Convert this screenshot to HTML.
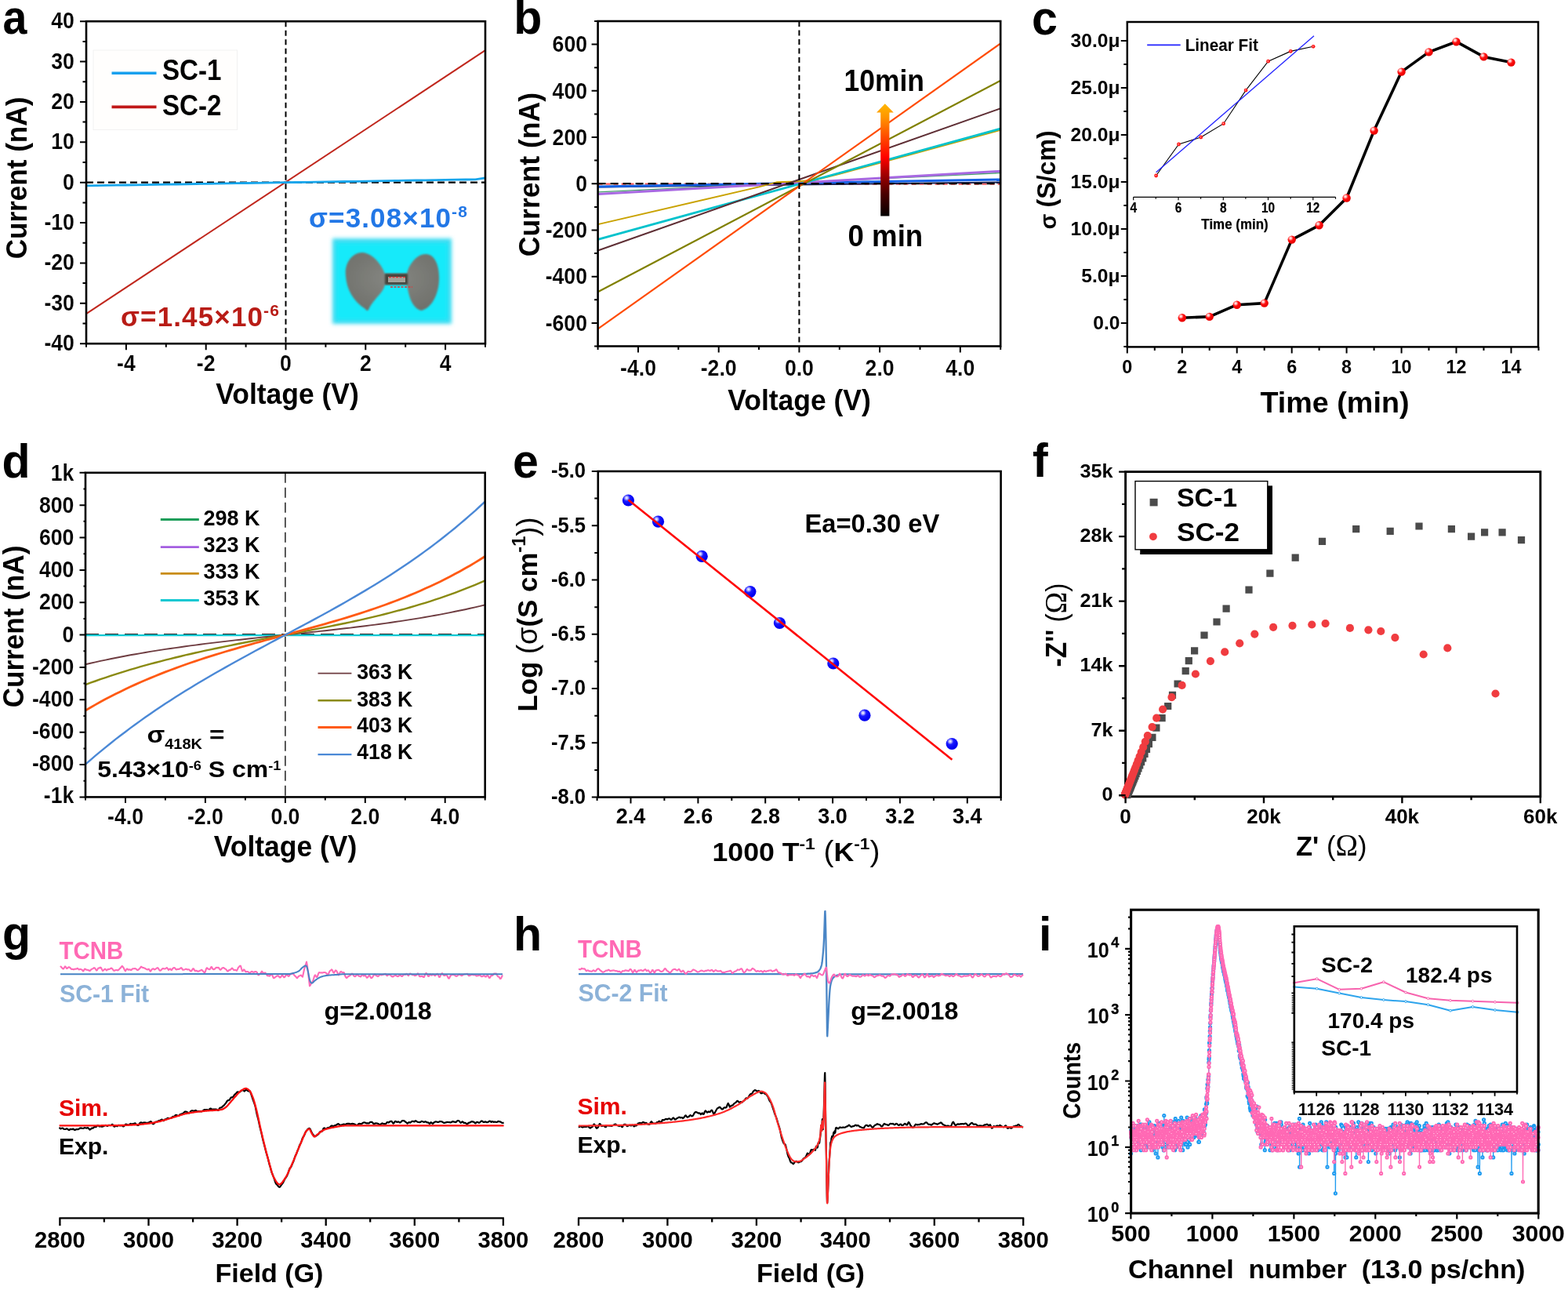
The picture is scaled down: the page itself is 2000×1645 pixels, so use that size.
<!DOCTYPE html>
<html lang="en"><head><meta charset="utf-8"><title>Figure</title>
<style>
html,body{margin:0;padding:0;background:#fff}
body{width:2000px;height:1645px;overflow:hidden}
svg{display:block}
text{font-family:"Liberation Sans", Arial, Helvetica, sans-serif;font-weight:bold}
</style></head><body>
<svg width="2000" height="1645" viewBox="0 0 2000 1645">
<defs>
<filter id="blur3" x="-10%" y="-10%" width="120%" height="120%"><feGaussianBlur stdDeviation="2.5"/></filter>
<filter id="blur1"><feGaussianBlur stdDeviation="0.9"/></filter>
<radialGradient id="padg" cx="50%" cy="45%" r="60%"><stop offset="0" stop-color="#868782"/><stop offset="1" stop-color="#70716c"/></radialGradient>
<linearGradient id="arrg" x1="0" y1="1" x2="0" y2="0"><stop offset="0" stop-color="#050000"/><stop offset="0.2" stop-color="#4a0000"/><stop offset="0.38" stop-color="#a80000"/><stop offset="0.52" stop-color="#ff0000"/><stop offset="0.7" stop-color="#ff4a00"/><stop offset="0.88" stop-color="#ff9500"/><stop offset="1" stop-color="#ffb800"/></linearGradient>
<radialGradient id="ball" cx="35%" cy="32%" r="65%"><stop offset="0" stop-color="#fff"/><stop offset="0.22" stop-color="#ffb0b0"/><stop offset="0.5" stop-color="#ff1010"/><stop offset="1" stop-color="#e80000"/></radialGradient>
<radialGradient id="bball" cx="36%" cy="30%" r="60%"><stop offset="0" stop-color="#fff"/><stop offset="0.18" stop-color="#b8b8ff"/><stop offset="0.45" stop-color="#1a1aff"/><stop offset="1" stop-color="#0000f0"/></radialGradient>
<marker id="mp" markerWidth="6" markerHeight="6" refX="3" refY="3" markerUnits="userSpaceOnUse"><circle cx="3" cy="3" r="1.6" fill="#fff" stroke="#ff69b4" stroke-width="2"/></marker><marker id="mb" markerWidth="6" markerHeight="6" refX="3" refY="3" markerUnits="userSpaceOnUse"><circle cx="3" cy="3" r="1.6" fill="#fff" stroke="#1e9bf0" stroke-width="2"/></marker><marker id="sp" markerWidth="6" markerHeight="6" refX="3" refY="3" markerUnits="userSpaceOnUse"><circle cx="3" cy="3" r="1.4" fill="#fff" stroke="#f763ae" stroke-width="1"/></marker><marker id="sb" markerWidth="6" markerHeight="6" refX="3" refY="3" markerUnits="userSpaceOnUse"><circle cx="3" cy="3" r="1.4" fill="#fff" stroke="#2ea4ec" stroke-width="1"/></marker><clipPath id="cli"><rect x="1439.6" y="1160.2" width="525.6" height="388.9"/></clipPath>
</defs>
<rect width="2000" height="1645" fill="#fff"/>
<g id="pa"><rect x="119" y="64" width="183.5" height="101.5" fill="#fffefd" stroke="#f1f1f1" stroke-width="1"/><line x1="110" y1="232.7" x2="619" y2="232.7" stroke="#000" stroke-width="2.2" stroke-dasharray="9 5"/><line x1="364.5" y1="27.2" x2="364.5" y2="438.2" stroke="#000" stroke-width="2" stroke-dasharray="7 4.5"/><line x1="110" y1="400.2" x2="619" y2="64.2" stroke="#c0261c" stroke-width="2"/><polyline points="110,236.8 122.7,236.6 135.4,236.4 148.2,236.2 160.9,236 173.6,235.8 186.3,235.6 199.1,235.4 211.8,235.2 224.5,235 237.2,234.8 250,234.5 262.7,234.3 275.4,234.1 288.1,233.9 300.9,233.7 313.6,233.5 326.3,233.3 339.1,233.1 351.8,232.9 364.5,232.7 377.2,232.5 390,232.3 402.7,232.1 415.4,231.9 428.1,231.7 440.9,231.5 453.6,231.3 466.3,231.1 479,230.9 491.8,230.6 504.5,230.4 517.2,230.2 529.9,230 542.6,229.8 555.4,229.6 568.1,229.4 580.8,229.2 593.5,229 606.3,228.8 619,226.8" fill="none" stroke="#18a6ec" stroke-width="2.8"/><rect x="110" y="27.2" width="509" height="411" fill="none" stroke="#000" stroke-width="2.6"/><path d="M160.9 438.2v8M262.7 438.2v8M364.5 438.2v8M466.3 438.2v8M568.1 438.2v8" stroke="#000" stroke-width="2" fill="none"/><path d="M110 438.2v4.5M211.8 438.2v4.5M313.6 438.2v4.5M415.4 438.2v4.5M517.2 438.2v4.5M619 438.2v4.5" stroke="#000" stroke-width="2" fill="none"/><path d="M110 438.2h-8M110 386.8h-8M110 335.4h-8M110 284.1h-8M110 232.7h-8M110 181.3h-8M110 129.9h-8M110 78.6h-8M110 27.2h-8" stroke="#000" stroke-width="2" fill="none"/><path d="M110 412.5h-4.5M110 361.1h-4.5M110 309.8h-4.5M110 258.4h-4.5M110 207h-4.5M110 155.6h-4.5M110 104.3h-4.5M110 52.9h-4.5" stroke="#000" stroke-width="2" fill="none"/><text x="160.9" y="473.3" font-size="29.6" text-anchor="middle" textLength="23.7" lengthAdjust="spacingAndGlyphs" stroke="#fff" stroke-width="0.15">-4</text><text x="262.7" y="473.3" font-size="29.6" text-anchor="middle" textLength="23.7" lengthAdjust="spacingAndGlyphs" stroke="#fff" stroke-width="0.15">-2</text><text x="364.5" y="473.3" font-size="29.6" text-anchor="middle" textLength="14.8" lengthAdjust="spacingAndGlyphs" stroke="#fff" stroke-width="0.15">0</text><text x="466.3" y="473.3" font-size="29.6" text-anchor="middle" textLength="14.8" lengthAdjust="spacingAndGlyphs" stroke="#fff" stroke-width="0.15">2</text><text x="568.1" y="473.3" font-size="29.6" text-anchor="middle" textLength="14.8" lengthAdjust="spacingAndGlyphs" stroke="#fff" stroke-width="0.15">4</text><text x="94.9" y="447.2" font-size="29.6" text-anchor="end" textLength="38.5" lengthAdjust="spacingAndGlyphs" stroke="#fff" stroke-width="0.15">-40</text><text x="94.9" y="395.8" font-size="29.6" text-anchor="end" textLength="38.5" lengthAdjust="spacingAndGlyphs" stroke="#fff" stroke-width="0.15">-30</text><text x="94.9" y="344.4" font-size="29.6" text-anchor="end" textLength="38.5" lengthAdjust="spacingAndGlyphs" stroke="#fff" stroke-width="0.15">-20</text><text x="94.9" y="293.1" font-size="29.6" text-anchor="end" textLength="38.5" lengthAdjust="spacingAndGlyphs" stroke="#fff" stroke-width="0.15">-10</text><text x="94.9" y="241.7" font-size="29.6" text-anchor="end" textLength="14.8" lengthAdjust="spacingAndGlyphs" stroke="#fff" stroke-width="0.15">0</text><text x="94.9" y="190.3" font-size="29.6" text-anchor="end" textLength="29.6" lengthAdjust="spacingAndGlyphs" stroke="#fff" stroke-width="0.15">10</text><text x="94.9" y="138.9" font-size="29.6" text-anchor="end" textLength="29.6" lengthAdjust="spacingAndGlyphs" stroke="#fff" stroke-width="0.15">20</text><text x="94.9" y="87.6" font-size="29.6" text-anchor="end" textLength="29.6" lengthAdjust="spacingAndGlyphs" stroke="#fff" stroke-width="0.15">30</text><text x="94.9" y="36.2" font-size="29.6" text-anchor="end" textLength="29.6" lengthAdjust="spacingAndGlyphs" stroke="#fff" stroke-width="0.15">40</text><text font-size="36" text-anchor="middle" textLength="206.7" lengthAdjust="spacingAndGlyphs" transform="translate(34 227) rotate(-90)">Current (nA)</text><text x="366.5" y="514.8" font-size="36" text-anchor="middle" textLength="182.6" lengthAdjust="spacingAndGlyphs">Voltage (V)</text><text x="3.4" y="43.3" font-size="61" textLength="30.9" lengthAdjust="spacingAndGlyphs">a</text><line x1="142.5" y1="93.3" x2="199.5" y2="93.3" stroke="#18a0ee" stroke-width="3.6"/><line x1="142.5" y1="136.4" x2="199.5" y2="136.4" stroke="#c01818" stroke-width="3.6"/><text x="207" y="101.7" font-size="36" textLength="75.5" lengthAdjust="spacingAndGlyphs">SC-1</text><text x="207" y="146.8" font-size="36" textLength="75.5" lengthAdjust="spacingAndGlyphs">SC-2</text><text x="394" y="290.2" font-size="35" fill="#2277e6" textLength="203" lengthAdjust="spacing">σ=3.08×10<tspan font-size="21" dy="-13">-8</tspan><tspan dy="13">​</tspan></text><text x="154" y="416" font-size="35" fill="#b81c16" textLength="203" lengthAdjust="spacing">σ=1.45×10<tspan font-size="21" dy="-13">-6</tspan><tspan dy="13">​</tspan></text><g><rect x="424" y="304" width="152" height="109" fill="#3fdcf2" filter="url(#blur3)"/><rect x="429" y="310" width="142" height="98" fill="#16eafa" filter="url(#blur3)"/><path d="M441 352 C439 336 449 322 462 322 C476 323 487 338 491 349 L519 349 C522 336 532 324 543 324 C556 324 561 342 560 358 C559 378 549 394 537 396 C524 392 521 374 519 363 L491 363 C489 374 477 380 470 395 C469 397 467 396 466 394 C450 384 442 368 441 352Z" fill="url(#padg)" filter="url(#blur1)"/><rect x="491" y="349" width="29" height="14" fill="#45443c" filter="url(#blur1)"/><rect x="495" y="353" width="22" height="7" fill="#a3a39a"/><path d="M496 353.5h22M498 366h28" stroke="#e03a3a" stroke-width="1.3" stroke-dasharray="3 1.5"/></g></g>
<g id="pb"><line x1="762.6" y1="234.6" x2="1276.2" y2="234.6" stroke="#ff5a5a" stroke-width="2.2" stroke-dasharray="6 4"/><line x1="762.6" y1="238.4" x2="1276.2" y2="232.5" stroke="#182050" stroke-width="2"/><line x1="762.6" y1="238.1" x2="1276.2" y2="228.9" stroke="#1462e6" stroke-width="3"/><line x1="762.6" y1="244.9" x2="1276.2" y2="220.6" stroke="#46a06a" stroke-width="1.4"/><line x1="762.6" y1="247.6" x2="1276.2" y2="218.3" stroke="#a868e2" stroke-width="3"/><polyline points="762.6,286.1 968,238.4 991.2,232.2 1014.3,231.6 1039.9,229.5 1070.8,221.8 1276.2,165.9" fill="none" stroke="#c9a200" stroke-width="2"/><line x1="762.6" y1="305.3" x2="1276.2" y2="164.1" stroke="#00c2cc" stroke-width="2.8"/><line x1="762.6" y1="319.5" x2="1276.2" y2="138.3" stroke="#5e2e34" stroke-width="2"/><line x1="762.6" y1="372.2" x2="1276.2" y2="102.8" stroke="#808000" stroke-width="2.2"/><line x1="762.6" y1="419.3" x2="1276.2" y2="55.4" stroke="#ff4a00" stroke-width="2.2"/><line x1="762.6" y1="234.2" x2="1276.2" y2="234.2" stroke="#000" stroke-width="2.2" stroke-dasharray="10 6"/><line x1="1019.4" y1="27" x2="1019.4" y2="441.5" stroke="#000" stroke-width="2" stroke-dasharray="7 4.5"/><path d="M1123.2 275.5V143.5H1118L1128.8 132.2L1139.8 143.5H1134.4V275.5Z" fill="url(#arrg)"/><text x="1076.5" y="116.1" font-size="39.4" textLength="102.5" lengthAdjust="spacingAndGlyphs">10min</text><text x="1081.5" y="314.1" font-size="39.4" textLength="95.7" lengthAdjust="spacingAndGlyphs">0 min</text><rect x="762.6" y="27" width="513.6" height="414.5" fill="none" stroke="#000" stroke-width="2.6"/><path d="M814 441.5v8M916.7 441.5v8M1019.4 441.5v8M1122.1 441.5v8M1224.8 441.5v8" stroke="#000" stroke-width="2" fill="none"/><path d="M762.6 441.5v4.5M865.3 441.5v4.5M968 441.5v4.5M1070.8 441.5v4.5M1173.5 441.5v4.5M1276.2 441.5v4.5" stroke="#000" stroke-width="2" fill="none"/><path d="M762.6 411.9h-8M762.6 352.7h-8M762.6 293.5h-8M762.6 234.2h-8M762.6 175h-8M762.6 115.8h-8M762.6 56.6h-8" stroke="#000" stroke-width="2" fill="none"/><path d="M762.6 441.5h-4.5M762.6 382.3h-4.5M762.6 323.1h-4.5M762.6 263.9h-4.5M762.6 204.6h-4.5M762.6 145.4h-4.5M762.6 86.2h-4.5M762.6 27h-4.5" stroke="#000" stroke-width="2" fill="none"/><text x="814" y="478.6" font-size="29.6" text-anchor="middle" textLength="45.9" lengthAdjust="spacingAndGlyphs" stroke="#fff" stroke-width="0.15">-4.0</text><text x="916.7" y="478.6" font-size="29.6" text-anchor="middle" textLength="45.9" lengthAdjust="spacingAndGlyphs" stroke="#fff" stroke-width="0.15">-2.0</text><text x="1019.4" y="478.6" font-size="29.6" text-anchor="middle" textLength="37" lengthAdjust="spacingAndGlyphs" stroke="#fff" stroke-width="0.15">0.0</text><text x="1122.1" y="478.6" font-size="29.6" text-anchor="middle" textLength="37" lengthAdjust="spacingAndGlyphs" stroke="#fff" stroke-width="0.15">2.0</text><text x="1224.8" y="478.6" font-size="29.6" text-anchor="middle" textLength="37" lengthAdjust="spacingAndGlyphs" stroke="#fff" stroke-width="0.15">4.0</text><text x="749" y="421.6" font-size="29.6" text-anchor="end" textLength="53.3" lengthAdjust="spacingAndGlyphs" stroke="#fff" stroke-width="0.15">-600</text><text x="749" y="362.4" font-size="29.6" text-anchor="end" textLength="53.3" lengthAdjust="spacingAndGlyphs" stroke="#fff" stroke-width="0.15">-400</text><text x="749" y="303.2" font-size="29.6" text-anchor="end" textLength="53.3" lengthAdjust="spacingAndGlyphs" stroke="#fff" stroke-width="0.15">-200</text><text x="749" y="243.9" font-size="29.6" text-anchor="end" textLength="14.8" lengthAdjust="spacingAndGlyphs" stroke="#fff" stroke-width="0.15">0</text><text x="749" y="184.7" font-size="29.6" text-anchor="end" textLength="44.4" lengthAdjust="spacingAndGlyphs" stroke="#fff" stroke-width="0.15">200</text><text x="749" y="125.5" font-size="29.6" text-anchor="end" textLength="44.4" lengthAdjust="spacingAndGlyphs" stroke="#fff" stroke-width="0.15">400</text><text x="749" y="66.3" font-size="29.6" text-anchor="end" textLength="44.4" lengthAdjust="spacingAndGlyphs" stroke="#fff" stroke-width="0.15">600</text><text font-size="36" text-anchor="middle" textLength="209.4" lengthAdjust="spacingAndGlyphs" transform="translate(688 222.6) rotate(-90)">Current (nA)</text><text x="1019.5" y="523" font-size="36" text-anchor="middle" textLength="182.6" lengthAdjust="spacingAndGlyphs">Voltage (V)</text><text x="655.3" y="43.4" font-size="61" textLength="36.1" lengthAdjust="spacingAndGlyphs">b</text></g>
<g id="pc"><polyline points="1507.8,405.3 1542.7,403.9 1577.7,388.7 1612.7,386.6 1647.7,305.6 1682.6,287.3 1717.6,252.5 1752.6,166.6 1787.6,91.6 1822.5,66.4 1857.5,53.2 1892.5,72.4 1927.5,79.6" fill="none" stroke="#000" stroke-width="3.6" stroke-linejoin="round"/><circle cx="1507.8" cy="405.3" r="5.2" fill="url(#ball)"/><circle cx="1542.7" cy="403.9" r="5.2" fill="url(#ball)"/><circle cx="1577.7" cy="388.7" r="5.2" fill="url(#ball)"/><circle cx="1612.7" cy="386.6" r="5.2" fill="url(#ball)"/><circle cx="1647.7" cy="305.6" r="5.2" fill="url(#ball)"/><circle cx="1682.6" cy="287.3" r="5.2" fill="url(#ball)"/><circle cx="1717.6" cy="252.5" r="5.2" fill="url(#ball)"/><circle cx="1752.6" cy="166.6" r="5.2" fill="url(#ball)"/><circle cx="1787.6" cy="91.6" r="5.2" fill="url(#ball)"/><circle cx="1822.5" cy="66.4" r="5.2" fill="url(#ball)"/><circle cx="1857.5" cy="53.2" r="5.2" fill="url(#ball)"/><circle cx="1892.5" cy="72.4" r="5.2" fill="url(#ball)"/><circle cx="1927.5" cy="79.6" r="5.2" fill="url(#ball)"/><polyline points="1474.6,224 1503.5,184 1531.8,175 1560.6,157.7 1589.1,115.1 1617.6,78.2 1646.2,65.4 1675.1,59.3" fill="none" stroke="#000" stroke-width="1.1"/><line x1="1474.6" y1="219.8" x2="1676" y2="45.7" stroke="#2222ff" stroke-width="1.3"/><circle cx="1474.6" cy="224" r="2.4" fill="#ff1818"/><circle cx="1474.3" cy="223.7" r="0.8" fill="#ffc0c0"/><circle cx="1503.5" cy="184" r="2.4" fill="#ff1818"/><circle cx="1503.2" cy="183.7" r="0.8" fill="#ffc0c0"/><circle cx="1531.8" cy="175" r="2.4" fill="#ff1818"/><circle cx="1531.5" cy="174.7" r="0.8" fill="#ffc0c0"/><circle cx="1560.6" cy="157.7" r="2.4" fill="#ff1818"/><circle cx="1560.3" cy="157.4" r="0.8" fill="#ffc0c0"/><circle cx="1589.1" cy="115.1" r="2.4" fill="#ff1818"/><circle cx="1588.8" cy="114.8" r="0.8" fill="#ffc0c0"/><circle cx="1617.6" cy="78.2" r="2.4" fill="#ff1818"/><circle cx="1617.3" cy="77.9" r="0.8" fill="#ffc0c0"/><circle cx="1646.2" cy="65.4" r="2.4" fill="#ff1818"/><circle cx="1645.9" cy="65.1" r="0.8" fill="#ffc0c0"/><circle cx="1675.1" cy="59.3" r="2.4" fill="#ff1818"/><circle cx="1674.8" cy="59" r="0.8" fill="#ffc0c0"/><line x1="1445.7" y1="251.3" x2="1703.5" y2="251.3" stroke="#000" stroke-width="1.3"/><path d="M1445.7 251.3v4M1474.3 251.3v2.5M1503 251.3v4M1531.6 251.3v2.5M1560.3 251.3v4M1588.9 251.3v2.5M1617.5 251.3v4M1646.2 251.3v2.5M1674.8 251.3v4M1703.5 251.3v2.5" stroke="#000" stroke-width="1.2" fill="none"/><text x="1445.7" y="271" font-size="17.5" text-anchor="middle" font-weight="normal" textLength="8.6" lengthAdjust="spacingAndGlyphs" stroke="#000" stroke-width="0.2">4</text><text x="1503" y="271" font-size="17.5" text-anchor="middle" font-weight="normal" textLength="8.6" lengthAdjust="spacingAndGlyphs" stroke="#000" stroke-width="0.2">6</text><text x="1560.3" y="271" font-size="17.5" text-anchor="middle" font-weight="normal" textLength="8.6" lengthAdjust="spacingAndGlyphs" stroke="#000" stroke-width="0.2">8</text><text x="1617.5" y="271" font-size="17.5" text-anchor="middle" font-weight="normal" textLength="17.1" lengthAdjust="spacingAndGlyphs" stroke="#000" stroke-width="0.2">10</text><text x="1674.8" y="271" font-size="17.5" text-anchor="middle" font-weight="normal" textLength="17.1" lengthAdjust="spacingAndGlyphs" stroke="#000" stroke-width="0.2">12</text><text x="1575" y="292" font-size="18" text-anchor="middle" font-weight="normal" textLength="85.3" lengthAdjust="spacingAndGlyphs" stroke="#000" stroke-width="0.25">Time (min)</text><line x1="1463.2" y1="57.3" x2="1505.7" y2="57.3" stroke="#2222ff" stroke-width="1.8"/><text x="1511.7" y="65" font-size="22.5" textLength="93.2" lengthAdjust="spacingAndGlyphs">Linear Fit</text><rect x="1437.8" y="28" width="524.2" height="414.4" fill="none" stroke="#000" stroke-width="2.5"/><path d="M1437.8 442.4v8M1507.8 442.4v8M1577.7 442.4v8M1647.7 442.4v8M1717.6 442.4v8M1787.6 442.4v8M1857.5 442.4v8M1927.5 442.4v8" stroke="#000" stroke-width="2" fill="none"/><path d="M1472.8 442.4v4.5M1542.7 442.4v4.5M1612.7 442.4v4.5M1682.6 442.4v4.5M1752.6 442.4v4.5M1822.5 442.4v4.5M1892.5 442.4v4.5M1962.5 442.4v4.5" stroke="#000" stroke-width="2" fill="none"/><path d="M1437.8 412.1h-8M1437.8 352.1h-8M1437.8 292.1h-8M1437.8 232h-8M1437.8 172h-8M1437.8 112h-8M1437.8 52h-8" stroke="#000" stroke-width="2" fill="none"/><path d="M1437.8 442.1h-4.5M1437.8 382.1h-4.5M1437.8 322.1h-4.5M1437.8 262.1h-4.5M1437.8 202h-4.5M1437.8 142h-4.5M1437.8 82h-4.5" stroke="#000" stroke-width="2" fill="none"/><text x="1437.8" y="476.4" font-size="24.6" text-anchor="middle" textLength="13" lengthAdjust="spacingAndGlyphs">0</text><text x="1507.8" y="476.4" font-size="24.6" text-anchor="middle" textLength="13" lengthAdjust="spacingAndGlyphs">2</text><text x="1577.7" y="476.4" font-size="24.6" text-anchor="middle" textLength="13" lengthAdjust="spacingAndGlyphs">4</text><text x="1647.7" y="476.4" font-size="24.6" text-anchor="middle" textLength="13" lengthAdjust="spacingAndGlyphs">6</text><text x="1717.6" y="476.4" font-size="24.6" text-anchor="middle" textLength="13" lengthAdjust="spacingAndGlyphs">8</text><text x="1787.6" y="476.4" font-size="24.6" text-anchor="middle" textLength="26" lengthAdjust="spacingAndGlyphs">10</text><text x="1857.5" y="476.4" font-size="24.6" text-anchor="middle" textLength="26" lengthAdjust="spacingAndGlyphs">12</text><text x="1927.5" y="476.4" font-size="24.6" text-anchor="middle" textLength="26" lengthAdjust="spacingAndGlyphs">14</text><text x="1428.5" y="419.6" font-size="24.6" text-anchor="end" textLength="34.2" lengthAdjust="spacingAndGlyphs">0.0</text><text x="1428.5" y="359.6" font-size="24.6" text-anchor="end" textLength="49.2" lengthAdjust="spacingAndGlyphs">5.0μ</text><text x="1428.5" y="299.6" font-size="24.6" text-anchor="end" textLength="62.9" lengthAdjust="spacingAndGlyphs">10.0μ</text><text x="1428.5" y="239.5" font-size="24.6" text-anchor="end" textLength="62.9" lengthAdjust="spacingAndGlyphs">15.0μ</text><text x="1428.5" y="179.5" font-size="24.6" text-anchor="end" textLength="62.9" lengthAdjust="spacingAndGlyphs">20.0μ</text><text x="1428.5" y="119.5" font-size="24.6" text-anchor="end" textLength="62.9" lengthAdjust="spacingAndGlyphs">25.0μ</text><text x="1428.5" y="59.5" font-size="24.6" text-anchor="end" textLength="62.9" lengthAdjust="spacingAndGlyphs">30.0μ</text><text font-size="29" font-weight="normal" transform="translate(1346.5 292.5) rotate(-90)">σ</text><text font-size="33" textLength="98.3" lengthAdjust="spacingAndGlyphs" transform="translate(1346 264.5) rotate(-90)">(S/cm)</text><text x="1702.5" y="526" font-size="37" text-anchor="middle" textLength="190.1" lengthAdjust="spacingAndGlyphs">Time (min)</text><text x="1315.9" y="43.6" font-size="61" textLength="32.9" lengthAdjust="spacingAndGlyphs">c</text></g>
<g id="pd"><line x1="109" y1="809" x2="618.7" y2="809" stroke="#222" stroke-width="2.2" stroke-dasharray="17 8"/><line x1="363.9" y1="602.8" x2="363.9" y2="1016.4" stroke="#111" stroke-width="1.4" stroke-dasharray="13 6"/><line x1="109" y1="810.1" x2="618.7" y2="810.1" stroke="#10c8d2" stroke-width="2.2"/><polyline points="109,847.2 115.4,845.8 121.7,844.3 128.1,842.9 134.5,841.6 140.9,840.3 147.2,839 153.6,837.7 160,836.5 166.3,835.3 172.7,834.2 179.1,833.1 185.5,832 191.8,830.9 198.2,829.9 204.6,828.9 210.9,827.9 217.3,827 223.7,826.1 230.1,825.2 236.4,824.3 242.8,823.4 249.2,822.6 255.5,821.7 261.9,820.9 268.3,820.1 274.7,819.4 281,818.6 287.4,817.9 293.8,817.1 300.1,816.4 306.5,815.7 312.9,815 319.3,814.3 325.6,813.6 332,812.9 338.4,812.3 344.7,811.6 351.1,810.9 357.5,810.3 363.9,809.6 370.2,808.9 376.6,808.3 383,807.6 389.3,806.9 395.7,806.3 402.1,805.6 408.4,804.9 414.8,804.2 421.2,803.5 427.6,802.8 433.9,802 440.3,801.3 446.7,800.6 453,799.8 459.4,799 465.8,798.2 472.2,797.4 478.5,796.6 484.9,795.7 491.3,794.9 497.6,794 504,793 510.4,792.1 516.8,791.1 523.1,790.1 529.5,789.1 535.9,788.1 542.2,787 548.6,785.9 555,784.7 561.4,783.6 567.7,782.4 574.1,781.1 580.5,779.8 586.8,778.5 593.2,777.2 599.6,775.8 606,774.3 612.3,772.9 618.7,771.3" fill="none" stroke="#6e3c40" stroke-width="1.9" stroke-linejoin="round"/><polyline points="109,873.1 115.4,870.7 121.7,868.5 128.1,866.2 134.5,864.1 140.9,861.9 147.2,859.9 153.6,857.8 160,855.9 166.3,853.9 172.7,852.1 179.1,850.2 185.5,848.4 191.8,846.7 198.2,845 204.6,843.3 210.9,841.7 217.3,840.1 223.7,838.5 230.1,837 236.4,835.4 242.8,834 249.2,832.5 255.5,831.1 261.9,829.7 268.3,828.3 274.7,827 281,825.7 287.4,824.4 293.8,823.1 300.1,821.8 306.5,820.5 312.9,819.3 319.3,818 325.6,816.8 332,815.6 338.4,814.4 344.7,813.2 351.1,812 357.5,810.8 363.9,809.6 370.2,808.4 376.6,807.2 383,806 389.3,804.8 395.7,803.6 402.1,802.4 408.4,801.1 414.8,799.9 421.2,798.6 427.6,797.3 433.9,796 440.3,794.7 446.7,793.3 453,792 459.4,790.6 465.8,789.1 472.2,787.6 478.5,786.1 484.9,784.6 491.3,783 497.6,781.4 504,779.7 510.4,778 516.8,776.3 523.1,774.5 529.5,772.6 535.9,770.7 542.2,768.8 548.6,766.8 555,764.7 561.4,762.6 567.7,760.4 574.1,758.1 580.5,755.8 586.8,753.4 593.2,750.9 599.6,748.4 606,745.8 612.3,743.1 618.7,740.3" fill="none" stroke="#8a8a12" stroke-width="2.4" stroke-linejoin="round"/><polyline points="109,906 115.4,902.2 121.7,898.6 128.1,895.1 134.5,891.6 140.9,888.3 147.2,885.1 153.6,881.9 160,878.8 166.3,875.8 172.7,872.9 179.1,870 185.5,867.3 191.8,864.6 198.2,862 204.6,859.4 210.9,856.9 217.3,854.5 223.7,852.1 230.1,849.8 236.4,847.5 242.8,845.3 249.2,843.1 255.5,841 261.9,838.9 268.3,836.9 274.7,834.9 281,833 287.4,831 293.8,829.1 300.1,827.3 306.5,825.4 312.9,823.6 319.3,821.8 325.6,820 332,818.3 338.4,816.5 344.7,814.8 351.1,813.1 357.5,811.3 363.9,809.6 370.2,807.9 376.6,806.1 383,804.4 389.3,802.7 395.7,800.9 402.1,799.1 408.4,797.4 414.8,795.6 421.2,793.7 427.6,791.9 433.9,790 440.3,788.1 446.7,786.1 453,784.1 459.4,782.1 465.8,780 472.2,777.9 478.5,775.7 484.9,773.5 491.3,771.2 497.6,768.9 504,766.5 510.4,764 516.8,761.5 523.1,758.9 529.5,756.2 535.9,753.5 542.2,750.6 548.6,747.7 555,744.7 561.4,741.7 567.7,738.5 574.1,735.2 580.5,731.8 586.8,728.4 593.2,724.8 599.6,721.2 606,717.4 612.3,713.5 618.7,709.5" fill="none" stroke="#ff5a14" stroke-width="2.8" stroke-linejoin="round"/><polyline points="109,974.6 115.4,969.1 121.7,963.7 128.1,958.3 134.5,953.1 140.9,948 147.2,942.9 153.6,938 160,933.2 166.3,928.4 172.7,923.7 179.1,919.1 185.5,914.6 191.8,910.2 198.2,905.8 204.6,901.6 210.9,897.3 217.3,893.2 223.7,889.1 230.1,885.1 236.4,881.1 242.8,877.2 249.2,873.3 255.5,869.5 261.9,865.7 268.3,862 274.7,858.3 281,854.7 287.4,851.1 293.8,847.5 300.1,844 306.5,840.5 312.9,837 319.3,833.5 325.6,830 332,826.6 338.4,823.2 344.7,819.8 351.1,816.4 357.5,813 363.9,809.6 370.2,806.2 376.6,802.8 383,799.4 389.3,796 395.7,792.6 402.1,789.1 408.4,785.7 414.8,782.2 421.2,778.7 427.6,775.1 433.9,771.6 440.3,768 446.7,764.3 453,760.6 459.4,756.9 465.8,753.1 472.2,749.3 478.5,745.4 484.9,741.5 491.3,737.5 497.6,733.4 504,729.3 510.4,725.1 516.8,720.8 523.1,716.4 529.5,712 535.9,707.5 542.2,702.9 548.6,698.2 555,693.4 561.4,688.5 567.7,683.5 574.1,678.4 580.5,673.2 586.8,667.9 593.2,662.5 599.6,656.9 606,651.3 612.3,645.5 618.7,639.6" fill="none" stroke="#4a88d6" stroke-width="2.4" stroke-linejoin="round"/><line x1="204.8" y1="662.6" x2="253.8" y2="662.6" stroke="#1e9e5a" stroke-width="3"/><text x="259.5" y="670.1" font-size="27" textLength="72" lengthAdjust="spacingAndGlyphs">298 K</text><line x1="204.8" y1="697.6" x2="253.8" y2="697.6" stroke="#a45ee0" stroke-width="2.6"/><text x="259.5" y="703.9" font-size="27" textLength="72" lengthAdjust="spacingAndGlyphs">323 K</text><line x1="204.8" y1="731.4" x2="253.8" y2="731.4" stroke="#c98c12" stroke-width="2.6"/><text x="259.5" y="738.4" font-size="27" textLength="72" lengthAdjust="spacingAndGlyphs">333 K</text><line x1="204.8" y1="765.5" x2="253.8" y2="765.5" stroke="#10c8d2" stroke-width="2.8"/><text x="259.5" y="772" font-size="27" textLength="72" lengthAdjust="spacingAndGlyphs">353 K</text><line x1="405.5" y1="858.6" x2="448.4" y2="858.6" stroke="#6e3c40" stroke-width="1.8"/><text x="455.3" y="866.4" font-size="27" textLength="71" lengthAdjust="spacingAndGlyphs">363 K</text><line x1="405.5" y1="893.2" x2="448.4" y2="893.2" stroke="#8a8a12" stroke-width="2.6"/><text x="455.3" y="900.7" font-size="27" textLength="71" lengthAdjust="spacingAndGlyphs">383 K</text><line x1="405.5" y1="927.5" x2="448.4" y2="927.5" stroke="#ff5a14" stroke-width="3"/><text x="455.3" y="934.2" font-size="27" textLength="71" lengthAdjust="spacingAndGlyphs">403 K</text><line x1="405.5" y1="962.1" x2="448.4" y2="962.1" stroke="#4a88d6" stroke-width="2.4"/><text x="455.3" y="967.8" font-size="27" textLength="71" lengthAdjust="spacingAndGlyphs">418 K</text><text x="187.5" y="946.5" font-size="30" textLength="99" lengthAdjust="spacingAndGlyphs">σ<tspan font-size="18" dy="8">418K</tspan><tspan dy="-8">​</tspan> =</text><text x="124.3" y="991.2" font-size="30" textLength="234" lengthAdjust="spacingAndGlyphs">5.43×10<tspan font-size="17" dy="-9.3">-6</tspan><tspan dy="9.3">​</tspan> S cm<tspan font-size="17" dy="-9.3">-1</tspan><tspan dy="9.3">​</tspan></text><rect x="109" y="602.8" width="509.7" height="413.6" fill="none" stroke="#000" stroke-width="2.6"/><path d="M160 1016.4v7.5M261.9 1016.4v7.5M363.9 1016.4v7.5M465.8 1016.4v7.5M567.7 1016.4v7.5" stroke="#000" stroke-width="2" fill="none"/><path d="M109 1016.4v4M210.9 1016.4v4M312.9 1016.4v4M414.8 1016.4v4M516.8 1016.4v4M618.7 1016.4v4" stroke="#000" stroke-width="2" fill="none"/><path d="M109 1016.4h-7.5M109 975h-7.5M109 933.7h-7.5M109 892.3h-7.5M109 851h-7.5M109 809.6h-7.5M109 768.2h-7.5M109 726.9h-7.5M109 685.5h-7.5M109 644.2h-7.5M109 602.8h-7.5" stroke="#000" stroke-width="2" fill="none"/><path d="M109 995.7h-2.5M109 954.4h-2.5M109 913h-2.5M109 871.6h-2.5M109 830.3h-2.5M109 788.9h-2.5M109 747.6h-2.5M109 706.2h-2.5M109 664.8h-2.5M109 623.5h-2.5" stroke="#000" stroke-width="2" fill="none"/><text x="160" y="1051.2" font-size="29.6" text-anchor="middle" textLength="45.9" lengthAdjust="spacingAndGlyphs" stroke="#fff" stroke-width="0.15">-4.0</text><text x="261.9" y="1051.2" font-size="29.6" text-anchor="middle" textLength="45.9" lengthAdjust="spacingAndGlyphs" stroke="#fff" stroke-width="0.15">-2.0</text><text x="363.9" y="1051.2" font-size="29.6" text-anchor="middle" textLength="37" lengthAdjust="spacingAndGlyphs" stroke="#fff" stroke-width="0.15">0.0</text><text x="465.8" y="1051.2" font-size="29.6" text-anchor="middle" textLength="37" lengthAdjust="spacingAndGlyphs" stroke="#fff" stroke-width="0.15">2.0</text><text x="567.7" y="1051.2" font-size="29.6" text-anchor="middle" textLength="37" lengthAdjust="spacingAndGlyphs" stroke="#fff" stroke-width="0.15">4.0</text><text x="94.3" y="1024.2" font-size="29.6" text-anchor="end" textLength="38.5" lengthAdjust="spacingAndGlyphs" stroke="#fff" stroke-width="0.15">-1k</text><text x="94.3" y="983.1" font-size="29.6" text-anchor="end" textLength="53.3" lengthAdjust="spacingAndGlyphs" stroke="#fff" stroke-width="0.15">-800</text><text x="94.3" y="941.9" font-size="29.6" text-anchor="end" textLength="53.3" lengthAdjust="spacingAndGlyphs" stroke="#fff" stroke-width="0.15">-600</text><text x="94.3" y="900.8" font-size="29.6" text-anchor="end" textLength="53.3" lengthAdjust="spacingAndGlyphs" stroke="#fff" stroke-width="0.15">-400</text><text x="94.3" y="859.6" font-size="29.6" text-anchor="end" textLength="53.3" lengthAdjust="spacingAndGlyphs" stroke="#fff" stroke-width="0.15">-200</text><text x="94.3" y="818.5" font-size="29.6" text-anchor="end" textLength="14.8" lengthAdjust="spacingAndGlyphs" stroke="#fff" stroke-width="0.15">0</text><text x="94.3" y="777.4" font-size="29.6" text-anchor="end" textLength="44.4" lengthAdjust="spacingAndGlyphs" stroke="#fff" stroke-width="0.15">200</text><text x="94.3" y="736.2" font-size="29.6" text-anchor="end" textLength="44.4" lengthAdjust="spacingAndGlyphs" stroke="#fff" stroke-width="0.15">400</text><text x="94.3" y="695.1" font-size="29.6" text-anchor="end" textLength="44.4" lengthAdjust="spacingAndGlyphs" stroke="#fff" stroke-width="0.15">600</text><text x="94.3" y="653.9" font-size="29.6" text-anchor="end" textLength="44.4" lengthAdjust="spacingAndGlyphs" stroke="#fff" stroke-width="0.15">800</text><text x="94.3" y="612.8" font-size="29.6" text-anchor="end" textLength="29.6" lengthAdjust="spacingAndGlyphs" stroke="#fff" stroke-width="0.15">1k</text><text font-size="36" text-anchor="middle" textLength="206.7" lengthAdjust="spacingAndGlyphs" transform="translate(29.5 799) rotate(-90)">Current (nA)</text><text x="364" y="1092.1" font-size="36" text-anchor="middle" textLength="182.6" lengthAdjust="spacingAndGlyphs">Voltage (V)</text><text x="2.4" y="609.3" font-size="61" textLength="36.1" lengthAdjust="spacingAndGlyphs">d</text></g>
<g id="pe"><circle cx="801.4" cy="638" r="7.6" fill="url(#bball)"/><circle cx="839.5" cy="665.2" r="7.6" fill="url(#bball)"/><circle cx="895.2" cy="709.4" r="7.6" fill="url(#bball)"/><circle cx="956.9" cy="754.6" r="7.6" fill="url(#bball)"/><circle cx="994.4" cy="794.5" r="7.6" fill="url(#bball)"/><circle cx="1062.8" cy="846" r="7.6" fill="url(#bball)"/><circle cx="1102.9" cy="912.2" r="7.6" fill="url(#bball)"/><circle cx="1214.2" cy="948.5" r="7.6" fill="url(#bball)"/><line x1="801.5" y1="637.5" x2="1214.4" y2="968.8" stroke="#ff0808" stroke-width="2.6"/><text x="1026.5" y="678.8" font-size="33" textLength="171.7" lengthAdjust="spacingAndGlyphs">Ea=0.30 eV</text><rect x="762.8" y="601" width="513.8" height="415.6" fill="none" stroke="#000" stroke-width="2.6"/><path d="M804.5 1016.6v8M890.4 1016.6v8M976.2 1016.6v8M1062.1 1016.6v8M1147.9 1016.6v8M1233.8 1016.6v8" stroke="#000" stroke-width="2" fill="none"/><path d="M761.6 1016.6v4.5M847.4 1016.6v4.5M933.3 1016.6v4.5M1019.1 1016.6v4.5M1105 1016.6v4.5M1190.9 1016.6v4.5M1276.7 1016.6v4.5" stroke="#000" stroke-width="2" fill="none"/><path d="M762.8 1016.6h-8M762.8 947.3h-8M762.8 878.1h-8M762.8 808.8h-8M762.8 739.5h-8M762.8 670.3h-8M762.8 601h-8" stroke="#000" stroke-width="2" fill="none"/><path d="M762.8 982h-4.5M762.8 912.7h-4.5M762.8 843.4h-4.5M762.8 774.2h-4.5M762.8 704.9h-4.5M762.8 635.6h-4.5" stroke="#000" stroke-width="2" fill="none"/><text x="804.5" y="1050.3" font-size="27.5" text-anchor="middle" textLength="37.5" lengthAdjust="spacingAndGlyphs">2.4</text><text x="890.4" y="1050.3" font-size="27.5" text-anchor="middle" textLength="37.5" lengthAdjust="spacingAndGlyphs">2.6</text><text x="976.2" y="1050.3" font-size="27.5" text-anchor="middle" textLength="37.5" lengthAdjust="spacingAndGlyphs">2.8</text><text x="1062.1" y="1050.3" font-size="27.5" text-anchor="middle" textLength="37.5" lengthAdjust="spacingAndGlyphs">3.0</text><text x="1147.9" y="1050.3" font-size="27.5" text-anchor="middle" textLength="37.5" lengthAdjust="spacingAndGlyphs">3.2</text><text x="1233.8" y="1050.3" font-size="27.5" text-anchor="middle" textLength="37.5" lengthAdjust="spacingAndGlyphs">3.4</text><text x="747" y="1024.9" font-size="27.5" text-anchor="end" textLength="44.1" lengthAdjust="spacingAndGlyphs">-8.0</text><text x="747" y="955.6" font-size="27.5" text-anchor="end" textLength="44.1" lengthAdjust="spacingAndGlyphs">-7.5</text><text x="747" y="886.4" font-size="27.5" text-anchor="end" textLength="44.1" lengthAdjust="spacingAndGlyphs">-7.0</text><text x="747" y="817.1" font-size="27.5" text-anchor="end" textLength="44.1" lengthAdjust="spacingAndGlyphs">-6.5</text><text x="747" y="747.8" font-size="27.5" text-anchor="end" textLength="44.1" lengthAdjust="spacingAndGlyphs">-6.0</text><text x="747" y="678.6" font-size="27.5" text-anchor="end" textLength="44.1" lengthAdjust="spacingAndGlyphs">-5.5</text><text x="747" y="609.3" font-size="27.5" text-anchor="end" textLength="44.1" lengthAdjust="spacingAndGlyphs">-5.0</text><text font-size="35.5" textLength="248" lengthAdjust="spacingAndGlyphs" transform="translate(685 907.5) rotate(-90)">Log <tspan font-weight="normal" font-size="37">(σ</tspan>(S cm<tspan font-size="24" dy="-15">-1</tspan><tspan dy="15">​</tspan><tspan font-weight="normal" font-size="37">))</tspan></text><text x="908.5" y="1098" font-size="33" textLength="214" lengthAdjust="spacingAndGlyphs">1000 T<tspan font-size="21" dy="-15">-1</tspan><tspan dy="15">​</tspan><tspan font-weight="normal" font-size="36">  (</tspan>K<tspan font-size="21" dy="-15">-1</tspan><tspan dy="15">​</tspan><tspan font-weight="normal" font-size="36">)</tspan></text><text x="653.9" y="609" font-size="61" textLength="32.9" lengthAdjust="spacingAndGlyphs">e</text></g>
<g id="pf"><rect x="1454.2" y="619.4" width="168.8" height="87.6" fill="#000" stroke="none" stroke-width="0"/><rect x="1448" y="613.6" width="168.8" height="87.2" fill="#fff" stroke="#000" stroke-width="1.4"/><rect x="1466.6" y="635.8" width="10" height="9.6" fill="#4b4b4b" stroke="none" stroke-width="0"/><circle cx="1470.9" cy="684.3" r="4.9" fill="#f03c40"/><text x="1501" y="646.4" font-size="33.5" textLength="77" lengthAdjust="spacingAndGlyphs">SC-1</text><text x="1501" y="690.4" font-size="33.5" textLength="80" lengthAdjust="spacingAndGlyphs">SC-2</text><rect x="1435.6" y="601.6" width="529.2" height="414.2" fill="none" stroke="#000" stroke-width="2.9"/><path d="M1935.9 684.1h9.2v9.2h-9.2zM1911.5 674.2h9.2v9.2h-9.2zM1889 674.2h9.2v9.2h-9.2zM1872 679.6h9.2v9.2h-9.2zM1846.8 670.1h9.2v9.2h-9.2zM1805.4 666.4h9.2v9.2h-9.2zM1768.6 672.8h9.2v9.2h-9.2zM1725.1 670.1h9.2v9.2h-9.2zM1681.9 685.8h9.2v9.2h-9.2zM1647.6 706.5h9.2v9.2h-9.2zM1615.3 726.6h9.2v9.2h-9.2zM1588.4 747.6h9.2v9.2h-9.2zM1559.5 771.5h9.2v9.2h-9.2zM1547.4 788.4h9.2v9.2h-9.2zM1531.4 805.4h9.2v9.2h-9.2zM1519 825.3h9.2v9.2h-9.2zM1511.7 838h9.2v9.2h-9.2zM1507.6 851.1h9.2v9.2h-9.2zM1497.5 867.4h9.2v9.2h-9.2zM1490.9 881.8h9.2v9.2h-9.2zM1485.1 895.9h9.2v9.2h-9.2zM1477.5 911.1h9.2v9.2h-9.2zM1470.3 923.6h9.2v9.2h-9.2zM1465.3 935.8h9.2v9.2h-9.2zM1460.8 944.1h9.2v9.2h-9.2zM1457.9 950.8h9.2v9.2h-9.2zM1455.4 956.8h9.2v9.2h-9.2zM1453.1 962.2h9.2v9.2h-9.2zM1451 967.1h9.2v9.2h-9.2zM1449.1 971.4h9.2v9.2h-9.2zM1447.4 975.4h9.2v9.2h-9.2zM1445.9 978.9h9.2v9.2h-9.2zM1444.5 982.1h9.2v9.2h-9.2zM1443.3 985h9.2v9.2h-9.2zM1442.2 987.6h9.2v9.2h-9.2zM1441.2 989.9h9.2v9.2h-9.2zM1440.3 992h9.2v9.2h-9.2zM1439.5 993.9h9.2v9.2h-9.2zM1438.7 995.6h9.2v9.2h-9.2zM1438.1 997.1h9.2v9.2h-9.2zM1437.5 998.5h9.2v9.2h-9.2zM1437 999.7h9.2v9.2h-9.2zM1436.5 1000.8h9.2v9.2h-9.2zM1436.1 1001.8h9.2v9.2h-9.2zM1435.7 1002.7h9.2v9.2h-9.2zM1435.3 1003.6h9.2v9.2h-9.2zM1435 1004.3h9.2v9.2h-9.2zM1434.7 1004.9h9.2v9.2h-9.2zM1434.5 1005.5h9.2v9.2h-9.2zM1434.3 1006.1h9.2v9.2h-9.2zM1434.1 1006.5h9.2v9.2h-9.2zM1433.9 1007h9.2v9.2h-9.2zM1433.7 1007.4h9.2v9.2h-9.2zM1433.6 1007.7h9.2v9.2h-9.2zM1433.4 1008h9.2v9.2h-9.2zM1433.3 1008.3h9.2v9.2h-9.2zM1433.2 1008.6h9.2v9.2h-9.2zM1433.1 1008.8h9.2v9.2h-9.2zM1433 1009h9.2v9.2h-9.2z" fill="#4b4b4b"/><g fill="#f03c40"><circle cx="1907.5" cy="884.5" r="5.1"/><circle cx="1846.3" cy="826.4" r="5.1"/><circle cx="1815.7" cy="834.5" r="5.1"/><circle cx="1779.4" cy="813.1" r="5.1"/><circle cx="1761.3" cy="805" r="5.1"/><circle cx="1745.4" cy="803.3" r="5.1"/><circle cx="1721.9" cy="800.9" r="5.1"/><circle cx="1690.6" cy="795.1" r="5.1"/><circle cx="1673.3" cy="796.5" r="5.1"/><circle cx="1648.5" cy="797.8" r="5.1"/><circle cx="1624.1" cy="799.8" r="5.1"/><circle cx="1600.3" cy="808.6" r="5.1"/><circle cx="1581.2" cy="820.3" r="5.1"/><circle cx="1562.2" cy="831.4" r="5.1"/><circle cx="1543.9" cy="843.1" r="5.1"/><circle cx="1524.9" cy="859.5" r="5.1"/><circle cx="1507.6" cy="873.9" r="5.1"/><circle cx="1494.5" cy="889.1" r="5.1"/><circle cx="1483.1" cy="904.6" r="5.1"/><circle cx="1475.2" cy="915.7" r="5.1"/><circle cx="1469.6" cy="927.1" r="5.1"/><circle cx="1463.8" cy="938.1" r="5.1"/><circle cx="1460.8" cy="945.8" r="5.1"/><circle cx="1458.2" cy="952.8" r="5.1"/><circle cx="1455.7" cy="959.1" r="5.1"/><circle cx="1453.6" cy="964.7" r="5.1"/><circle cx="1451.6" cy="969.8" r="5.1"/><circle cx="1449.9" cy="974.4" r="5.1"/><circle cx="1448.3" cy="978.5" r="5.1"/><circle cx="1446.9" cy="982.2" r="5.1"/><circle cx="1445.6" cy="985.5" r="5.1"/><circle cx="1444.4" cy="988.5" r="5.1"/><circle cx="1443.4" cy="991.2" r="5.1"/><circle cx="1442.5" cy="993.7" r="5.1"/><circle cx="1441.6" cy="995.9" r="5.1"/><circle cx="1440.9" cy="997.8" r="5.1"/><circle cx="1440.2" cy="999.6" r="5.1"/><circle cx="1439.6" cy="1001.2" r="5.1"/><circle cx="1439" cy="1002.6" r="5.1"/><circle cx="1438.5" cy="1003.9" r="5.1"/><circle cx="1438.1" cy="1005.1" r="5.1"/><circle cx="1437.7" cy="1006.1" r="5.1"/><circle cx="1437.3" cy="1007.1" r="5.1"/><circle cx="1437" cy="1007.9" r="5.1"/><circle cx="1436.7" cy="1008.7" r="5.1"/><circle cx="1436.4" cy="1009.4" r="5.1"/><circle cx="1436.2" cy="1010" r="5.1"/><circle cx="1436" cy="1010.5" r="5.1"/><circle cx="1435.8" cy="1011.1" r="5.1"/><circle cx="1435.6" cy="1011.5" r="5.1"/><circle cx="1435.5" cy="1011.9" r="5.1"/><circle cx="1435.3" cy="1012.3" r="5.1"/><circle cx="1435.2" cy="1012.6" r="5.1"/><circle cx="1435.1" cy="1012.9" r="5.1"/><circle cx="1435" cy="1013.2" r="5.1"/><circle cx="1434.9" cy="1013.4" r="5.1"/></g><path d="M1435.6 1015.8v8.5M1612 1015.8v8.5M1788.4 1015.8v8.5M1964.8 1015.8v8.5" stroke="#000" stroke-width="2.4" fill="none"/><path d="M1523.8 1015.8v4.5M1700.2 1015.8v4.5M1876.6 1015.8v4.5" stroke="#000" stroke-width="2.4" fill="none"/><path d="M1435.6 1014.2h-8.5M1435.6 931.7h-8.5M1435.6 849.2h-8.5M1435.6 766.6h-8.5M1435.6 684.1h-8.5M1435.6 601.6h-8.5" stroke="#000" stroke-width="2.4" fill="none"/><path d="M1435.6 972.9h-4.5M1435.6 890.4h-4.5M1435.6 807.9h-4.5M1435.6 725.4h-4.5M1435.6 642.9h-4.5" stroke="#000" stroke-width="2.4" fill="none"/><text x="1435.6" y="1050" font-size="25" text-anchor="middle" textLength="14.5" lengthAdjust="spacingAndGlyphs">0</text><text x="1612" y="1050" font-size="25" text-anchor="middle" textLength="43.4" lengthAdjust="spacingAndGlyphs">20k</text><text x="1788.4" y="1050" font-size="25" text-anchor="middle" textLength="43.4" lengthAdjust="spacingAndGlyphs">40k</text><text x="1964.8" y="1050" font-size="25" text-anchor="middle" textLength="43.4" lengthAdjust="spacingAndGlyphs">60k</text><text x="1419.5" y="1021.2" font-size="24.5" text-anchor="end" textLength="14" lengthAdjust="spacingAndGlyphs">0</text><text x="1419.5" y="938.7" font-size="24.5" text-anchor="end" textLength="28.1" lengthAdjust="spacingAndGlyphs">7k</text><text x="1419.5" y="856.2" font-size="24.5" text-anchor="end" textLength="42.1" lengthAdjust="spacingAndGlyphs">14k</text><text x="1419.5" y="773.6" font-size="24.5" text-anchor="end" textLength="42.1" lengthAdjust="spacingAndGlyphs">21k</text><text x="1419.5" y="691.1" font-size="24.5" text-anchor="end" textLength="42.1" lengthAdjust="spacingAndGlyphs">28k</text><text x="1419.5" y="608.6" font-size="24.5" text-anchor="end" textLength="42.1" lengthAdjust="spacingAndGlyphs">35k</text><text font-size="36" textLength="107" lengthAdjust="spacingAndGlyphs" transform="translate(1359.7 850.5) rotate(-90)">-Z''<tspan font-weight="normal"> (</tspan><tspan font-weight="normal" font-family="Liberation Serif,serif" font-size="40">Ω</tspan><tspan font-weight="normal">)</tspan></text><text x="1653" y="1090.5" font-size="35" textLength="90.5" lengthAdjust="spacingAndGlyphs">Z'<tspan font-weight="normal"> (</tspan><tspan font-weight="normal" font-family="Liberation Serif,serif" font-size="39">Ω</tspan><tspan font-weight="normal">)</tspan></text><text x="1316.9" y="607.7" font-size="61" textLength="19.7" lengthAdjust="spacingAndGlyphs">f</text></g>
<g id="pg"><polyline points="77,1231.9 78,1233.1 79,1234.1 80,1235.3 81,1235.5 82,1233.8 83,1232.3 84,1233.3 85,1234.9 86,1234.7 87,1233.6 88,1233.3 89,1233.7 90,1234.8 91,1235.9 92,1235.7 93,1236 94,1236.4 95,1235.8 96,1235.6 97,1235.8 98,1235.2 99,1234.8 100,1235.9 101,1236.5 102,1235.7 103,1236.1 104,1236.4 105,1237 106,1238.4 107,1237.5 108,1235.6 109,1235.8 110,1236.6 111,1236.7 112,1236.9 113,1237.2 114,1237.9 115,1237.8 116,1236.5 117,1235.7 118,1235.4 119,1234.9 120,1234.1 121,1234.5 122,1236 123,1237.5 124,1237 125,1234.9 126,1234.4 127,1234.5 128,1233.6 129,1234.2 130,1236.3 131,1237.9 132,1237.5 133,1236.1 134,1235.6 135,1236.5 136,1237.4 137,1236.5 138,1235.9 139,1236.1 140,1235.8 141,1235 142,1234.5 143,1235.1 144,1236.3 145,1237.7 146,1237.8 147,1237.2 148,1237 149,1237 150,1237.4 151,1237.1 152,1236.1 153,1234.9 154,1234.1 155,1232.5 156,1232 157,1233.3 158,1234.9 159,1237.1 160,1238.2 161,1236.4 162,1235.4 163,1236.2 164,1236.7 165,1236.3 166,1236.5 167,1237.1 168,1236.5 169,1235.3 170,1235.3 171,1235.3 172,1235 173,1235.3 174,1235.9 175,1237 176,1237 177,1236.1 178,1235.2 179,1234 180,1232.7 181,1233.2 182,1234 183,1234 184,1234.5 185,1234.8 186,1235.5 187,1236.1 188,1236.5 189,1235.9 190,1235.7 191,1237.8 192,1238.6 193,1237.2 194,1235.9 195,1235.3 196,1235.6 197,1236.4 198,1236.1 199,1235.3 200,1234.5 201,1234.1 202,1235 203,1236.8 204,1237.6 205,1237.5 206,1236.5 207,1235.3 208,1235 209,1235.2 210,1235.5 211,1235.3 212,1234.5 213,1234 214,1235.4 215,1236.9 216,1235.9 217,1235.3 218,1236.7 219,1237 220,1235.4 221,1234.5 222,1234 223,1234.2 224,1235.8 225,1236.5 226,1236 227,1235.7 228,1235.9 229,1235.6 230,1234.8 231,1234.1 232,1234.9 233,1236.6 234,1236.8 235,1236.5 236,1236.1 237,1235.6 238,1235.9 239,1236.5 240,1236.3 241,1236.3 242,1237.3 243,1238.4 244,1238.3 245,1237 246,1235.3 247,1235.2 248,1237.2 249,1238.1 250,1237.7 251,1237.9 252,1238.6 253,1238.8 254,1238.3 255,1237.7 256,1237.4 257,1236.7 258,1237.4 259,1238.5 260,1239.7 261,1240.5 262,1238.8 263,1235.4 264,1234.2 265,1235.3 266,1235.7 267,1236.2 268,1235.8 269,1233.5 270,1233 271,1235 272,1236.2 273,1236.1 274,1235.5 275,1234.3 276,1233.7 277,1234 278,1233.8 279,1234.1 280,1235.8 281,1236.7 282,1236.2 283,1234.9 284,1234.2 285,1234 286,1234.6 287,1235.4 288,1235.9 289,1237 290,1238.4 291,1238.5 292,1237.1 293,1236.9 294,1236.7 295,1235.5 296,1234.5 297,1235.5 298,1236.9 299,1237 300,1236.7 301,1237.3 302,1237.7 303,1236 304,1233.7 305,1232.7 306,1231.6 307,1231.7 308,1235.2 309,1238.3 310,1237.9 311,1236.4 312,1237.1 313,1239 314,1239.4 315,1239 316,1239 317,1239.7 318,1240.5 319,1240.5 320,1239.5 321,1238.7 322,1239.2 323,1239.7 324,1239.8 325,1239.1 326,1239 327,1239.3 328,1240.3 329,1242.8 330,1243.4 331,1242.3 332,1241.7 333,1240.2 334,1238.6 335,1239.8 336,1241.1 337,1240.9 338,1240.4 339,1241.1 340,1242.7 341,1244.1 342,1244.3 343,1244.4 344,1244.6 345,1243.3 346,1241.8 347,1242.5 348,1245.4 349,1247.1 350,1247 351,1246.2 352,1245.3 353,1244.7 354,1244.2 355,1244.3 356,1245.5 357,1246.7 358,1246.1 359,1244.5 360,1243.6 361,1244.5 362,1246.2 363,1246.1 364,1244.7 365,1243.3 366,1242.9 367,1244 368,1244.9 369,1244.3 370,1241.9 371,1242.1 372,1241.8 373,1241.2 374,1241.8 375,1243.1 376,1244.4 377,1245 378,1246.4 379,1247.3 380,1246.1 381,1244.7 382,1244.5 383,1243.8 384,1243.5 385,1244.9 386,1245.6 387,1241.1 388,1236.3 389,1232.7 390,1229.9 391,1226.6 392,1232.1 393,1240.3 394,1248.4 395,1257.3 396,1256.1 397,1253.6 398,1252.6 399,1251.4 400,1248.3 401,1244.9 402,1243.4 403,1244.8 404,1246.1 405,1244.8 406,1241.8 407,1240.1 408,1240.2 409,1240.5 410,1240.3 411,1240.5 412,1240.4 413,1240 414,1240 415,1240.3 416,1240.7 417,1242.1 418,1243.1 419,1241.9 420,1239.5 421,1237.9 422,1237.3 423,1236.4 424,1237.3 425,1239.9 426,1240.6 427,1239 428,1237.4 429,1237.8 430,1239.5 431,1242 432,1243.4 433,1241.7 434,1239.4 435,1238.9 436,1239.8 437,1240.1 438,1240 439,1240.5 440,1244 441,1246 442,1247.2 443,1246.5 444,1245.2 445,1244.8 446,1244.3 447,1243.5 448,1242.5 449,1241.6 450,1242.2 451,1244.1 452,1244.9 453,1245.2 454,1244.4 455,1242.6 456,1242.6 457,1244.1 458,1244.8 459,1245.1 460,1245.5 461,1244.4 462,1242.7 463,1243.1 464,1244.6 465,1244.3 466,1243.7 467,1245.5 468,1246.9 469,1246.4 470,1244.8 471,1243.6 472,1244.7 473,1246.9 474,1247.1 475,1246.3 476,1244.7 477,1243.2 478,1242.3 479,1243.3 480,1244.4 481,1244.4 482,1245.1 483,1244.6 484,1243.2 485,1242.8 486,1243.2 487,1243.4 488,1243 489,1242.6 490,1242.4 491,1241.9 492,1242.1 493,1243.7 494,1244.2 495,1243.1 496,1242.9 497,1242.9 498,1243.4 499,1244.6 500,1245.3 501,1245.6 502,1244.8 503,1244.4 504,1243.9 505,1243.9 506,1244.6 507,1245.1 508,1245 509,1244.1 510,1243.2 511,1243.8 512,1244.9 513,1245 514,1243.8 515,1242.7 516,1242.5 517,1242.9 518,1242 519,1241.7 520,1243.5 521,1244.2 522,1242.5 523,1241.5 524,1241.7 525,1242.5 526,1243.3 527,1243.1 528,1243.4 529,1244.1 530,1244 531,1243.6 532,1242.3 533,1241.3 534,1242.5 535,1245 536,1245.4 537,1244.9 538,1244.8 539,1245.1 540,1246 541,1245.9 542,1243.3 543,1241.2 544,1241.1 545,1242.5 546,1244.7 547,1244.9 548,1243 549,1242.2 550,1243.5 551,1243.7 552,1242.2 553,1242.6 554,1243.7 555,1244.2 556,1243.3 557,1242.3 558,1241.8 559,1243.3 560,1245.8 561,1245.9 562,1243.9 563,1241.8 564,1241.2 565,1242.4 566,1243.8 567,1244.1 568,1243.5 569,1243 570,1243.8 571,1245.5 572,1247.5 573,1247.6 574,1245.4 575,1243.7 576,1243.3 577,1243 578,1242.9 579,1243.1 580,1243.5 581,1244.5 582,1244.9 583,1244.6 584,1243.8 585,1242.8 586,1242.5 587,1243.1 588,1243.7 589,1244.2 590,1243.6 591,1242.7 592,1242.5 593,1242.2 594,1242.2 595,1242 596,1241.7 597,1243.1 598,1244.3 599,1244.1 600,1243.5 601,1243 602,1242.7 603,1243 604,1243.4 605,1243.3 606,1243.3 607,1244 608,1244.6 609,1244.3 610,1244.1 611,1243.7 612,1243.2 613,1244.2 614,1245.2 615,1245.3 616,1244.8 617,1244 618,1244.4 619,1245.4 620,1245.5 621,1244.2 622,1243.6 623,1245.2 624,1247 625,1246.7 626,1244.8 627,1243.7 628,1244.1 629,1243 630,1241.5 631,1241.8 632,1241.5 633,1241.6 634,1243.5 635,1245.3 636,1245.5 637,1246.4 638,1248.1 639,1247.8 640,1245.6 641,1243.5" fill="none" stroke="#ff6ab8" stroke-width="2.1" stroke-linejoin="round"/><polyline points="77,1242.2 78,1242.2 79,1242.2 80,1242.2 81,1242.2 82,1242.2 83,1242.2 84,1242.2 85,1242.2 86,1242.2 87,1242.2 88,1242.2 89,1242.2 90,1242.2 91,1242.2 92,1242.2 93,1242.2 94,1242.2 95,1242.2 96,1242.2 97,1242.2 98,1242.2 99,1242.2 100,1242.2 101,1242.2 102,1242.2 103,1242.2 104,1242.2 105,1242.2 106,1242.2 107,1242.2 108,1242.2 109,1242.2 110,1242.2 111,1242.2 112,1242.2 113,1242.2 114,1242.2 115,1242.2 116,1242.2 117,1242.2 118,1242.2 119,1242.2 120,1242.2 121,1242.2 122,1242.2 123,1242.2 124,1242.2 125,1242.2 126,1242.2 127,1242.2 128,1242.2 129,1242.2 130,1242.2 131,1242.2 132,1242.2 133,1242.2 134,1242.2 135,1242.2 136,1242.2 137,1242.2 138,1242.2 139,1242.2 140,1242.2 141,1242.2 142,1242.2 143,1242.2 144,1242.2 145,1242.2 146,1242.2 147,1242.2 148,1242.2 149,1242.2 150,1242.2 151,1242.2 152,1242.2 153,1242.2 154,1242.2 155,1242.2 156,1242.2 157,1242.2 158,1242.2 159,1242.2 160,1242.2 161,1242.2 162,1242.2 163,1242.2 164,1242.2 165,1242.2 166,1242.2 167,1242.2 168,1242.2 169,1242.2 170,1242.2 171,1242.2 172,1242.2 173,1242.2 174,1242.2 175,1242.2 176,1242.2 177,1242.2 178,1242.2 179,1242.2 180,1242.2 181,1242.2 182,1242.2 183,1242.2 184,1242.2 185,1242.2 186,1242.2 187,1242.2 188,1242.2 189,1242.2 190,1242.2 191,1242.2 192,1242.2 193,1242.2 194,1242.2 195,1242.2 196,1242.2 197,1242.2 198,1242.2 199,1242.2 200,1242.2 201,1242.2 202,1242.2 203,1242.2 204,1242.2 205,1242.2 206,1242.2 207,1242.2 208,1242.2 209,1242.2 210,1242.2 211,1242.2 212,1242.2 213,1242.2 214,1242.2 215,1242.2 216,1242.2 217,1242.2 218,1242.2 219,1242.2 220,1242.2 221,1242.2 222,1242.2 223,1242.2 224,1242.2 225,1242.2 226,1242.2 227,1242.2 228,1242.2 229,1242.2 230,1242.2 231,1242.2 232,1242.2 233,1242.2 234,1242.1 235,1242.1 236,1242.1 237,1242.1 238,1242.1 239,1242.1 240,1242.1 241,1242.1 242,1242.1 243,1242.1 244,1242.1 245,1242.1 246,1242.1 247,1242.1 248,1242.1 249,1242.1 250,1242.1 251,1242.1 252,1242.1 253,1242.1 254,1242.1 255,1242.1 256,1242.1 257,1242.1 258,1242.1 259,1242.1 260,1242.1 261,1242.1 262,1242.1 263,1242.1 264,1242.1 265,1242.1 266,1242.1 267,1242.1 268,1242.1 269,1242.1 270,1242.1 271,1242.1 272,1242.1 273,1242.1 274,1242.1 275,1242.1 276,1242.1 277,1242.1 278,1242.1 279,1242.1 280,1242.1 281,1242.1 282,1242.1 283,1242.1 284,1242.1 285,1242.1 286,1242.1 287,1242.1 288,1242.1 289,1242.1 290,1242.1 291,1242.1 292,1242.1 293,1242.1 294,1242.1 295,1242.1 296,1242.1 297,1242.1 298,1242.1 299,1242.1 300,1242.1 301,1242.1 302,1242.1 303,1242.1 304,1242.1 305,1242.1 306,1242.1 307,1242.1 308,1242.1 309,1242.1 310,1242.1 311,1242.1 312,1242.1 313,1242.1 314,1242.1 315,1242.1 316,1242.1 317,1242.1 318,1242.1 319,1242.1 320,1242.1 321,1242.1 322,1242.1 323,1242.1 324,1242.1 325,1242.1 326,1242.1 327,1242.1 328,1242.1 329,1242.1 330,1242.1 331,1242.1 332,1242.1 333,1242.1 334,1242.1 335,1242 336,1242 337,1242 338,1242 339,1242 340,1242 341,1242 342,1242 343,1242 344,1242 345,1242 346,1242 347,1242 348,1242 349,1242 350,1242 351,1242 352,1242 353,1242 354,1242 355,1242 356,1242 357,1242 358,1242 359,1242 360,1242 361,1242 362,1242 363,1242 364,1242 365,1242 366,1242 367,1242 368,1242 369,1242 370,1242 371,1241.8 372,1241.6 373,1241.3 374,1241 375,1240.7 376,1240.4 377,1240.1 378,1239.7 379,1239.4 380,1238.9 381,1238.4 382,1237.6 383,1236.6 384,1235.5 385,1234.4 386,1233.5 387,1232.9 388,1232.2 389,1231.6 390,1231.4 391,1232.2 392,1234.9 393,1239.2 394,1244.6 395,1249.4 396,1252.4 397,1253.4 398,1253.7 399,1253.1 400,1252 401,1251 402,1250.2 403,1249.4 404,1248.7 405,1248 406,1247.4 407,1246.8 408,1246.3 409,1245.9 410,1245.5 411,1245.2 412,1244.9 413,1244.6 414,1244.4 415,1244.2 416,1244 417,1243.9 418,1243.8 419,1243.7 420,1243.6 421,1243.5 422,1243.4 423,1243.3 424,1243.3 425,1243.2 426,1243.2 427,1243.1 428,1243 429,1243 430,1242.9 431,1242.8 432,1242.8 433,1242.6 434,1242.5 435,1242.4 436,1242.3 437,1242.2 438,1242.2 439,1242.2 440,1242.2 441,1242.2 442,1242.2 443,1242.2 444,1242.2 445,1242.2 446,1242.2 447,1242.2 448,1242.2 449,1242.2 450,1242.2 451,1242.2 452,1242.2 453,1242.2 454,1242.2 455,1242.2 456,1242.2 457,1242.2 458,1242.2 459,1242.2 460,1242.2 461,1242.2 462,1242.2 463,1242.2 464,1242.2 465,1242.2 466,1242.2 467,1242.2 468,1242.2 469,1242.2 470,1242.2 471,1242.2 472,1242.2 473,1242.2 474,1242.2 475,1242.2 476,1242.2 477,1242.2 478,1242.2 479,1242.2 480,1242.2 481,1242.2 482,1242.2 483,1242.2 484,1242.2 485,1242.2 486,1242.2 487,1242.2 488,1242.2 489,1242.2 490,1242.2 491,1242.2 492,1242.2 493,1242.2 494,1242.2 495,1242.2 496,1242.2 497,1242.2 498,1242.2 499,1242.2 500,1242.2 501,1242.2 502,1242.2 503,1242.2 504,1242.2 505,1242.2 506,1242.2 507,1242.2 508,1242.2 509,1242.2 510,1242.2 511,1242.2 512,1242.2 513,1242.2 514,1242.2 515,1242.2 516,1242.2 517,1242.2 518,1242.2 519,1242.2 520,1242.2 521,1242.2 522,1242.2 523,1242.2 524,1242.2 525,1242.2 526,1242.2 527,1242.2 528,1242.2 529,1242.2 530,1242.2 531,1242.2 532,1242.2 533,1242.2 534,1242.2 535,1242.2 536,1242.2 537,1242.2 538,1242.2 539,1242.2 540,1242.2 541,1242.2 542,1242.2 543,1242.2 544,1242.2 545,1242.2 546,1242.2 547,1242.2 548,1242.2 549,1242.2 550,1242.2 551,1242.2 552,1242.2 553,1242.2 554,1242.2 555,1242.2 556,1242.2 557,1242.2 558,1242.2 559,1242.2 560,1242.2 561,1242.2 562,1242.2 563,1242.2 564,1242.2 565,1242.2 566,1242.2 567,1242.2 568,1242.2 569,1242.2 570,1242.2 571,1242.2 572,1242.2 573,1242.2 574,1242.2 575,1242.2 576,1242.2 577,1242.2 578,1242.2 579,1242.2 580,1242.2 581,1242.2 582,1242.2 583,1242.2 584,1242.2 585,1242.2 586,1242.2 587,1242.2 588,1242.2 589,1242.2 590,1242.2 591,1242.2 592,1242.2 593,1242.2 594,1242.2 595,1242.2 596,1242.2 597,1242.2 598,1242.2 599,1242.2 600,1242.2 601,1242.2 602,1242.2 603,1242.2 604,1242.2 605,1242.2 606,1242.2 607,1242.2 608,1242.2 609,1242.2 610,1242.2 611,1242.2 612,1242.2 613,1242.2 614,1242.2 615,1242.2 616,1242.2 617,1242.2 618,1242.2 619,1242.2 620,1242.2 621,1242.2 622,1242.2 623,1242.2 624,1242.2 625,1242.2 626,1242.2 627,1242.2 628,1242.2 629,1242.2 630,1242.2 631,1242.2 632,1242.2 633,1242.2 634,1242.2 635,1242.2 636,1242.2 637,1242.2 638,1242.2 639,1242.2 640,1242.2 641,1242.2" fill="none" stroke="#4682c4" stroke-width="2" stroke-linejoin="round"/><polyline points="75.6,1437.7 76.6,1438.9 77.6,1439.4 78.6,1438.8 79.6,1438.5 80.6,1439.2 81.6,1439.9 82.6,1440 83.6,1440 84.6,1439.4 85.6,1439.4 86.6,1440.2 87.6,1441 88.6,1440.9 89.6,1439.9 90.6,1439.8 91.6,1440.2 92.6,1439.7 93.6,1439.6 94.6,1440.6 95.6,1440.9 96.6,1440.4 97.6,1440.1 98.6,1440.2 99.6,1440.1 100.6,1439.8 101.6,1438.8 102.6,1438.4 103.6,1438.6 104.6,1438.7 105.6,1439 106.6,1438.8 107.6,1438.2 108.6,1438.2 109.6,1438.5 110.6,1438.6 111.6,1438.1 112.6,1438.3 113.6,1439.6 114.6,1440.6 115.6,1440.1 116.6,1438.8 117.6,1438.5 118.6,1438.6 119.6,1437.7 120.6,1436.9 121.6,1437.1 122.6,1437.1 123.6,1436 124.6,1435.1 125.6,1435.5 126.6,1436.3 127.6,1436.2 128.6,1436.3 129.6,1436.6 130.6,1436.6 131.6,1436.3 132.6,1435.9 133.6,1435.3 134.6,1434.9 135.6,1435.2 136.6,1435.9 137.6,1435.6 138.6,1434.9 139.6,1434.8 140.6,1435.1 141.6,1435 142.6,1434 143.6,1433.9 144.6,1435.3 145.6,1436.7 146.6,1436.4 147.6,1435.5 148.6,1435.9 149.6,1436.1 150.6,1435.1 151.6,1434.8 152.6,1435.4 153.6,1435.5 154.6,1435.1 155.6,1435.2 156.6,1436.2 157.6,1436.4 158.6,1435.6 159.6,1434.4 160.6,1433.5 161.6,1433.9 162.6,1434.4 163.6,1434.6 164.6,1434.5 165.6,1433.5 166.6,1432.9 167.6,1433.3 168.6,1433.3 169.6,1433.1 170.6,1433 171.6,1432.5 172.6,1432.4 173.6,1433.7 174.6,1434.5 175.6,1435 176.6,1435 177.6,1433.4 178.6,1431.8 179.6,1431.4 180.6,1431.6 181.6,1432 182.6,1431.9 183.6,1431.4 184.6,1431.5 185.6,1431.5 186.6,1431.9 187.6,1432 188.6,1431.7 189.6,1431.5 190.6,1431 191.6,1430.4 192.6,1430.2 193.6,1431.4 194.6,1433 195.6,1433.3 196.6,1432.6 197.6,1431.4 198.6,1430.7 199.6,1430.8 200.6,1430.3 201.6,1429.6 202.6,1429.2 203.6,1429 204.6,1428.6 205.6,1428.1 206.6,1427.6 207.6,1428.3 208.6,1429.1 209.6,1428.2 210.6,1427.4 211.6,1427.4 212.6,1426.9 213.6,1425.8 214.6,1425.8 215.6,1426.3 216.6,1426 217.6,1425.8 218.6,1425.6 219.6,1424.6 220.6,1423.9 221.6,1423.9 222.6,1423.6 223.6,1422.2 224.6,1421.8 225.6,1422.2 226.6,1422.8 227.6,1423 228.6,1422.3 229.6,1421.1 230.6,1420.9 231.6,1420.5 232.6,1420.1 233.6,1419.8 234.6,1418.7 235.6,1417.7 236.6,1417.7 237.6,1417.7 238.6,1418 239.6,1418.8 240.6,1419.3 241.6,1419.3 242.6,1418 243.6,1416.7 244.6,1416.4 245.6,1416.3 246.6,1416.5 247.6,1416.9 248.6,1416.3 249.6,1415.9 250.6,1416.7 251.6,1417.1 252.6,1417.1 253.6,1417.1 254.6,1417.1 255.6,1417.1 256.6,1417.3 257.6,1417.1 258.6,1416.6 259.6,1415.9 260.6,1415 261.6,1415.1 262.6,1415.4 263.6,1415.2 264.6,1415.2 265.6,1416 266.6,1415.4 267.6,1414 268.6,1413.5 269.6,1414.2 270.6,1414.5 271.6,1414.5 272.6,1414.5 273.6,1414.6 274.6,1414.7 275.6,1414.5 276.6,1414.9 277.6,1416 278.6,1415.9 279.6,1414 280.6,1412.7 281.6,1412.5 282.6,1412.3 283.6,1411.2 284.6,1410.4 285.6,1409.7 286.6,1408.4 287.6,1407.2 288.6,1405.9 289.6,1404.1 290.6,1403.2 291.6,1403.2 292.6,1402.7 293.6,1401.2 294.6,1399.6 295.6,1399.3 296.6,1399.3 297.6,1398.4 298.6,1396.7 299.6,1395.5 300.6,1394.9 301.6,1393.7 302.6,1392.5 303.6,1392.4 304.6,1392.9 305.6,1392.5 306.6,1391.8 307.6,1391 308.6,1390.6 309.6,1390.1 310.6,1390.5 311.6,1391.6 312.6,1390.8 313.6,1389.6 314.6,1389.7 315.6,1390.7 316.6,1391.4 317.6,1391.1 318.6,1391.2 319.6,1393.3 320.6,1396.1 321.6,1399.1 322.6,1402.1 323.6,1404.8 324.6,1407.6 325.6,1410.9 326.6,1415.7 327.6,1420.6 328.6,1424.4 329.6,1428.2 330.6,1433 331.6,1437.8 332.6,1441.4 333.6,1445.5 334.6,1450.3 335.6,1454.5 336.6,1458.2 337.6,1462.1 338.6,1466 339.6,1469.9 340.6,1473.3 341.6,1476.6 342.6,1480.8 343.6,1484.8 344.6,1487.9 345.6,1491.6 346.6,1495.1 347.6,1497.7 348.6,1500.2 349.6,1502.6 350.6,1505.8 351.6,1508.7 352.6,1510.2 353.6,1511 354.6,1512.3 355.6,1513.4 356.6,1513.8 357.6,1513 358.6,1511.3 359.6,1510.1 360.6,1508.8 361.6,1507.1 362.6,1504.9 363.6,1502.9 364.6,1501.7 365.6,1500.2 366.6,1498.1 367.6,1495.6 368.6,1492.4 369.6,1489.9 370.6,1488.9 371.6,1487.3 372.6,1484.8 373.6,1482.5 374.6,1480.2 375.6,1477 376.6,1474.2 377.6,1472.2 378.6,1470 379.6,1467.2 380.6,1464.9 381.6,1462 382.6,1459.5 383.6,1457.9 384.6,1455.2 385.6,1452 386.6,1450.1 387.6,1448.7 388.6,1446.6 389.6,1443.9 390.6,1442.3 391.6,1441.2 392.6,1439.9 393.6,1439.2 394.6,1438.8 395.6,1439.7 396.6,1442 397.6,1444.2 398.6,1445.8 399.6,1447.1 400.6,1448.4 401.6,1449.2 402.6,1448.8 403.6,1448 404.6,1447.3 405.6,1446.7 406.6,1445.8 407.6,1444 408.6,1443 409.6,1442.7 410.6,1442.8 411.6,1441.5 412.6,1439 413.6,1438.4 414.6,1439.3 415.6,1439.5 416.6,1439 417.6,1438.4 418.6,1438.1 419.6,1437.9 420.6,1437.5 421.6,1436.7 422.6,1435.6 423.6,1435.7 424.6,1435.8 425.6,1436 426.6,1435.5 427.6,1434.9 428.6,1434.8 429.6,1434.1 430.6,1433.3 431.6,1433.2 432.6,1433.9 433.6,1434.7 434.6,1434.8 435.6,1434.4 436.6,1434.3 437.6,1433.8 438.6,1433.6 439.6,1433.9 440.6,1434 441.6,1433.3 442.6,1432.9 443.6,1432.9 444.6,1432.9 445.6,1432.9 446.6,1433.4 447.6,1433.3 448.6,1433.1 449.6,1432.9 450.6,1433.2 451.6,1433.4 452.6,1433.7 453.6,1434.5 454.6,1434.7 455.6,1434.8 456.6,1434.1 457.6,1433 458.6,1432.8 459.6,1433.2 460.6,1433.2 461.6,1432.9 462.6,1432.2 463.6,1431.5 464.6,1431.4 465.6,1431.5 466.6,1432.1 467.6,1432.3 468.6,1432.2 469.6,1432.5 470.6,1432.4 471.6,1431.4 472.6,1430.8 473.6,1430.8 474.6,1430.9 475.6,1432 476.6,1433.2 477.6,1432.9 478.6,1432.6 479.6,1432.3 480.6,1432.5 481.6,1432.7 482.6,1433 483.6,1433.8 484.6,1434.3 485.6,1433.6 486.6,1432.8 487.6,1432.4 488.6,1432.8 489.6,1433.1 490.6,1433.2 491.6,1433.2 492.6,1432.6 493.6,1431.2 494.6,1431.1 495.6,1431.6 496.6,1430.9 497.6,1430.1 498.6,1429.9 499.6,1429.9 500.6,1431.3 501.6,1432.7 502.6,1432 503.6,1430.3 504.6,1429.8 505.6,1430.5 506.6,1431 507.6,1430.4 508.6,1430.5 509.6,1431.4 510.6,1431.5 511.6,1430.5 512.6,1429.4 513.6,1429.1 514.6,1429 515.6,1429.3 516.6,1430.3 517.6,1430.9 518.6,1431.7 519.6,1432.6 520.6,1432 521.6,1431 522.6,1431.5 523.6,1431.6 524.6,1430.5 525.6,1429.9 526.6,1429.9 527.6,1430.1 528.6,1430.4 529.6,1429.3 530.6,1429.3 531.6,1430.1 532.6,1430.7 533.6,1431 534.6,1431.1 535.6,1431.2 536.6,1430.8 537.6,1429.9 538.6,1430 539.6,1430.4 540.6,1430.8 541.6,1430.7 542.6,1430.2 543.6,1430.5 544.6,1431.3 545.6,1431.3 546.6,1431.5 547.6,1432.8 548.6,1432.6 549.6,1431.2 550.6,1431.7 551.6,1432.9 552.6,1432.4 553.6,1431.4 554.6,1430.7 555.6,1430.4 556.6,1430.5 557.6,1430.7 558.6,1431.1 559.6,1430.7 560.6,1430.2 561.6,1430 562.6,1430.2 563.6,1430.3 564.6,1430.9 565.6,1431.7 566.6,1431.8 567.6,1431.6 568.6,1431.4 569.6,1431.1 570.6,1430.9 571.6,1431 572.6,1431.1 573.6,1431 574.6,1431.5 575.6,1431.2 576.6,1430.4 577.6,1430.2 578.6,1430.4 579.6,1430.7 580.6,1430.9 581.6,1431.1 582.6,1430 583.6,1429 584.6,1429 585.6,1429.4 586.6,1430.7 587.6,1431.8 588.6,1431.3 589.6,1430.3 590.6,1430.8 591.6,1432 592.6,1431.9 593.6,1431.8 594.6,1432.7 595.6,1433.5 596.6,1432.9 597.6,1431.9 598.6,1431.6 599.6,1431.4 600.6,1430.6 601.6,1430.2 602.6,1430.4 603.6,1430.4 604.6,1430.9 605.6,1431.9 606.6,1432.4 607.6,1431.3 608.6,1430.8 609.6,1431.1 610.6,1431.7 611.6,1431.7 612.6,1430.8 613.6,1429.8 614.6,1429.4 615.6,1430.1 616.6,1431 617.6,1430.9 618.6,1430.4 619.6,1430.6 620.6,1431.1 621.6,1431.2 622.6,1430.8 623.6,1430.1 624.6,1429.5 625.6,1430.2 626.6,1430.9 627.6,1430.1 628.6,1430.3 629.6,1430.9 630.6,1430.7 631.6,1430.5 632.6,1430.8 633.6,1431 634.6,1430.5 635.6,1429.8 636.6,1430.1 637.6,1430.3 638.6,1430.6 639.6,1431.4 640.6,1432 641.6,1431.9 642.6,1431.6" fill="none" stroke="#000" stroke-width="2.2" stroke-linejoin="round"/><polyline points="75.6,1435.4 76.6,1435.4 77.6,1435.4 78.6,1435.4 79.6,1435.4 80.6,1435.4 81.6,1435.4 82.6,1435.4 83.6,1435.4 84.6,1435.4 85.6,1435.4 86.6,1435.4 87.6,1435.4 88.6,1435.4 89.6,1435.4 90.6,1435.4 91.6,1435.4 92.6,1435.4 93.6,1435.4 94.6,1435.4 95.6,1435.4 96.6,1435.4 97.6,1435.4 98.6,1435.4 99.6,1435.4 100.6,1435.4 101.6,1435.4 102.6,1435.4 103.6,1435.4 104.6,1435.4 105.6,1435.4 106.6,1435.4 107.6,1435.3 108.6,1435.3 109.6,1435.3 110.6,1435.3 111.6,1435.3 112.6,1435.3 113.6,1435.3 114.6,1435.3 115.6,1435.3 116.6,1435.3 117.6,1435.3 118.6,1435.3 119.6,1435.3 120.6,1435.3 121.6,1435.3 122.6,1435.3 123.6,1435.3 124.6,1435.3 125.6,1435.3 126.6,1435.3 127.6,1435.3 128.6,1435.3 129.6,1435.2 130.6,1435.2 131.6,1435.2 132.6,1435.2 133.6,1435.2 134.6,1435.2 135.6,1435.2 136.6,1435.2 137.6,1435.2 138.6,1435.2 139.6,1435.2 140.6,1435.2 141.6,1435.2 142.6,1435.2 143.6,1435.2 144.6,1435.1 145.6,1435.1 146.6,1435.1 147.6,1435.1 148.6,1435.1 149.6,1435.1 150.6,1435.1 151.6,1435.1 152.6,1435.1 153.6,1435 154.6,1435 155.6,1435 156.6,1435 157.6,1435 158.6,1434.9 159.6,1434.9 160.6,1434.8 161.6,1434.8 162.6,1434.8 163.6,1434.7 164.6,1434.7 165.6,1434.6 166.6,1434.6 167.6,1434.5 168.6,1434.5 169.6,1434.4 170.6,1434.4 171.6,1434.3 172.6,1434.3 173.6,1434.2 174.6,1434.2 175.6,1434.1 176.6,1434 177.6,1433.9 178.6,1433.9 179.6,1433.8 180.6,1433.7 181.6,1433.6 182.6,1433.5 183.6,1433.4 184.6,1433.2 185.6,1433.1 186.6,1433 187.6,1432.9 188.6,1432.8 189.6,1432.6 190.6,1432.5 191.6,1432.3 192.6,1432.2 193.6,1432 194.6,1431.8 195.6,1431.7 196.6,1431.5 197.6,1431.3 198.6,1431.1 199.6,1430.9 200.6,1430.7 201.6,1430.5 202.6,1430.2 203.6,1430 204.6,1429.8 205.6,1429.5 206.6,1429.2 207.6,1428.9 208.6,1428.7 209.6,1428.4 210.6,1428.1 211.6,1427.8 212.6,1427.5 213.6,1427.1 214.6,1426.8 215.6,1426.5 216.6,1426.2 217.6,1425.9 218.6,1425.6 219.6,1425.3 220.6,1425 221.6,1424.7 222.6,1424.4 223.6,1424.1 224.6,1423.8 225.6,1423.5 226.6,1423.2 227.6,1422.9 228.6,1422.6 229.6,1422.2 230.6,1421.9 231.6,1421.6 232.6,1421.3 233.6,1421 234.6,1420.7 235.6,1420.5 236.6,1420.2 237.6,1420 238.6,1419.8 239.6,1419.6 240.6,1419.4 241.6,1419.2 242.6,1419.1 243.6,1418.9 244.6,1418.8 245.6,1418.6 246.6,1418.5 247.6,1418.3 248.6,1418.2 249.6,1418.1 250.6,1417.9 251.6,1417.8 252.6,1417.7 253.6,1417.6 254.6,1417.5 255.6,1417.4 256.6,1417.3 257.6,1417.1 258.6,1417 259.6,1416.9 260.6,1416.8 261.6,1416.7 262.6,1416.6 263.6,1416.5 264.6,1416.4 265.6,1416.4 266.6,1416.3 267.6,1416.2 268.6,1416.1 269.6,1416.1 270.6,1416 271.6,1416 272.6,1415.9 273.6,1415.9 274.6,1415.8 275.6,1415.7 276.6,1415.6 277.6,1415.6 278.6,1415.5 279.6,1415.3 280.6,1415.2 281.6,1415.1 282.6,1414.9 283.6,1414.6 284.6,1414.1 285.6,1413.6 286.6,1412.9 287.6,1412.3 288.6,1411.5 289.6,1410.6 290.6,1409.5 291.6,1408.3 292.6,1407.1 293.6,1405.9 294.6,1404.7 295.6,1403.6 296.6,1402.4 297.6,1401.2 298.6,1400 299.6,1398.9 300.6,1397.9 301.6,1396.8 302.6,1395.6 303.6,1394.5 304.6,1393.5 305.6,1392.5 306.6,1391.5 307.6,1390.7 308.6,1390 309.6,1389.5 310.6,1388.9 311.6,1388.4 312.6,1388.1 313.6,1388 314.6,1388.2 315.6,1388.6 316.6,1389.3 317.6,1390.1 318.6,1391 319.6,1392.6 320.6,1394.7 321.6,1397.1 322.6,1399.7 323.6,1402.5 324.6,1405.9 325.6,1409.6 326.6,1413.4 327.6,1417.4 328.6,1421.7 329.6,1426.3 330.6,1431.1 331.6,1435.7 332.6,1440.3 333.6,1444.5 334.6,1448.8 335.6,1453 336.6,1457.1 337.6,1461.2 338.6,1465.2 339.6,1469.1 340.6,1472.9 341.6,1476.6 342.6,1480.1 343.6,1483.8 344.6,1487.5 345.6,1491.1 346.6,1494.5 347.6,1497.6 348.6,1500.2 349.6,1502.2 350.6,1503.9 351.6,1505.6 352.6,1507.2 353.6,1508.6 354.6,1509.6 355.6,1510.2 356.6,1510.4 357.6,1510 358.6,1509.3 359.6,1508.2 360.6,1506.9 361.6,1505.5 362.6,1504.1 363.6,1502.7 364.6,1501 365.6,1499.2 366.6,1497.3 367.6,1495.2 368.6,1493 369.6,1490.8 370.6,1488.6 371.6,1486.4 372.6,1484.2 373.6,1481.9 374.6,1479.6 375.6,1477.2 376.6,1474.8 377.6,1472.3 378.6,1469.8 379.6,1467.4 380.6,1464.9 381.6,1462.5 382.6,1460.2 383.6,1457.9 384.6,1455.6 385.6,1453.2 386.6,1450.7 387.6,1448.3 388.6,1446 389.6,1444 390.6,1442.4 391.6,1441.3 392.6,1440.5 393.6,1439.8 394.6,1439.6 395.6,1440.9 396.6,1443.2 397.6,1445.1 398.6,1446.8 399.6,1448.3 400.6,1449.4 401.6,1449.4 402.6,1448.8 403.6,1447.8 404.6,1446.8 405.6,1446.1 406.6,1445.3 407.6,1444.5 408.6,1443.8 409.6,1443 410.6,1442.3 411.6,1441.7 412.6,1441.1 413.6,1440.7 414.6,1440.3 415.6,1439.9 416.6,1439.6 417.6,1439.3 418.6,1439.1 419.6,1438.8 420.6,1438.6 421.6,1438.4 422.6,1438.1 423.6,1437.9 424.6,1437.8 425.6,1437.6 426.6,1437.4 427.6,1437.2 428.6,1437 429.6,1436.8 430.6,1436.6 431.6,1436.4 432.6,1436.3 433.6,1436.1 434.6,1435.9 435.6,1435.8 436.6,1435.7 437.6,1435.6 438.6,1435.5 439.6,1435.4 440.6,1435.4 441.6,1435.4 442.6,1435.4 443.6,1435.4 444.6,1435.4 445.6,1435.4 446.6,1435.4 447.6,1435.4 448.6,1435.4 449.6,1435.4 450.6,1435.4 451.6,1435.4 452.6,1435.4 453.6,1435.4 454.6,1435.4 455.6,1435.4 456.6,1435.4 457.6,1435.4 458.6,1435.4 459.6,1435.4 460.6,1435.4 461.6,1435.4 462.6,1435.4 463.6,1435.4 464.6,1435.4 465.6,1435.4 466.6,1435.4 467.6,1435.4 468.6,1435.4 469.6,1435.4 470.6,1435.4 471.6,1435.4 472.6,1435.4 473.6,1435.4 474.6,1435.4 475.6,1435.4 476.6,1435.4 477.6,1435.4 478.6,1435.4 479.6,1435.4 480.6,1435.4 481.6,1435.4 482.6,1435.4 483.6,1435.4 484.6,1435.4 485.6,1435.4 486.6,1435.4 487.6,1435.4 488.6,1435.4 489.6,1435.4 490.6,1435.4 491.6,1435.4 492.6,1435.4 493.6,1435.4 494.6,1435.4 495.6,1435.4 496.6,1435.4 497.6,1435.4 498.6,1435.4 499.6,1435.4 500.6,1435.4 501.6,1435.4 502.6,1435.4 503.6,1435.4 504.6,1435.4 505.6,1435.4 506.6,1435.4 507.6,1435.4 508.6,1435.4 509.6,1435.4 510.6,1435.4 511.6,1435.4 512.6,1435.4 513.6,1435.4 514.6,1435.4 515.6,1435.4 516.6,1435.4 517.6,1435.4 518.6,1435.4 519.6,1435.4 520.6,1435.4 521.6,1435.4 522.6,1435.4 523.6,1435.4 524.6,1435.4 525.6,1435.4 526.6,1435.4 527.6,1435.4 528.6,1435.4 529.6,1435.4 530.6,1435.4 531.6,1435.4 532.6,1435.4 533.6,1435.4 534.6,1435.4 535.6,1435.4 536.6,1435.4 537.6,1435.4 538.6,1435.4 539.6,1435.4 540.6,1435.4 541.6,1435.4 542.6,1435.4 543.6,1435.4 544.6,1435.4 545.6,1435.4 546.6,1435.4 547.6,1435.4 548.6,1435.4 549.6,1435.4 550.6,1435.4 551.6,1435.4 552.6,1435.4 553.6,1435.4 554.6,1435.4 555.6,1435.4 556.6,1435.4 557.6,1435.4 558.6,1435.4 559.6,1435.4 560.6,1435.4 561.6,1435.4 562.6,1435.4 563.6,1435.4 564.6,1435.4 565.6,1435.4 566.6,1435.4 567.6,1435.4 568.6,1435.4 569.6,1435.4 570.6,1435.4 571.6,1435.4 572.6,1435.4 573.6,1435.4 574.6,1435.4 575.6,1435.4 576.6,1435.4 577.6,1435.4 578.6,1435.4 579.6,1435.4 580.6,1435.4 581.6,1435.4 582.6,1435.4 583.6,1435.4 584.6,1435.4 585.6,1435.4 586.6,1435.4 587.6,1435.4 588.6,1435.4 589.6,1435.4 590.6,1435.4 591.6,1435.4 592.6,1435.4 593.6,1435.4 594.6,1435.4 595.6,1435.4 596.6,1435.4 597.6,1435.4 598.6,1435.4 599.6,1435.4 600.6,1435.4 601.6,1435.4 602.6,1435.4 603.6,1435.4 604.6,1435.4 605.6,1435.4 606.6,1435.4 607.6,1435.4 608.6,1435.4 609.6,1435.4 610.6,1435.4 611.6,1435.4 612.6,1435.4 613.6,1435.4 614.6,1435.4 615.6,1435.4 616.6,1435.4 617.6,1435.4 618.6,1435.4 619.6,1435.4 620.6,1435.4 621.6,1435.4 622.6,1435.4 623.6,1435.4 624.6,1435.4 625.6,1435.4 626.6,1435.4 627.6,1435.4 628.6,1435.4 629.6,1435.4 630.6,1435.4 631.6,1435.4 632.6,1435.4 633.6,1435.4 634.6,1435.4 635.6,1435.4 636.6,1435.4 637.6,1435.4 638.6,1435.4 639.6,1435.4 640.6,1435.4 641.6,1435.4 642.6,1435.4" fill="none" stroke="#ff1010" stroke-width="2.3" stroke-linejoin="round"/><line x1="75.4" y1="1553.4" x2="642.9" y2="1553.4" stroke="#000" stroke-width="2.4"/><path d="M76.4 1553.4v9.5M132.9 1553.4v5M189.5 1553.4v9.5M246.1 1553.4v5M302.6 1553.4v9.5M359.1 1553.4v5M415.7 1553.4v9.5M472.2 1553.4v5M528.8 1553.4v9.5M585.4 1553.4v5M641.9 1553.4v9.5" stroke="#000" stroke-width="2.3" fill="none"/><text x="76.4" y="1591" font-size="30.4" text-anchor="middle" textLength="64.9" lengthAdjust="spacingAndGlyphs">2800</text><text x="189.5" y="1591" font-size="30.4" text-anchor="middle" textLength="64.9" lengthAdjust="spacingAndGlyphs">3000</text><text x="302.6" y="1591" font-size="30.4" text-anchor="middle" textLength="64.9" lengthAdjust="spacingAndGlyphs">3200</text><text x="415.7" y="1591" font-size="30.4" text-anchor="middle" textLength="64.9" lengthAdjust="spacingAndGlyphs">3400</text><text x="528.8" y="1591" font-size="30.4" text-anchor="middle" textLength="64.9" lengthAdjust="spacingAndGlyphs">3600</text><text x="641.9" y="1591" font-size="30.4" text-anchor="middle" textLength="64.9" lengthAdjust="spacingAndGlyphs">3800</text><text x="343.5" y="1634.8" font-size="34" text-anchor="middle" textLength="137.9" lengthAdjust="spacingAndGlyphs">Field (G)</text><text x="2.9" y="1211.3" font-size="61" textLength="36.1" lengthAdjust="spacingAndGlyphs">g</text><text x="75.5" y="1222.6" font-size="31" fill="#ff69b4" textLength="81.8" lengthAdjust="spacingAndGlyphs">TCNB</text><text x="76" y="1277.9" font-size="31" fill="#8cb2d8" textLength="114.2" lengthAdjust="spacingAndGlyphs">SC-1 Fit</text><text x="413.5" y="1300.3" font-size="31.3" textLength="137.1" lengthAdjust="spacingAndGlyphs">g=2.0018</text><text x="75" y="1422.5" font-size="30" fill="#e60000" textLength="63.4" lengthAdjust="spacingAndGlyphs">Sim.</text><text x="75" y="1472" font-size="30" textLength="63.4" lengthAdjust="spacingAndGlyphs">Exp.</text></g>
<g id="ph"><polyline points="738,1242.2 739,1242.2 740,1242.2 741,1242.2 742,1242.2 743,1242.2 744,1242.2 745,1242.2 746,1242.2 747,1242.2 748,1242.2 749,1242.2 750,1242.2 751,1242.2 752,1242.2 753,1242.2 754,1242.2 755,1242.2 756,1242.2 757,1242.2 758,1242.2 759,1242.2 760,1242.2 761,1242.2 762,1242.2 763,1242.2 764,1242.2 765,1242.2 766,1242.2 767,1242.2 768,1242.2 769,1242.2 770,1242.2 771,1242.2 772,1242.2 773,1242.2 774,1242.2 775,1242.2 776,1242.2 777,1242.2 778,1242.2 779,1242.2 780,1242.2 781,1242.2 782,1242.2 783,1242.2 784,1242.2 785,1242.2 786,1242.2 787,1242.2 788,1242.2 789,1242.2 790,1242.2 791,1242.2 792,1242.2 793,1242.2 794,1242.2 795,1242.2 796,1242.2 797,1242.2 798,1242.2 799,1242.2 800,1242.2 801,1242.2 802,1242.2 803,1242.2 804,1242.2 805,1242.2 806,1242.2 807,1242.2 808,1242.2 809,1242.2 810,1242.2 811,1242.2 812,1242.2 813,1242.2 814,1242.2 815,1242.2 816,1242.2 817,1242.2 818,1242.2 819,1242.2 820,1242.2 821,1242.2 822,1242.2 823,1242.2 824,1242.2 825,1242.2 826,1242.2 827,1242.2 828,1242.2 829,1242.2 830,1242.2 831,1242.2 832,1242.2 833,1242.2 834,1242.2 835,1242.2 836,1242.2 837,1242.2 838,1242.2 839,1242.2 840,1242.2 841,1242.2 842,1242.2 843,1242.2 844,1242.2 845,1242.2 846,1242.2 847,1242.2 848,1242.2 849,1242.2 850,1242.2 851,1242.2 852,1242.2 853,1242.2 854,1242.2 855,1242.2 856,1242.2 857,1242.2 858,1242.2 859,1242.2 860,1242.2 861,1242.2 862,1242.2 863,1242.2 864,1242.2 865,1242.2 866,1242.2 867,1242.2 868,1242.2 869,1242.2 870,1242.2 871,1242.2 872,1242.2 873,1242.2 874,1242.2 875,1242.2 876,1242.2 877,1242.2 878,1242.2 879,1242.2 880,1242.2 881,1242.2 882,1242.2 883,1242.2 884,1242.2 885,1242.2 886,1242.2 887,1242.2 888,1242.2 889,1242.2 890,1242.2 891,1242.2 892,1242.2 893,1242.2 894,1242.2 895,1242.2 896,1242.2 897,1242.2 898,1242.2 899,1242.2 900,1242.2 901,1242.2 902,1242.2 903,1242.2 904,1242.2 905,1242.2 906,1242.2 907,1242.2 908,1242.2 909,1242.2 910,1242.2 911,1242.2 912,1242.2 913,1242.2 914,1242.2 915,1242.2 916,1242.2 917,1242.2 918,1242.2 919,1242.2 920,1242.2 921,1242.2 922,1242.2 923,1242.2 924,1242.2 925,1242.2 926,1242.2 927,1242.2 928,1242.2 929,1242.2 930,1242.2 931,1242.2 932,1242.2 933,1242.2 934,1242.2 935,1242.2 936,1242.2 937,1242.2 938,1242.2 939,1242.2 940,1242.2 941,1242.2 942,1242.2 943,1242.2 944,1242.2 945,1242.2 946,1242.2 947,1242.2 948,1242.2 949,1242.2 950,1242.2 951,1242.2 952,1242.2 953,1242.2 954,1242.2 955,1242.2 956,1242.2 957,1242.2 958,1242.2 959,1242.2 960,1242.2 961,1242.2 962,1242.2 963,1242.2 964,1242.2 965,1242.2 966,1242.2 967,1242.2 968,1242.2 969,1242.2 970,1242.2 971,1242.2 972,1242.2 973,1242.2 974,1242.2 975,1242.2 976,1242.2 977,1242.2 978,1242.2 979,1242.2 980,1242.2 981,1242.2 982,1242.2 983,1242.2 984,1242.2 985,1242.2 986,1242.2 987,1242.2 988,1242.2 989,1242.2 990,1242.2 991,1242.2 992,1242.2 993,1242.2 994,1242.2 995,1242.2 996,1242.2 997,1242.2 998,1242.2 999,1242.2 1000,1242.2 1001,1242.2 1002,1242.2 1003,1242.2 1004,1242.2 1005,1242.2 1006,1242.2 1007,1242.2 1008,1242.2 1009,1242.2 1010,1242.2 1011,1242.2 1012,1242.2 1013,1242.2 1014,1242.2 1015,1242.2 1016,1242.2 1017,1242.19 1018,1242.18 1019,1242.16 1020,1242.15 1021,1242.12 1022,1242.1 1023,1242.07 1024,1242.03 1025,1242 1026,1241.96 1027,1241.91 1028,1241.86 1029,1241.81 1030,1241.76 1031,1241.7 1032,1241.64 1033,1241.57 1034,1241.5 1035,1241.43 1036,1241.32 1037,1241.18 1038,1240.99 1039,1240.75 1040,1240.48 1040.25,1240.4 1040.5,1240.32 1040.75,1240.24 1041,1240.15 1041.25,1240.06 1041.5,1239.97 1041.75,1239.87 1042,1239.78 1042.25,1239.67 1042.5,1239.55 1042.75,1239.41 1043,1239.25 1043.25,1239.07 1043.5,1238.87 1043.75,1238.64 1044,1238.4 1044.25,1238.14 1044.5,1237.86 1044.75,1237.57 1045,1237.25 1045.25,1236.92 1045.5,1236.57 1045.75,1236.21 1046,1235.82 1046.25,1235.39 1046.5,1234.9 1046.75,1234.34 1047,1233.71 1047.25,1233 1047.5,1232.21 1047.75,1231.33 1048,1230.36 1048.25,1229.26 1048.5,1227.78 1048.75,1225.91 1049,1223.74 1049.25,1221.34 1049.5,1218.79 1049.75,1216.14 1050,1213.28 1050.25,1210.08 1050.5,1206.48 1050.75,1202.37 1051,1197.51 1051.25,1190.91 1051.5,1183.64 1051.75,1176.66 1052,1168.49 1052.25,1162.3 1052.5,1161.99 1052.75,1167.95 1053,1177.21 1053.25,1187.62 1053.5,1201.87 1053.75,1217 1054,1233.06 1054.25,1251.81 1054.5,1273.83 1054.75,1295.78 1055,1317.89 1055.25,1321.34 1055.5,1317.4 1055.75,1311.95 1056,1307.11 1056.25,1302.12 1056.5,1296.98 1056.75,1291.88 1057,1286.5 1057.25,1281.22 1057.5,1276.49 1057.75,1272.62 1058,1268.97 1058.25,1265.54 1058.5,1262.45 1058.75,1259.84 1059,1257.83 1059.25,1256.44 1059.5,1255.21 1059.75,1254.08 1060,1253.05 1060.25,1252.1 1060.5,1251.25 1060.75,1250.48 1061,1249.79 1061.25,1249.19 1061.5,1248.66 1061.75,1248.2 1062,1247.82 1062.25,1247.5 1062.5,1247.19 1062.75,1246.91 1063,1246.64 1063.25,1246.38 1063.5,1246.13 1063.75,1245.9 1064,1245.69 1064.25,1245.48 1064.5,1245.29 1064.75,1245.11 1065,1244.94 1065.25,1244.79 1065.5,1244.64 1065.75,1244.51 1066,1244.38 1066.25,1244.27 1066.5,1244.16 1066.75,1244.06 1067,1243.97 1067.25,1243.89 1067.5,1243.81 1067.75,1243.73 1068,1243.65 1068.25,1243.58 1068.5,1243.5 1068.75,1243.43 1069,1243.35 1069.25,1243.28 1069.5,1243.22 1069.75,1243.15 1070,1243.09 1071,1242.86 1072,1242.67 1073,1242.54 1074,1242.46 1075,1242.45 1076,1242.45 1077,1242.44 1078,1242.44 1079,1242.44 1080,1242.43 1081,1242.43 1082,1242.43 1083,1242.42 1084,1242.42 1085,1242.42 1086,1242.42 1087,1242.41 1088,1242.41 1089,1242.41 1090,1242.4 1091,1242.4 1092,1242.4 1093,1242.4 1094,1242.39 1095,1242.39 1096,1242.39 1097,1242.39 1098,1242.38 1099,1242.38 1100,1242.38 1101,1242.38 1102,1242.37 1103,1242.37 1104,1242.37 1105,1242.37 1106,1242.36 1107,1242.36 1108,1242.36 1109,1242.36 1110,1242.35 1111,1242.35 1112,1242.35 1113,1242.35 1114,1242.35 1115,1242.34 1116,1242.34 1117,1242.34 1118,1242.34 1119,1242.34 1120,1242.33 1121,1242.33 1122,1242.33 1123,1242.33 1124,1242.33 1125,1242.32 1126,1242.32 1127,1242.32 1128,1242.32 1129,1242.32 1130,1242.31 1131,1242.31 1132,1242.31 1133,1242.31 1134,1242.31 1135,1242.3 1136,1242.3 1137,1242.3 1138,1242.3 1139,1242.3 1140,1242.3 1141,1242.29 1142,1242.29 1143,1242.29 1144,1242.29 1145,1242.29 1146,1242.29 1147,1242.29 1148,1242.28 1149,1242.28 1150,1242.28 1151,1242.28 1152,1242.28 1153,1242.28 1154,1242.27 1155,1242.27 1156,1242.27 1157,1242.27 1158,1242.27 1159,1242.27 1160,1242.27 1161,1242.27 1162,1242.26 1163,1242.26 1164,1242.26 1165,1242.26 1166,1242.26 1167,1242.26 1168,1242.26 1169,1242.26 1170,1242.25 1171,1242.25 1172,1242.25 1173,1242.25 1174,1242.25 1175,1242.25 1176,1242.25 1177,1242.25 1178,1242.25 1179,1242.25 1180,1242.24 1181,1242.24 1182,1242.24 1183,1242.24 1184,1242.24 1185,1242.24 1186,1242.24 1187,1242.24 1188,1242.24 1189,1242.24 1190,1242.24 1191,1242.23 1192,1242.23 1193,1242.23 1194,1242.23 1195,1242.23 1196,1242.23 1197,1242.23 1198,1242.23 1199,1242.23 1200,1242.23 1201,1242.23 1202,1242.23 1203,1242.23 1204,1242.22 1205,1242.22 1206,1242.22 1207,1242.22 1208,1242.22 1209,1242.22 1210,1242.22 1211,1242.22 1212,1242.22 1213,1242.22 1214,1242.22 1215,1242.22 1216,1242.22 1217,1242.22 1218,1242.22 1219,1242.22 1220,1242.22 1221,1242.21 1222,1242.21 1223,1242.21 1224,1242.21 1225,1242.21 1226,1242.21 1227,1242.21 1228,1242.21 1229,1242.21 1230,1242.21 1231,1242.21 1232,1242.21 1233,1242.21 1234,1242.21 1235,1242.21 1236,1242.21 1237,1242.21 1238,1242.21 1239,1242.21 1240,1242.21 1241,1242.21 1242,1242.21 1243,1242.21 1244,1242.21 1245,1242.21 1246,1242.21 1247,1242.21 1248,1242.21 1249,1242.21 1250,1242.21 1251,1242.2 1252,1242.2 1253,1242.2 1254,1242.2 1255,1242.2 1256,1242.2 1257,1242.2 1258,1242.2 1259,1242.2 1260,1242.2 1261,1242.2 1262,1242.2 1263,1242.2 1264,1242.2 1265,1242.2 1266,1242.2 1267,1242.2 1268,1242.2 1269,1242.2 1270,1242.2 1271,1242.2 1272,1242.2 1273,1242.2 1274,1242.2 1275,1242.2 1276,1242.2 1277,1242.2 1278,1242.2 1279,1242.2 1280,1242.2 1281,1242.2 1282,1242.2 1283,1242.2 1284,1242.2 1285,1242.2 1286,1242.2 1287,1242.2 1288,1242.2 1289,1242.2 1290,1242.2 1291,1242.2 1292,1242.2 1293,1242.2 1294,1242.2 1295,1242.2 1296,1242.2 1297,1242.2 1298,1242.2 1299,1242.2 1300,1242.2 1301,1242.2 1302,1242.2 1303,1242.2 1304,1242.2 1305,1242.2" fill="none" stroke="#4a86c6" stroke-width="2.3" stroke-linejoin="round"/><polyline points="738,1236.4 739,1235.9 740,1236.4 741,1235.8 742,1234.8 743,1235.2 744,1235.5 745,1235.2 746,1235.6 747,1237.2 748,1238.2 749,1237.6 750,1237.3 751,1238 752,1238.5 753,1238.4 754,1238.8 755,1238.8 756,1237.8 757,1237.2 758,1237.8 759,1238.6 760,1238.1 761,1236.6 762,1235.7 763,1235.3 764,1235.5 765,1236.9 766,1237.8 767,1238.3 768,1239.3 769,1239.7 770,1239.4 771,1239 772,1238.3 773,1237.5 774,1237.8 775,1237.5 776,1236.6 777,1237 778,1237.9 779,1238.1 780,1237.7 781,1237.6 782,1237.5 783,1237.4 784,1237.8 785,1238.1 786,1238.1 787,1238.2 788,1238.9 789,1238.9 790,1238.6 791,1239.3 792,1240.2 793,1239.5 794,1238 795,1238.2 796,1238.3 797,1237.6 798,1237.3 799,1237.7 800,1237.6 801,1238.2 802,1238.2 803,1236.6 804,1235.9 805,1236.4 806,1238.3 807,1240.2 808,1239.5 809,1237.1 810,1237 811,1238.9 812,1239.8 813,1238.8 814,1237.6 815,1237.6 816,1237.6 817,1237.1 818,1237.1 819,1237.8 820,1238.1 821,1237.5 822,1236.6 823,1236.1 824,1237.1 825,1238.2 826,1237.5 827,1237.2 828,1238.8 829,1240.2 830,1240.3 831,1238.7 832,1236.9 833,1237.2 834,1239.6 835,1240.3 836,1238.3 837,1237.2 838,1237.3 839,1236.9 840,1236.8 841,1237.4 842,1238.3 843,1239 844,1238.9 845,1238.6 846,1237.8 847,1236.4 848,1235 849,1235.4 850,1237.1 851,1237.9 852,1238.6 853,1239.5 854,1240.1 855,1240.1 856,1239.3 857,1237.9 858,1236.6 859,1236.2 860,1236 861,1235.9 862,1236.5 863,1237.3 864,1237.5 865,1236.5 866,1235.8 867,1236.9 868,1238.6 869,1239.4 870,1238.7 871,1237.6 872,1238.3 873,1240.2 874,1241.3 875,1241.8 876,1241 877,1239.1 878,1238.6 879,1239.1 880,1239.3 881,1239.2 882,1238.6 883,1237.5 884,1236.5 885,1236.6 886,1237.1 887,1237.6 888,1238.2 889,1239.1 890,1239.6 891,1239.3 892,1238.9 893,1238.3 894,1237.8 895,1237.6 896,1237.9 897,1238.4 898,1238.7 899,1238.3 900,1237.8 901,1238 902,1237.5 903,1237.1 904,1237.4 905,1237.7 906,1237.9 907,1237.2 908,1236.7 909,1237.7 910,1239 911,1238.5 912,1237.4 913,1237.1 914,1237.7 915,1238.5 916,1238.3 917,1238.5 918,1238.4 919,1237.8 920,1238.8 921,1239.9 922,1240 923,1239.9 924,1240 925,1239.6 926,1239.2 927,1239 928,1238.8 929,1238.5 930,1238.5 931,1237.9 932,1237.8 933,1239.5 934,1241 935,1240.5 936,1239.4 937,1239 938,1238.5 939,1238.1 940,1237.3 941,1236.4 942,1236.7 943,1236.8 944,1236.1 945,1235.4 946,1235.4 947,1237 948,1239.3 949,1240.3 950,1239.7 951,1238.8 952,1237 953,1235.9 954,1236.7 955,1237.5 956,1237.4 957,1237.5 958,1237.1 959,1235.6 960,1234.8 961,1235.5 962,1236.2 963,1237.1 964,1238.5 965,1238.9 966,1238.1 967,1238.1 968,1238.7 969,1238.8 970,1238.3 971,1238 972,1238.9 973,1239.8 974,1238.9 975,1237.8 976,1238.4 977,1239 978,1238.4 979,1238.1 980,1238.1 981,1237.5 982,1237.5 983,1237.4 984,1237.6 985,1238.7 986,1238.5 987,1237.8 988,1237.9 989,1237.1 990,1236.2 991,1237.3 992,1239.1 993,1240.2 994,1240.4 995,1240.6 996,1241 997,1241.7 998,1242.5 999,1242.6 1000,1242.6 1001,1242.2 1002,1241.5 1003,1242.3 1004,1243.9 1005,1244 1006,1243.4 1007,1243.3 1008,1243.3 1009,1243.3 1010,1243.2 1011,1243.1 1012,1243.3 1013,1244 1014,1243.3 1015,1242.3 1016,1242.7 1017,1243.4 1018,1243.5 1019,1243.8 1020,1246 1021,1247.2 1022,1245.3 1023,1244.1 1024,1243.8 1025,1243 1026,1241.8 1027,1242.2 1028,1243.9 1029,1245.2 1030,1245.5 1031,1245 1032,1245.8 1033,1246.6 1034,1244.7 1035,1243.2 1036,1243.6 1037,1244.5 1038,1245 1039,1244.4 1040,1244.1 1041,1245.7 1042,1247.1 1043,1245 1044,1241.7 1045,1241.2 1046,1241.9 1047,1242.7 1048,1243.3 1049,1243.5 1050,1242.3 1051,1240 1052,1237.5 1053,1234.7 1054,1233.7 1055,1242.7 1056,1251 1057,1253.1 1058,1253.7 1059,1251.1 1060,1248.3 1061,1245.9 1062,1244.3 1063,1242.9 1064,1242.5 1065,1244.3 1066,1245.3 1067,1245.2 1068,1245.3 1069,1244.9 1070,1243.2 1071,1241.7 1072,1242.8 1073,1245.3 1074,1247.2 1075,1247.6 1076,1245.8 1077,1242.7 1078,1241.7 1079,1243.3 1080,1244.7 1081,1245.1 1082,1244.5 1083,1243.5 1084,1243 1085,1243.5 1086,1244.1 1087,1244.6 1088,1244.8 1089,1244.6 1090,1244.6 1091,1244.9 1092,1245.2 1093,1244.8 1094,1243.9 1095,1244.4 1096,1245.6 1097,1245.7 1098,1245.5 1099,1244.8 1100,1243.6 1101,1243.3 1102,1244 1103,1244.6 1104,1244.1 1105,1243 1106,1243 1107,1244.2 1108,1244.3 1109,1243 1110,1243.1 1111,1243.8 1112,1244.1 1113,1244.3 1114,1245.3 1115,1246.2 1116,1245.9 1117,1245.2 1118,1244.5 1119,1244 1120,1244.1 1121,1243.7 1122,1243.3 1123,1243.6 1124,1244.3 1125,1244.7 1126,1244.5 1127,1244.8 1128,1246.1 1129,1246.9 1130,1246.6 1131,1245.6 1132,1244.4 1133,1243.8 1134,1244.2 1135,1244.8 1136,1243.9 1137,1242.7 1138,1242.4 1139,1242.5 1140,1242.6 1141,1242.1 1142,1242.2 1143,1243.1 1144,1243.1 1145,1243.2 1146,1245.1 1147,1245.9 1148,1245.1 1149,1244.9 1150,1244.1 1151,1243.2 1152,1242.9 1153,1243.4 1154,1244.8 1155,1244.8 1156,1243.5 1157,1242.6 1158,1242.3 1159,1243.2 1160,1243.6 1161,1242.7 1162,1243.1 1163,1244.7 1164,1246 1165,1245.8 1166,1244.3 1167,1243.6 1168,1243.9 1169,1244 1170,1244.6 1171,1246.1 1172,1246.6 1173,1245.6 1174,1244.5 1175,1243.5 1176,1242.5 1177,1242.8 1178,1244.4 1179,1246.4 1180,1246.3 1181,1244.6 1182,1242.8 1183,1242.2 1184,1244.3 1185,1245.6 1186,1245 1187,1244.9 1188,1244.5 1189,1243.9 1190,1245.2 1191,1246.1 1192,1245.4 1193,1244.7 1194,1244.1 1195,1243.3 1196,1243.9 1197,1244.5 1198,1244.1 1199,1244 1200,1242.9 1201,1241.8 1202,1242.2 1203,1242.9 1204,1243.3 1205,1243.6 1206,1244.2 1207,1244.1 1208,1243.8 1209,1243.7 1210,1244.3 1211,1245.2 1212,1244.7 1213,1243.5 1214,1243.5 1215,1245 1216,1245.3 1217,1244.5 1218,1243.6 1219,1242.5 1220,1242.1 1221,1242.9 1222,1244 1223,1244.2 1224,1244.2 1225,1245 1226,1245.6 1227,1245.5 1228,1245.3 1229,1244.6 1230,1244.3 1231,1244.6 1232,1244.8 1233,1244.5 1234,1244.2 1235,1244.5 1236,1243.8 1237,1243 1238,1243.2 1239,1244.9 1240,1246.4 1241,1246.4 1242,1244.8 1243,1242.7 1244,1242.2 1245,1242.6 1246,1243.6 1247,1244.8 1248,1245 1249,1244.6 1250,1244 1251,1242.9 1252,1242.3 1253,1243 1254,1244.3 1255,1245.2 1256,1245.5 1257,1244.8 1258,1243.2 1259,1242.9 1260,1242.9 1261,1242.7 1262,1243.6 1263,1245.5 1264,1246.5 1265,1246.1 1266,1245.1 1267,1244.8 1268,1245 1269,1244.8 1270,1245.2 1271,1245.4 1272,1244.3 1273,1243.6 1274,1244.2 1275,1245 1276,1245.2 1277,1244.8 1278,1243.8 1279,1242.4 1280,1242.4 1281,1242.9 1282,1242.2 1283,1241.4 1284,1241.4 1285,1242.1 1286,1242.7 1287,1243.3 1288,1244.8 1289,1246 1290,1245.9 1291,1245.6 1292,1244.5 1293,1243.1 1294,1242.8 1295,1243.2 1296,1243.8 1297,1244.2 1298,1245 1299,1244.3 1300,1243.4 1301,1244.7 1302,1245.6 1303,1244.8 1304,1243.8 1305,1242.8" fill="none" stroke="#ff6ab8" stroke-width="2.1" stroke-linejoin="round"/><polyline points="737.8,1437.15 738.8,1437.16 739.8,1436.4 740.8,1436.35 741.8,1436.92 742.8,1437.41 743.8,1437.31 744.8,1436.87 745.8,1436.74 746.8,1436.81 747.8,1436.9 748.8,1436.56 749.8,1436.26 750.8,1436.8 751.8,1438 752.8,1438.53 753.8,1437.72 754.8,1437.37 755.8,1436.67 756.8,1434.54 757.8,1433.54 758.8,1434.57 759.8,1436.85 760.8,1438.66 761.8,1438.58 762.8,1437.48 763.8,1435.28 764.8,1433.06 765.8,1433.45 766.8,1435.55 767.8,1436.03 768.8,1435.63 769.8,1435.77 770.8,1435.95 771.8,1437.05 772.8,1437.24 773.8,1435.7 774.8,1435.04 775.8,1435.48 776.8,1435.53 777.8,1435.55 778.8,1435.51 779.8,1435.93 780.8,1435.77 781.8,1434.92 782.8,1434.47 783.8,1434.14 784.8,1433.58 785.8,1434.04 786.8,1434.96 787.8,1435.31 788.8,1435.5 789.8,1436.07 790.8,1435.39 791.8,1435.18 792.8,1436.76 793.8,1437.15 794.8,1435.42 795.8,1434.04 796.8,1433.82 797.8,1433.93 798.8,1434.88 799.8,1436.07 800.8,1435.87 801.8,1435.15 802.8,1434.84 803.8,1434.96 804.8,1435.41 805.8,1435.18 806.8,1434.53 807.8,1435.32 808.8,1436.44 809.8,1435.68 810.8,1435.13 811.8,1435.31 812.8,1433.9 813.8,1432.53 814.8,1432.38 815.8,1431.92 816.8,1431.93 817.8,1432.37 818.8,1431.97 819.8,1431.14 820.8,1430.99 821.8,1431.75 822.8,1432.36 823.8,1431.8 824.8,1432.23 825.8,1433.4 826.8,1433.5 827.8,1433.95 828.8,1433.5 829.8,1431.32 830.8,1430.08 831.8,1431.15 832.8,1432.42 833.8,1432.6 834.8,1432.49 835.8,1432.86 836.8,1432.27 837.8,1431.16 838.8,1431.23 839.8,1430.57 840.8,1429.57 841.8,1430.37 842.8,1431.73 843.8,1430.49 844.8,1428.19 845.8,1427.98 846.8,1428.34 847.8,1427.9 848.8,1427.02 849.8,1426.88 850.8,1427.49 851.8,1427.1 852.8,1426.53 853.8,1426.39 854.8,1426.93 855.8,1427.9 856.8,1427.56 857.8,1426.09 858.8,1425.39 859.8,1426.26 860.8,1427.41 861.8,1427.33 862.8,1426.56 863.8,1425.81 864.8,1425.39 865.8,1424.79 866.8,1424.62 867.8,1425.41 868.8,1425 869.8,1425.05 870.8,1426.06 871.8,1425.72 872.8,1424.33 873.8,1422.8 874.8,1422.39 875.8,1423.82 876.8,1424.71 877.8,1424.29 878.8,1423.78 879.8,1422.49 880.8,1422.15 881.8,1423.02 882.8,1423.39 883.8,1422.8 884.8,1421.09 885.8,1419.22 886.8,1418.14 887.8,1418.11 888.8,1418.38 889.8,1418.98 890.8,1419.7 891.8,1419.25 892.8,1419.68 893.8,1421.16 894.8,1420.13 895.8,1419.48 896.8,1420.91 897.8,1420.56 898.8,1417.91 899.8,1416.36 900.8,1417.33 901.8,1418.72 902.8,1418.19 903.8,1417.45 904.8,1418.03 905.8,1418 906.8,1416.38 907.8,1415.55 908.8,1416.85 909.8,1419.65 910.8,1420.54 911.8,1418.94 912.8,1417 913.8,1415.2 914.8,1413.55 915.8,1413.08 916.8,1412.29 917.8,1411.73 918.8,1412.3 919.8,1413.42 920.8,1414.47 921.8,1414.48 922.8,1413.26 923.8,1412.25 924.8,1412.4 925.8,1412.55 926.8,1411.59 927.8,1408.69 928.8,1406.86 929.8,1408.93 930.8,1411.5 931.8,1411.03 932.8,1409.82 933.8,1409.66 934.8,1409.25 935.8,1408.09 936.8,1406.89 937.8,1406.38 938.8,1405.69 939.8,1404.32 940.8,1403.76 941.8,1404.78 942.8,1405.74 943.8,1405.52 944.8,1404.99 945.8,1405.34 946.8,1405.58 947.8,1404.4 948.8,1403.71 949.8,1403.04 950.8,1401.23 951.8,1400.29 952.8,1400.64 953.8,1400.37 954.8,1398.78 955.8,1397.1 956.8,1395.57 957.8,1394.8 958.8,1394.92 959.8,1393.52 960.8,1391.69 961.8,1390.9 962.8,1390.18 963.8,1390.31 964.8,1391 965.8,1391.41 966.8,1391.44 967.8,1390.85 968.8,1391.56 969.8,1393.21 970.8,1394.26 971.8,1394.05 972.8,1393.34 973.8,1393.26 974.8,1394.13 975.8,1394.93 976.8,1395.14 977.8,1396.13 978.8,1397.55 979.8,1399.23 980.8,1401.72 981.8,1404.11 982.8,1405.15 983.8,1406.91 984.8,1409.78 985.8,1412.78 986.8,1415.78 987.8,1419.1 988.8,1421.9 989.8,1424.1 990.8,1427.16 991.8,1430.59 992.8,1433.99 993.8,1436.81 994.8,1440.35 995.8,1445.34 996.8,1450.11 997.8,1453.28 998.8,1456.04 999.8,1458.22 1000.8,1458.64 1001.8,1459.81 1002.8,1463.47 1003.8,1468.1 1004.8,1472.68 1005.8,1475.29 1006.8,1476.82 1007.8,1480.18 1008.8,1482.33 1009.8,1482.48 1010.8,1483.3 1011.8,1484.34 1012.8,1483.24 1013.8,1481.79 1014.8,1481.06 1015.8,1480.77 1016.8,1481.59 1017.8,1482.24 1018.8,1482.32 1019.8,1481.73 1020.8,1481.19 1021.8,1481.19 1022.8,1480.29 1023.8,1478.99 1024.8,1477.47 1025.8,1476.81 1026.8,1476.19 1027.8,1475.14 1028.8,1472.88 1029.8,1470.63 1030.8,1471 1031.8,1472.48 1032.8,1471.68 1033.8,1468.31 1034.8,1466.04 1035.8,1466.29 1036.8,1466.64 1037.8,1465.86 1038.8,1465.54 1039.8,1466.16 1040,1466.81 1040.25,1465.42 1040.5,1463.52 1040.75,1462.72 1041,1461.93 1041.25,1461.56 1041.5,1462.42 1041.75,1462.45 1042,1462.43 1042.25,1463.36 1042.5,1463.55 1042.75,1463.18 1043,1462.43 1043.25,1460.28 1043.5,1457.88 1043.75,1457.59 1044,1457.81 1044.25,1456.82 1044.5,1456.47 1044.75,1457.2 1045,1457.77 1045.25,1456.98 1045.5,1454.82 1045.75,1452.67 1046,1451.3 1046.25,1449.52 1046.5,1447.48 1046.75,1444.25 1047,1439.38 1047.25,1435.63 1047.5,1435.77 1047.75,1438.98 1048,1441.8 1048.25,1440.83 1048.5,1434.95 1048.75,1428.38 1049,1427 1049.25,1432.28 1049.5,1439.09 1049.75,1440.12 1050,1437.18 1050.25,1431.83 1050.5,1425.55 1050.75,1417.88 1051,1409.52 1051.25,1401.4 1051.5,1390.7 1051.75,1379.43 1052,1370.2 1052.25,1368.03 1052.5,1380.48 1052.75,1399.82 1053,1418.65 1053.25,1436.43 1053.5,1450.37 1053.75,1462.12 1054,1475.01 1054.25,1490.27 1054.5,1507.71 1054.75,1523.31 1055,1533.25 1055.25,1533.45 1055.5,1529.05 1055.75,1524.23 1056,1519.9 1056.25,1513.65 1056.5,1507.37 1056.75,1502.02 1057,1495.35 1057.25,1488.69 1057.5,1483.28 1057.75,1479.6 1058,1476.6 1058.25,1473.01 1058.5,1469.14 1058.75,1465.66 1059,1461.68 1059.25,1457.53 1059.5,1456.35 1059.75,1458.17 1060,1457.66 1060.25,1454.39 1060.5,1451.48 1060.75,1450.83 1061,1450.43 1061.25,1448.74 1061.5,1448.86 1061.75,1449.84 1062,1449.66 1062.25,1449.07 1062.5,1448.85 1062.75,1448.16 1063,1445.6 1063.25,1444.09 1063.5,1445.02 1063.75,1445.76 1064,1445.14 1064.25,1444.04 1064.5,1442.47 1064.75,1442.15 1065,1443.77 1065.25,1444.67 1065.5,1443.4 1065.75,1440.67 1066,1438.53 1067,1437.95 1068,1438.76 1069,1439.44 1070,1438.72 1071,1437.56 1072,1437.66 1073,1438.01 1074,1437.88 1075,1437.61 1076,1437.59 1077,1437.79 1078,1437.57 1079,1436.93 1080,1436.46 1081,1436.32 1082,1435.38 1083,1434.61 1084,1435.52 1085,1436.55 1086,1436.89 1087,1436.47 1088,1436.13 1089,1436.08 1090,1435.6 1091,1434.69 1092,1434.77 1093,1435.57 1094,1435.04 1095,1435.21 1096,1436.35 1097,1436.92 1098,1437.24 1099,1437.7 1100,1438.04 1101,1438.39 1102,1438.2 1103,1436.39 1104,1435.19 1105,1434.81 1106,1434.96 1107,1435.94 1108,1436.21 1109,1435.03 1110,1434.69 1111,1435.82 1112,1437.12 1113,1437.86 1114,1437.19 1115,1435.74 1116,1434.82 1117,1434.49 1118,1433.78 1119,1433.2 1120,1433.63 1121,1434.02 1122,1434.14 1123,1434.99 1124,1436.31 1125,1436.47 1126,1435.41 1127,1433.78 1128,1432.97 1129,1433.45 1130,1433.98 1131,1434.03 1132,1434.46 1133,1435.01 1134,1434.36 1135,1433.17 1136,1432.82 1137,1433.05 1138,1433.12 1139,1432.95 1140,1433.61 1141,1434.34 1142,1433.8 1143,1432.89 1144,1433.01 1145,1434 1146,1434.85 1147,1434.79 1148,1433.76 1149,1433.55 1150,1434.72 1151,1435.09 1152,1434.64 1153,1433.78 1154,1432.92 1155,1433.23 1156,1434.3 1157,1434.49 1158,1432.62 1159,1430.86 1160,1432.1 1161,1434.4 1162,1435.85 1163,1436.83 1164,1437.68 1165,1437.5 1166,1436.52 1167,1434.9 1168,1433.67 1169,1434.11 1170,1434.35 1171,1434 1172,1434.19 1173,1434.05 1174,1433.42 1175,1433.2 1176,1433.35 1177,1433.49 1178,1433.4 1179,1432.77 1180,1431.69 1181,1431.29 1182,1431.41 1183,1432.44 1184,1433.61 1185,1433.82 1186,1433.81 1187,1434.39 1188,1434.59 1189,1433.78 1190,1433.09 1191,1432.3 1192,1432.39 1193,1432.85 1194,1433.02 1195,1433.59 1196,1433.61 1197,1432.81 1198,1432.48 1199,1431.93 1200,1431.35 1201,1432.01 1202,1433.23 1203,1434.17 1204,1434.49 1205,1434.97 1206,1435.34 1207,1435.92 1208,1435.78 1209,1435.44 1210,1435.73 1211,1436.33 1212,1436.84 1213,1436.17 1214,1433.83 1215,1431.36 1216,1430.73 1217,1432.57 1218,1434.53 1219,1434.93 1220,1434.37 1221,1433.66 1222,1433.39 1223,1433.66 1224,1433.56 1225,1433.15 1226,1433.3 1227,1433.12 1228,1433.18 1229,1433.32 1230,1433.08 1231,1432.63 1232,1432.66 1233,1433.34 1234,1434.73 1235,1436.04 1236,1435.17 1237,1433.77 1238,1432.99 1239,1432.03 1240,1431.79 1241,1433.13 1242,1433.91 1243,1433.55 1244,1433.52 1245,1433.77 1246,1434.62 1247,1435.6 1248,1435.95 1249,1435.62 1250,1435.32 1251,1435.53 1252,1435.56 1253,1435.84 1254,1435.83 1255,1434.88 1256,1434.34 1257,1434.51 1258,1433.99 1259,1433.6 1260,1434.32 1261,1435.24 1262,1434.62 1263,1434.22 1264,1436.42 1265,1438.65 1266,1438.27 1267,1436.57 1268,1436.12 1269,1436.7 1270,1436.77 1271,1435.87 1272,1435.42 1273,1436.11 1274,1435.92 1275,1434.9 1276,1435.05 1277,1435.88 1278,1436.43 1279,1436.99 1280,1437.29 1281,1436.79 1282,1435.67 1283,1435.36 1284,1436.91 1285,1438.66 1286,1438.77 1287,1437.57 1288,1437.36 1289,1438.36 1290,1438.6 1291,1437.83 1292,1436.93 1293,1436.25 1294,1436.02 1295,1435.69 1296,1435.66 1297,1435.54 1298,1434.58 1299,1433.77 1300,1434.61 1301,1435.95 1302,1436.32 1303,1436.46 1304,1437.16 1305,1437.72" fill="none" stroke="#000" stroke-width="2.2" stroke-linejoin="round"/><polyline points="737.8,1435.53 738.8,1435.53 739.8,1435.53 740.8,1435.52 741.8,1435.52 742.8,1435.52 743.8,1435.52 744.8,1435.51 745.8,1435.51 746.8,1435.5 747.8,1435.5 748.8,1435.49 749.8,1435.48 750.8,1435.47 751.8,1435.47 752.8,1435.46 753.8,1435.45 754.8,1435.44 755.8,1435.43 756.8,1435.42 757.8,1435.41 758.8,1435.4 759.8,1435.38 760.8,1435.37 761.8,1435.36 762.8,1435.34 763.8,1435.33 764.8,1435.32 765.8,1435.3 766.8,1435.29 767.8,1435.27 768.8,1435.26 769.8,1435.24 770.8,1435.23 771.8,1435.21 772.8,1435.19 773.8,1435.18 774.8,1435.16 775.8,1435.14 776.8,1435.12 777.8,1435.11 778.8,1435.09 779.8,1435.07 780.8,1435.05 781.8,1435.03 782.8,1435.01 783.8,1434.99 784.8,1434.97 785.8,1434.95 786.8,1434.94 787.8,1434.92 788.8,1434.9 789.8,1434.88 790.8,1434.86 791.8,1434.83 792.8,1434.81 793.8,1434.79 794.8,1434.76 795.8,1434.73 796.8,1434.7 797.8,1434.67 798.8,1434.64 799.8,1434.61 800.8,1434.57 801.8,1434.54 802.8,1434.5 803.8,1434.46 804.8,1434.42 805.8,1434.38 806.8,1434.34 807.8,1434.3 808.8,1434.26 809.8,1434.21 810.8,1434.17 811.8,1434.12 812.8,1434.08 813.8,1434.03 814.8,1433.98 815.8,1433.93 816.8,1433.89 817.8,1433.84 818.8,1433.79 819.8,1433.74 820.8,1433.69 821.8,1433.63 822.8,1433.58 823.8,1433.52 824.8,1433.46 825.8,1433.4 826.8,1433.34 827.8,1433.28 828.8,1433.22 829.8,1433.15 830.8,1433.09 831.8,1433.02 832.8,1432.95 833.8,1432.88 834.8,1432.81 835.8,1432.74 836.8,1432.66 837.8,1432.59 838.8,1432.51 839.8,1432.44 840.8,1432.36 841.8,1432.28 842.8,1432.2 843.8,1432.12 844.8,1432.04 845.8,1431.96 846.8,1431.87 847.8,1431.79 848.8,1431.7 849.8,1431.61 850.8,1431.53 851.8,1431.44 852.8,1431.35 853.8,1431.25 854.8,1431.16 855.8,1431.07 856.8,1430.97 857.8,1430.87 858.8,1430.77 859.8,1430.67 860.8,1430.56 861.8,1430.46 862.8,1430.35 863.8,1430.24 864.8,1430.13 865.8,1430.02 866.8,1429.9 867.8,1429.78 868.8,1429.66 869.8,1429.54 870.8,1429.42 871.8,1429.29 872.8,1429.16 873.8,1429.03 874.8,1428.9 875.8,1428.76 876.8,1428.63 877.8,1428.49 878.8,1428.35 879.8,1428.2 880.8,1428.05 881.8,1427.9 882.8,1427.75 883.8,1427.6 884.8,1427.44 885.8,1427.28 886.8,1427.12 887.8,1426.95 888.8,1426.78 889.8,1426.6 890.8,1426.42 891.8,1426.24 892.8,1426.05 893.8,1425.86 894.8,1425.66 895.8,1425.46 896.8,1425.26 897.8,1425.05 898.8,1424.84 899.8,1424.62 900.8,1424.4 901.8,1424.17 902.8,1423.94 903.8,1423.7 904.8,1423.46 905.8,1423.22 906.8,1422.96 907.8,1422.71 908.8,1422.45 909.8,1422.18 910.8,1421.91 911.8,1421.63 912.8,1421.35 913.8,1421.06 914.8,1420.76 915.8,1420.46 916.8,1420.16 917.8,1419.85 918.8,1419.53 919.8,1419.19 920.8,1418.83 921.8,1418.46 922.8,1418.07 923.8,1417.66 924.8,1417.24 925.8,1416.81 926.8,1416.36 927.8,1415.9 928.8,1415.43 929.8,1414.95 930.8,1414.45 931.8,1413.95 932.8,1413.44 933.8,1412.92 934.8,1412.39 935.8,1411.85 936.8,1411.31 937.8,1410.76 938.8,1410.21 939.8,1409.66 940.8,1409.1 941.8,1408.53 942.8,1407.93 943.8,1407.29 944.8,1406.62 945.8,1405.92 946.8,1405.21 947.8,1404.47 948.8,1403.73 949.8,1402.98 950.8,1402.23 951.8,1401.49 952.8,1400.77 953.8,1400.06 954.8,1399.38 955.8,1398.74 956.8,1398.12 957.8,1397.55 958.8,1397.02 959.8,1396.46 960.8,1395.88 961.8,1395.29 962.8,1394.71 963.8,1394.15 964.8,1393.61 965.8,1393.12 966.8,1392.68 967.8,1392.31 968.8,1392.02 969.8,1391.82 970.8,1391.72 971.8,1391.76 972.8,1392 973.8,1392.4 974.8,1392.92 975.8,1393.5 976.8,1394.22 977.8,1395.29 978.8,1396.66 979.8,1398.23 980.8,1399.9 981.8,1401.65 982.8,1403.62 983.8,1405.83 984.8,1408.24 985.8,1410.84 986.8,1413.72 987.8,1417.1 988.8,1420.77 989.8,1424.52 990.8,1428.13 991.8,1431.48 992.8,1434.79 993.8,1438.06 994.8,1441.27 995.8,1444.41 996.8,1447.48 997.8,1450.49 998.8,1453.49 999.8,1456.47 1000.8,1459.36 1001.8,1462.13 1002.8,1464.71 1003.8,1467.06 1004.8,1469.38 1005.8,1471.67 1006.8,1473.82 1007.8,1475.74 1008.8,1477.32 1009.8,1478.46 1010.8,1479.34 1011.8,1480.15 1012.8,1480.82 1013.8,1481.27 1014.8,1481.42 1015.8,1481.39 1016.8,1481.32 1017.8,1481.21 1018.8,1481.07 1019.8,1480.91 1020.8,1480.64 1021.8,1480.2 1022.8,1479.63 1023.8,1478.96 1024.8,1478.23 1025.8,1477.47 1026.8,1476.73 1027.8,1476.03 1028.8,1475.29 1029.8,1474.53 1030.8,1473.72 1031.8,1472.88 1032.8,1472 1033.8,1471.07 1034.8,1470.1 1035.8,1469.09 1036.8,1468.03 1037.8,1466.9 1038.8,1465.69 1039.8,1464.37 1040,1464.09 1040.25,1463.73 1040.5,1463.37 1040.75,1462.99 1041,1462.61 1041.25,1462.23 1041.5,1461.85 1041.75,1461.46 1042,1461.06 1042.25,1460.64 1042.5,1460.21 1042.75,1459.76 1043,1459.29 1043.25,1458.79 1043.5,1458.25 1043.75,1457.68 1044,1457.08 1044.25,1456.43 1044.5,1455.73 1044.75,1454.98 1045,1454.12 1045.25,1453.14 1045.5,1452.02 1045.75,1450.73 1046,1449.28 1046.25,1447.64 1046.5,1445.63 1046.75,1441.98 1047,1437.79 1047.25,1434.7 1047.5,1434.5 1047.75,1438.01 1048,1441.9 1048.25,1442.11 1048.5,1436.56 1048.75,1430.46 1049,1429.62 1049.25,1433.68 1049.5,1438.1 1049.75,1438.73 1050,1435.93 1050.25,1431.6 1050.5,1427.11 1050.75,1421.66 1051,1415.36 1051.25,1408.16 1051.5,1398.01 1051.75,1387.58 1052,1380.46 1052.25,1380.68 1052.5,1391.26 1052.75,1406.49 1053,1420.57 1053.25,1435.69 1053.5,1451.26 1053.75,1465.78 1054,1479.57 1054.25,1493.24 1054.5,1509.19 1054.75,1524.08 1055,1533.59 1055.25,1534.5 1055.5,1531.18 1055.75,1526.25 1056,1521 1056.25,1514.09 1056.5,1506.89 1056.75,1500.92 1057,1495.47 1057.25,1490.42 1057.5,1485.86 1057.75,1481.81 1058,1477.89 1058.25,1474.17 1058.5,1470.76 1058.75,1467.78 1059,1465.36 1059.25,1463.52 1059.5,1461.92 1059.75,1460.48 1060,1459.2 1060.25,1458.08 1060.5,1457.12 1060.75,1456.31 1061,1455.62 1061.25,1454.99 1061.5,1454.38 1061.75,1453.81 1062,1453.28 1062.25,1452.77 1062.5,1452.3 1062.75,1451.86 1063,1451.46 1063.25,1451.08 1063.5,1450.73 1063.75,1450.41 1064,1450.12 1064.25,1449.85 1064.5,1449.61 1064.75,1449.39 1065,1449.19 1065.25,1448.99 1065.5,1448.79 1065.75,1448.61 1066,1448.43 1067,1447.77 1068,1447.21 1069,1446.73 1070,1446.3 1071,1445.92 1072,1445.56 1073,1445.23 1074,1444.92 1075,1444.62 1076,1444.34 1077,1444.08 1078,1443.83 1079,1443.6 1080,1443.38 1081,1443.17 1082,1442.98 1083,1442.8 1084,1442.63 1085,1442.48 1086,1442.32 1087,1442.18 1088,1442.04 1089,1441.91 1090,1441.78 1091,1441.66 1092,1441.54 1093,1441.43 1094,1441.32 1095,1441.21 1096,1441.11 1097,1441.01 1098,1440.92 1099,1440.82 1100,1440.73 1101,1440.64 1102,1440.55 1103,1440.47 1104,1440.38 1105,1440.29 1106,1440.21 1107,1440.13 1108,1440.05 1109,1439.96 1110,1439.89 1111,1439.81 1112,1439.73 1113,1439.66 1114,1439.58 1115,1439.51 1116,1439.44 1117,1439.38 1118,1439.31 1119,1439.25 1120,1439.18 1121,1439.12 1122,1439.06 1123,1439.01 1124,1438.95 1125,1438.9 1126,1438.85 1127,1438.81 1128,1438.76 1129,1438.71 1130,1438.67 1131,1438.63 1132,1438.58 1133,1438.54 1134,1438.5 1135,1438.45 1136,1438.41 1137,1438.37 1138,1438.33 1139,1438.29 1140,1438.25 1141,1438.21 1142,1438.17 1143,1438.14 1144,1438.1 1145,1438.07 1146,1438.03 1147,1438 1148,1437.97 1149,1437.93 1150,1437.9 1151,1437.87 1152,1437.84 1153,1437.81 1154,1437.79 1155,1437.76 1156,1437.73 1157,1437.71 1158,1437.69 1159,1437.66 1160,1437.64 1161,1437.62 1162,1437.6 1163,1437.59 1164,1437.57 1165,1437.55 1166,1437.54 1167,1437.52 1168,1437.51 1169,1437.49 1170,1437.48 1171,1437.46 1172,1437.45 1173,1437.43 1174,1437.42 1175,1437.4 1176,1437.39 1177,1437.37 1178,1437.36 1179,1437.35 1180,1437.33 1181,1437.32 1182,1437.3 1183,1437.29 1184,1437.28 1185,1437.27 1186,1437.25 1187,1437.24 1188,1437.23 1189,1437.22 1190,1437.21 1191,1437.2 1192,1437.19 1193,1437.18 1194,1437.17 1195,1437.16 1196,1437.15 1197,1437.14 1198,1437.13 1199,1437.13 1200,1437.12 1201,1437.11 1202,1437.11 1203,1437.1 1204,1437.09 1205,1437.09 1206,1437.08 1207,1437.08 1208,1437.08 1209,1437.07 1210,1437.07 1211,1437.07 1212,1437.07 1213,1437.07 1214,1437.07 1215,1437.07 1216,1437.07 1217,1437.07 1218,1437.07 1219,1437.07 1220,1437.07 1221,1437.07 1222,1437.07 1223,1437.07 1224,1437.07 1225,1437.07 1226,1437.07 1227,1437.07 1228,1437.07 1229,1437.07 1230,1437.07 1231,1437.07 1232,1437.07 1233,1437.07 1234,1437.07 1235,1437.07 1236,1437.07 1237,1437.07 1238,1437.07 1239,1437.07 1240,1437.07 1241,1437.07 1242,1437.07 1243,1437.07 1244,1437.07 1245,1437.07 1246,1437.07 1247,1437.07 1248,1437.07 1249,1437.07 1250,1437.07 1251,1437.07 1252,1437.07 1253,1437.07 1254,1437.07 1255,1437.07 1256,1437.07 1257,1437.07 1258,1437.07 1259,1437.07 1260,1437.07 1261,1437.07 1262,1437.07 1263,1437.07 1264,1437.07 1265,1437.07 1266,1437.07 1267,1437.07 1268,1437.07 1269,1437.07 1270,1437.07 1271,1437.07 1272,1437.07 1273,1437.07 1274,1437.07 1275,1437.07 1276,1437.07 1277,1437.07 1278,1437.07 1279,1437.07 1280,1437.07 1281,1437.07 1282,1437.07 1283,1437.07 1284,1437.07 1285,1437.07 1286,1437.07 1287,1437.07 1288,1437.07 1289,1437.07 1290,1437.07 1291,1437.07 1292,1437.07 1293,1437.07 1294,1437.07 1295,1437.07 1296,1437.07 1297,1437.07 1298,1437.07 1299,1437.07 1300,1437.07 1301,1437.07 1302,1437.07 1303,1437.07 1304,1437.07 1305,1437.07" fill="none" stroke="#ff2a2a" stroke-width="2.2" stroke-linejoin="round"/><line x1="737" y1="1553.4" x2="1306.2" y2="1553.4" stroke="#000" stroke-width="2.4"/><path d="M738 1553.4v9.5M794.7 1553.4v5M851.4 1553.4v9.5M908.2 1553.4v5M964.9 1553.4v9.5M1021.6 1553.4v5M1078.3 1553.4v9.5M1135 1553.4v5M1191.8 1553.4v9.5M1248.5 1553.4v5M1305.2 1553.4v9.5" stroke="#000" stroke-width="2.3" fill="none"/><text x="738" y="1591" font-size="30.4" text-anchor="middle" textLength="64.9" lengthAdjust="spacingAndGlyphs">2800</text><text x="851.4" y="1591" font-size="30.4" text-anchor="middle" textLength="64.9" lengthAdjust="spacingAndGlyphs">3000</text><text x="964.9" y="1591" font-size="30.4" text-anchor="middle" textLength="64.9" lengthAdjust="spacingAndGlyphs">3200</text><text x="1078.3" y="1591" font-size="30.4" text-anchor="middle" textLength="64.9" lengthAdjust="spacingAndGlyphs">3400</text><text x="1191.8" y="1591" font-size="30.4" text-anchor="middle" textLength="64.9" lengthAdjust="spacingAndGlyphs">3600</text><text x="1305.2" y="1591" font-size="30.4" text-anchor="middle" textLength="64.9" lengthAdjust="spacingAndGlyphs">3800</text><text x="1034" y="1634.8" font-size="34" text-anchor="middle" textLength="137.9" lengthAdjust="spacingAndGlyphs">Field (G)</text><text x="654.9" y="1211.8" font-size="61" textLength="36.1" lengthAdjust="spacingAndGlyphs">h</text><text x="737" y="1220.8" font-size="31" fill="#ff69b4" textLength="81.8" lengthAdjust="spacingAndGlyphs">TCNB</text><text x="737.5" y="1276.8" font-size="31" fill="#8cb2d8" textLength="114.2" lengthAdjust="spacingAndGlyphs">SC-2 Fit</text><text x="1085.3" y="1299.8" font-size="31.3" textLength="137.1" lengthAdjust="spacingAndGlyphs">g=2.0018</text><text x="736.5" y="1421" font-size="30" fill="#e60000" textLength="63.4" lengthAdjust="spacingAndGlyphs">Sim.</text><text x="736.5" y="1470.2" font-size="30" textLength="63.4" lengthAdjust="spacingAndGlyphs">Exp.</text></g>
<g id="pi"><g clip-path="url(#cli)"><polyline points="1442.4,1471.0 1442.6,1441.3 1442.8,1445.6 1443.0,1450.5 1443.2,1443.4 1443.4,1453.2 1443.6,1450.5 1443.9,1456.2 1444.1,1443.4 1444.3,1456.2 1444.5,1437.5 1444.7,1450.5 1444.9,1453.2 1445.1,1459.4 1445.3,1456.2 1445.5,1443.4 1445.7,1439.3 1445.9,1450.5 1446.1,1437.5 1446.4,1439.3 1446.6,1450.5 1446.8,1443.4 1447.0,1437.5 1447.2,1448.0 1447.4,1445.6 1447.6,1441.3 1447.8,1435.7 1448.0,1439.3 1448.2,1462.9 1448.4,1445.6 1448.6,1459.4 1448.8,1466.7 1449.1,1450.5 1449.3,1459.4 1449.5,1443.4 1449.7,1443.4 1449.9,1445.6 1450.1,1443.4 1450.3,1448.0 1450.5,1450.5 1450.7,1450.5 1450.9,1441.3 1451.1,1459.4 1451.3,1453.2 1451.6,1435.7 1451.8,1453.2 1452.0,1450.5 1452.2,1448.0 1452.4,1448.0 1452.6,1439.3 1452.8,1450.5 1453.0,1456.2 1453.2,1456.2 1453.4,1445.6 1453.6,1450.5 1453.8,1443.4 1454.0,1462.9 1454.3,1453.2 1454.5,1453.2 1454.7,1434.0 1454.9,1462.9 1455.1,1453.2 1455.3,1466.7 1455.5,1448.0 1455.7,1434.0 1455.9,1450.5 1456.1,1459.4 1456.3,1453.2 1456.5,1443.4 1456.7,1453.2 1457.0,1448.0 1457.2,1448.0 1457.4,1450.5 1457.6,1441.3 1457.8,1448.0 1458.0,1437.5 1458.2,1448.0 1458.4,1443.4 1458.6,1443.4 1458.8,1441.3 1459.0,1439.3 1459.2,1445.6 1459.5,1453.2 1459.7,1462.9 1459.9,1437.5 1460.1,1456.2 1460.3,1443.4 1460.5,1448.0 1460.7,1443.4 1460.9,1439.3 1461.1,1450.5 1461.3,1456.2 1461.5,1459.4 1461.7,1462.9 1461.9,1462.9 1462.2,1437.5 1462.4,1450.5 1462.6,1441.3 1462.8,1445.6 1463.0,1453.2 1463.2,1445.6 1463.4,1448.0 1463.6,1450.5 1463.8,1459.4 1464.0,1456.2 1464.2,1445.6 1464.4,1439.3 1464.7,1437.5 1464.9,1435.7 1465.1,1445.6 1465.3,1459.4 1465.5,1453.2 1465.7,1462.9 1465.9,1430.8 1466.1,1453.2 1466.3,1450.5 1466.5,1437.5 1466.7,1443.4 1466.9,1445.6 1467.1,1448.0 1467.4,1437.5 1467.6,1462.9 1467.8,1453.2 1468.0,1450.5 1468.2,1453.2 1468.4,1443.4 1468.6,1439.3 1468.8,1450.5 1469.0,1450.5 1469.2,1459.4 1469.4,1456.2 1469.6,1456.2 1469.9,1441.3 1470.1,1435.7 1470.3,1456.2 1470.5,1466.7 1470.7,1445.6 1470.9,1456.2 1471.1,1445.6 1471.3,1441.3 1471.5,1450.5 1471.7,1441.3 1471.9,1450.5 1472.1,1456.2 1472.3,1459.4 1472.6,1435.7 1472.8,1439.3 1473.0,1437.5 1473.2,1459.4 1473.4,1456.2 1473.6,1453.2 1473.8,1443.4 1474.0,1448.0 1474.2,1471.0 1474.4,1441.3 1474.6,1441.3 1474.8,1453.2 1475.0,1453.2 1475.3,1439.3 1475.5,1459.4 1475.7,1450.5 1475.9,1459.4 1476.1,1448.0 1476.3,1453.2 1476.5,1443.4 1476.7,1456.2 1476.9,1475.9 1477.1,1459.4 1477.3,1441.3 1477.5,1448.0 1477.8,1459.4 1478.0,1459.4 1478.2,1453.2 1478.4,1456.2 1478.6,1443.4 1478.8,1448.0 1479.0,1445.6 1479.2,1432.3 1479.4,1453.2 1479.6,1453.2 1479.8,1443.4 1480.0,1445.6 1480.2,1441.3 1480.5,1459.4 1480.7,1448.0 1480.9,1448.0 1481.1,1445.6 1481.3,1456.2 1481.5,1453.2 1481.7,1434.0 1481.9,1443.4 1482.1,1443.4 1482.3,1448.0 1482.5,1441.3 1482.7,1453.2 1483.0,1462.9 1483.2,1441.3 1483.4,1445.6 1483.6,1443.4 1483.8,1432.3 1484.0,1450.5 1484.2,1443.4 1484.4,1466.7 1484.6,1466.7 1484.8,1422.6 1485.0,1450.5 1485.2,1448.0 1485.4,1462.9 1485.7,1462.9 1485.9,1448.0 1486.1,1439.3 1486.3,1459.4 1486.5,1456.2 1486.7,1462.9 1486.9,1462.9 1487.1,1434.0 1487.3,1441.3 1487.5,1443.4 1487.7,1453.2 1487.9,1445.6 1488.2,1448.0 1488.4,1439.3 1488.6,1448.0 1488.8,1443.4 1489.0,1448.0 1489.2,1453.2 1489.4,1441.3 1489.6,1448.0 1489.8,1462.9 1490.0,1441.3 1490.2,1443.4 1490.4,1448.0 1490.6,1453.2 1490.9,1459.4 1491.1,1456.2 1491.3,1441.3 1491.5,1456.2 1491.7,1450.5 1491.9,1437.5 1492.1,1437.5 1492.3,1448.0 1492.5,1443.4 1492.7,1448.0 1492.9,1448.0 1493.1,1448.0 1493.4,1462.9 1493.6,1453.2 1493.8,1448.0 1494.0,1453.2 1494.2,1439.3 1494.4,1456.2 1494.6,1443.4 1494.8,1443.4 1495.0,1453.2 1495.2,1439.3 1495.4,1453.2 1495.6,1459.4 1495.8,1450.5 1496.1,1430.8 1496.3,1459.4 1496.5,1450.5 1496.7,1434.0 1496.9,1450.5 1497.1,1459.4 1497.3,1456.2 1497.5,1453.2 1497.7,1448.0 1497.9,1456.2 1498.1,1445.6 1498.3,1450.5 1498.5,1466.7 1498.8,1439.3 1499.0,1430.8 1499.2,1426.5 1499.4,1445.6 1499.6,1462.9 1499.8,1443.4 1500.0,1441.3 1500.2,1445.6 1500.4,1462.9 1500.6,1456.2 1500.8,1441.3 1501.0,1453.2 1501.3,1459.4 1501.5,1439.3 1501.7,1453.2 1501.9,1441.3 1502.1,1434.0 1502.3,1441.3 1502.5,1430.8 1502.7,1439.3 1502.9,1441.3 1503.1,1441.3 1503.3,1429.3 1503.5,1448.0 1503.7,1448.0 1504.0,1450.5 1504.2,1450.5 1504.4,1437.5 1504.6,1437.5 1504.8,1450.5 1505.0,1441.3 1505.2,1434.0 1505.4,1439.3 1505.6,1434.0 1505.8,1459.4 1506.0,1445.6 1506.2,1439.3 1506.5,1441.3 1506.7,1425.1 1506.9,1450.5 1507.1,1441.3 1507.3,1450.5 1507.5,1439.3 1507.7,1450.5 1507.9,1443.4 1508.1,1456.2 1508.3,1439.3 1508.5,1434.0 1508.7,1466.7 1508.9,1441.3 1509.2,1429.3 1509.4,1434.0 1509.6,1443.4 1509.8,1445.6 1510.0,1439.3 1510.2,1439.3 1510.4,1445.6 1510.6,1441.3 1510.8,1439.3 1511.0,1448.0 1511.2,1443.4 1511.4,1441.3 1511.7,1459.4 1511.9,1453.2 1512.1,1430.8 1512.3,1450.5 1512.5,1443.4 1512.7,1443.4 1512.9,1459.4 1513.1,1445.6 1513.3,1448.0 1513.5,1435.7 1513.7,1445.6 1513.9,1443.4 1514.1,1425.1 1514.4,1430.8 1514.6,1456.2 1514.8,1434.0 1515.0,1462.9 1515.2,1443.4 1515.4,1445.6 1515.6,1443.4 1515.8,1445.6 1516.0,1441.3 1516.2,1429.3 1516.4,1429.3 1516.6,1445.6 1516.8,1441.3 1517.1,1432.3 1517.3,1448.0 1517.5,1434.0 1517.7,1459.4 1517.9,1448.0 1518.1,1439.3 1518.3,1437.5 1518.5,1439.3 1518.7,1426.5 1518.9,1437.5 1519.1,1432.3 1519.3,1435.7 1519.6,1443.4 1519.8,1434.0 1520.0,1443.4 1520.2,1443.4 1520.4,1435.7 1520.6,1434.0 1520.8,1432.3 1521.0,1437.5 1521.2,1441.3 1521.4,1434.0 1521.6,1426.5 1521.8,1435.7 1522.0,1430.8 1522.3,1434.0 1522.5,1435.7 1522.7,1427.8 1522.9,1450.5 1523.1,1437.5 1523.3,1437.5 1523.5,1437.5 1523.7,1443.4 1523.9,1448.0 1524.1,1437.5 1524.3,1448.0 1524.5,1437.5 1524.8,1435.7 1525.0,1432.3 1525.2,1426.5 1525.4,1448.0 1525.6,1441.3 1525.8,1443.4 1526.0,1443.4 1526.2,1435.7 1526.4,1441.3 1526.6,1445.6 1526.8,1441.3 1527.0,1430.8 1527.2,1448.0 1527.5,1445.6 1527.7,1439.3 1527.9,1430.8 1528.1,1432.3 1528.3,1443.4 1528.5,1435.7 1528.7,1435.7 1528.9,1456.2 1529.1,1435.7 1529.3,1456.2 1529.5,1443.4 1529.7,1450.5 1530.0,1443.4 1530.2,1437.5 1530.4,1445.6 1530.6,1427.8 1530.8,1425.1 1531.0,1437.5 1531.2,1435.7 1531.4,1427.8 1531.6,1432.3 1531.8,1439.3 1532.0,1422.6 1532.2,1441.3 1532.4,1439.3 1532.7,1432.3 1532.9,1423.8 1533.1,1445.6 1533.3,1437.5 1533.5,1423.8 1533.7,1439.3 1533.9,1432.3 1534.1,1435.7 1534.3,1422.6 1534.5,1432.3 1534.7,1430.8 1534.9,1427.8 1535.2,1443.4 1535.4,1425.1 1535.6,1422.6 1535.8,1425.1 1536.0,1425.1 1536.2,1432.3 1536.4,1414.9 1536.6,1435.7 1536.8,1426.5 1537.0,1414.9 1537.2,1430.8 1537.4,1434.0 1537.6,1418.0 1537.9,1415.9 1538.1,1420.2 1538.3,1425.1 1538.5,1407.8 1538.7,1419.1 1538.9,1399.1 1539.1,1401.1 1539.3,1405.4 1539.5,1406.9 1539.7,1406.9 1539.9,1388.1 1540.1,1382.8 1540.3,1386.7 1540.6,1382.8 1540.8,1385.8 1541.0,1376.7 1541.2,1377.1 1541.4,1374.3 1541.6,1372.1 1541.8,1354.8 1542.0,1350.8 1542.2,1348.5 1542.4,1339.4 1542.6,1329.8 1542.8,1330.0 1543.1,1321.6 1543.3,1314.9 1543.5,1309.8 1543.7,1304.8 1543.9,1297.2 1544.1,1294.6 1544.3,1288.7 1544.5,1287.6 1544.7,1281.4 1544.9,1279.0 1545.1,1274.6 1545.3,1270.5 1545.5,1267.7 1545.8,1264.7 1546.0,1260.4 1546.2,1260.1 1546.4,1254.2 1546.6,1251.3 1546.8,1248.6 1547.0,1246.3 1547.2,1242.4 1547.4,1239.3 1547.6,1238.6 1547.8,1235.4 1548.0,1232.3 1548.3,1230.2 1548.5,1226.6 1548.7,1225.2 1548.9,1222.2 1549.1,1219.8 1549.3,1217.4 1549.5,1215.0 1549.7,1212.3 1549.9,1209.5 1550.1,1206.8 1550.3,1204.0 1550.5,1201.2 1550.7,1198.4 1551.0,1196.1 1551.2,1193.4 1551.4,1191.6 1551.6,1190.5 1551.8,1189.3 1552.0,1187.9 1552.2,1186.4 1552.4,1185.9 1552.6,1184.6 1552.8,1183.9 1553.0,1184.3 1553.2,1183.8 1553.5,1184.5 1553.7,1184.8 1553.9,1185.4 1554.1,1187.0 1554.3,1187.9 1554.5,1188.6 1554.7,1190.7 1554.9,1192.3 1555.1,1194.7 1555.3,1196.7 1555.5,1199.2 1555.7,1203.0 1555.9,1205.3 1556.2,1208.6 1556.4,1211.7 1556.6,1213.7 1556.8,1214.5 1557.0,1215.9 1557.2,1218.0 1557.4,1219.2 1557.6,1221.0 1557.8,1222.2 1558.0,1223.6 1558.2,1224.9 1558.4,1226.0 1558.6,1227.0 1558.9,1227.2 1559.1,1228.6 1559.3,1230.8 1559.5,1231.9 1559.7,1232.7 1559.9,1233.4 1560.1,1235.1 1560.3,1235.9 1560.5,1237.1 1560.7,1238.1 1560.9,1238.9 1561.1,1239.5 1561.4,1240.8 1561.6,1240.7 1561.8,1242.3 1562.0,1242.9 1562.2,1244.0 1562.4,1244.5 1562.6,1246.1 1562.8,1245.6 1563.0,1248.6 1563.2,1249.2 1563.4,1251.1 1563.6,1250.9 1563.8,1251.5 1564.1,1253.6 1564.3,1253.4 1564.5,1254.1 1564.7,1255.6 1564.9,1257.8 1565.1,1257.4 1565.3,1258.5 1565.5,1260.4 1565.7,1262.0 1565.9,1263.6 1566.1,1263.3 1566.3,1264.1 1566.6,1265.0 1566.8,1266.0 1567.0,1268.1 1567.2,1269.1 1567.4,1270.1 1567.6,1271.1 1567.8,1270.3 1568.0,1272.6 1568.2,1273.1 1568.4,1275.3 1568.6,1275.1 1568.8,1276.5 1569.0,1278.9 1569.3,1280.2 1569.5,1279.4 1569.7,1280.1 1569.9,1283.8 1570.1,1284.5 1570.3,1283.7 1570.5,1285.2 1570.7,1286.7 1570.9,1288.9 1571.1,1287.7 1571.3,1287.9 1571.5,1290.4 1571.8,1290.6 1572.0,1292.2 1572.2,1295.3 1572.4,1292.8 1572.6,1297.8 1572.8,1295.3 1573.0,1297.9 1573.2,1299.9 1573.4,1301.9 1573.6,1301.3 1573.8,1302.4 1574.0,1304.2 1574.2,1305.7 1574.5,1305.9 1574.7,1308.4 1574.9,1305.1 1575.1,1309.4 1575.3,1311.3 1575.5,1309.7 1575.7,1313.2 1575.9,1315.5 1576.1,1313.0 1576.3,1314.2 1576.5,1316.0 1576.7,1318.2 1577.0,1320.1 1577.2,1321.7 1577.4,1322.0 1577.6,1323.8 1577.8,1322.4 1578.0,1325.3 1578.2,1326.3 1578.4,1328.5 1578.6,1324.0 1578.8,1331.0 1579.0,1329.8 1579.2,1328.5 1579.4,1330.5 1579.7,1332.8 1579.9,1334.0 1580.1,1335.1 1580.3,1339.9 1580.5,1338.0 1580.7,1332.7 1580.9,1335.5 1581.1,1339.2 1581.3,1346.3 1581.5,1345.8 1581.7,1347.0 1581.9,1348.6 1582.1,1349.1 1582.4,1349.5 1582.6,1350.1 1582.8,1346.1 1583.0,1349.3 1583.2,1355.4 1583.4,1353.1 1583.6,1353.3 1583.8,1357.4 1584.0,1351.7 1584.2,1361.5 1584.4,1356.8 1584.6,1359.9 1584.9,1359.7 1585.1,1357.2 1585.3,1364.6 1585.5,1364.9 1585.7,1361.7 1585.9,1369.5 1586.1,1371.8 1586.3,1362.9 1586.5,1375.7 1586.7,1367.0 1586.9,1372.4 1587.1,1370.9 1587.3,1367.2 1587.6,1374.7 1587.8,1370.9 1588.0,1376.7 1588.2,1372.1 1588.4,1375.0 1588.6,1375.7 1588.8,1379.2 1589.0,1375.3 1589.2,1374.0 1589.4,1379.2 1589.6,1386.7 1589.8,1385.3 1590.1,1388.1 1590.3,1387.1 1590.5,1386.7 1590.7,1385.3 1590.9,1383.2 1591.1,1397.8 1591.3,1389.5 1591.5,1380.4 1591.7,1386.7 1591.9,1391.0 1592.1,1386.2 1592.3,1399.7 1592.5,1393.2 1592.8,1399.1 1593.0,1400.4 1593.2,1404.6 1593.4,1406.9 1593.6,1397.2 1593.8,1390.5 1594.0,1401.1 1594.2,1397.2 1594.4,1413.0 1594.6,1402.5 1594.8,1411.2 1595.0,1415.9 1595.3,1400.4 1595.5,1403.9 1595.7,1406.2 1595.9,1397.2 1596.1,1405.4 1596.3,1417.0 1596.5,1403.2 1596.7,1406.9 1596.9,1417.0 1597.1,1404.6 1597.3,1418.0 1597.5,1417.0 1597.7,1415.9 1598.0,1422.6 1598.2,1409.4 1598.4,1413.0 1598.6,1413.0 1598.8,1417.0 1599.0,1407.8 1599.2,1415.9 1599.4,1419.1 1599.6,1421.4 1599.8,1413.9 1600.0,1417.0 1600.2,1420.2 1600.4,1421.4 1600.7,1418.0 1600.9,1419.1 1601.1,1421.4 1601.3,1426.5 1601.5,1430.8 1601.7,1418.0 1601.9,1412.1 1602.1,1419.1 1602.3,1426.5 1602.5,1434.0 1602.7,1430.8 1602.9,1422.6 1603.2,1411.2 1603.4,1420.2 1603.6,1421.4 1603.8,1439.3 1604.0,1443.4 1604.2,1441.3 1604.4,1422.6 1604.6,1434.0 1604.8,1435.7 1605.0,1426.5 1605.2,1443.4 1605.4,1434.0 1605.6,1430.8 1605.9,1425.1 1606.1,1430.8 1606.3,1445.6 1606.5,1434.0 1606.7,1441.3 1606.9,1427.8 1607.1,1437.5 1607.3,1432.3 1607.5,1441.3 1607.7,1423.8 1607.9,1429.3 1608.1,1430.8 1608.4,1441.3 1608.6,1432.3 1608.8,1459.4 1609.0,1437.5 1609.2,1439.3 1609.4,1448.0 1609.6,1448.0 1609.8,1439.3 1610.0,1445.6 1610.2,1435.7 1610.4,1439.3 1610.6,1425.1 1610.8,1430.8 1611.1,1450.5 1611.3,1439.3 1611.5,1450.5 1611.7,1434.0 1611.9,1437.5 1612.1,1441.3 1612.3,1443.4 1612.5,1450.5 1612.7,1434.0 1612.9,1435.7 1613.1,1445.6 1613.3,1466.7 1613.6,1427.8 1613.8,1435.7 1614.0,1448.0 1614.2,1456.2 1614.4,1450.5 1614.6,1453.2 1614.8,1443.4 1615.0,1453.2 1615.2,1450.5 1615.4,1445.6 1615.6,1459.4 1615.8,1437.5 1616.0,1435.7 1616.3,1441.3 1616.5,1435.7 1616.7,1453.2 1616.9,1439.3 1617.1,1450.5 1617.3,1445.6 1617.5,1448.0 1617.7,1450.5 1617.9,1443.4 1618.1,1450.5 1618.3,1441.3 1618.5,1448.0 1618.8,1453.2 1619.0,1453.2 1619.2,1439.3 1619.4,1443.4 1619.6,1450.5 1619.8,1437.5 1620.0,1466.7 1620.2,1441.3 1620.4,1445.6 1620.6,1445.6 1620.8,1443.4 1621.0,1453.2 1621.2,1453.2 1621.5,1445.6 1621.7,1450.5 1621.9,1453.2 1622.1,1441.3 1622.3,1439.3 1622.5,1459.4 1622.7,1466.7 1622.9,1443.4 1623.1,1459.4 1623.3,1456.2 1623.5,1439.3 1623.7,1450.5 1623.9,1459.4 1624.2,1453.2 1624.4,1443.4 1624.6,1434.0 1624.8,1450.5 1625.0,1439.3 1625.2,1450.5 1625.4,1462.9 1625.6,1453.2 1625.8,1432.3 1626.0,1443.4 1626.2,1453.2 1626.4,1450.5 1626.7,1441.3 1626.9,1456.2 1627.1,1453.2 1627.3,1445.6 1627.5,1441.3 1627.7,1441.3 1627.9,1443.4 1628.1,1432.3 1628.3,1459.4 1628.5,1462.9 1628.7,1441.3 1628.9,1448.0 1629.1,1459.4 1629.4,1443.4 1629.6,1466.7 1629.8,1434.0 1630.0,1453.2 1630.2,1453.2 1630.4,1448.0 1630.6,1448.0 1630.8,1453.2 1631.0,1443.4 1631.2,1445.6 1631.4,1432.3 1631.6,1456.2 1631.9,1456.2 1632.1,1448.0 1632.3,1448.0 1632.5,1443.4 1632.7,1443.4 1632.9,1456.2 1633.1,1453.2 1633.3,1459.4 1633.5,1441.3 1633.7,1445.6 1633.9,1430.8 1634.1,1456.2 1634.3,1434.0 1634.6,1456.2 1634.8,1439.3 1635.0,1450.5 1635.2,1443.4 1635.4,1445.6 1635.6,1456.2 1635.8,1453.2 1636.0,1445.6 1636.2,1448.0 1636.4,1459.4 1636.6,1445.6 1636.8,1453.2 1637.1,1441.3 1637.3,1445.6 1637.5,1456.2 1637.7,1459.4 1637.9,1439.3 1638.1,1443.4 1638.3,1445.6 1638.5,1445.6 1638.7,1462.9 1638.9,1443.4 1639.1,1450.5 1639.3,1443.4 1639.5,1456.2 1639.8,1445.6 1640.0,1459.4 1640.2,1448.0 1640.4,1459.4 1640.6,1439.3 1640.8,1439.3 1641.0,1456.2 1641.2,1456.2 1641.4,1443.4 1641.6,1459.4 1641.8,1445.6 1642.0,1450.5 1642.2,1443.4 1642.5,1448.0 1642.7,1443.4 1642.9,1456.2 1643.1,1466.7 1643.3,1445.6 1643.5,1443.4 1643.7,1441.3 1643.9,1456.2 1644.1,1439.3 1644.3,1443.4 1644.5,1443.4 1644.7,1437.5 1645.0,1450.5 1645.2,1466.7 1645.4,1456.2 1645.6,1453.2 1645.8,1450.5 1646.0,1443.4 1646.2,1456.2 1646.4,1448.0 1646.6,1448.0 1646.8,1443.4 1647.0,1443.4 1647.2,1450.5 1647.4,1443.4 1647.7,1450.5 1647.9,1453.2 1648.1,1439.3 1648.3,1450.5 1648.5,1459.4 1648.7,1448.0 1648.9,1456.2 1649.1,1450.5 1649.3,1450.5 1649.5,1453.2 1649.7,1462.9 1649.9,1434.0 1650.2,1443.4 1650.4,1453.2 1650.6,1456.2 1650.8,1443.4 1651.0,1462.9 1651.2,1456.2 1651.4,1459.4 1651.6,1453.2 1651.8,1450.5 1652.0,1456.2 1652.2,1434.0 1652.4,1441.3 1652.6,1453.2 1652.9,1456.2 1653.1,1435.7 1653.3,1443.4 1653.5,1443.4 1653.7,1437.5 1653.9,1462.9 1654.1,1443.4 1654.3,1450.5 1654.5,1450.5 1654.7,1445.6 1654.9,1453.2 1655.1,1459.4 1655.4,1459.4 1655.6,1437.5 1655.8,1462.9 1656.0,1453.2 1656.2,1471.0 1656.4,1437.5 1656.6,1448.0 1656.8,1439.3 1657.0,1441.3 1657.2,1459.4 1657.4,1426.5 1657.6,1488.2 1657.8,1450.5 1658.1,1459.4 1658.3,1462.9 1658.5,1445.6 1658.7,1441.3 1658.9,1466.7 1659.1,1443.4 1659.3,1443.4 1659.5,1439.3 1659.7,1445.6 1659.9,1466.7 1660.1,1466.7 1660.3,1445.6 1660.6,1445.6 1660.8,1456.2 1661.0,1450.5 1661.2,1445.6 1661.4,1456.2 1661.6,1459.4 1661.8,1466.7 1662.0,1434.0 1662.2,1453.2 1662.4,1445.6 1662.6,1450.5 1662.8,1450.5 1663.0,1448.0 1663.3,1462.9 1663.5,1443.4 1663.7,1453.2 1663.9,1439.3 1664.1,1445.6 1664.3,1443.4 1664.5,1453.2 1664.7,1456.2 1664.9,1453.2 1665.1,1466.7 1665.3,1443.4 1665.5,1448.0 1665.7,1456.2 1666.0,1459.4 1666.2,1448.0 1666.4,1450.5 1666.6,1453.2 1666.8,1448.0 1667.0,1450.5 1667.2,1459.4 1667.4,1456.2 1667.6,1453.2 1667.8,1459.4 1668.0,1466.7 1668.2,1456.2 1668.5,1456.2 1668.7,1450.5 1668.9,1456.2 1669.1,1450.5 1669.3,1445.6 1669.5,1471.0 1669.7,1453.2 1669.9,1459.4 1670.1,1462.9 1670.3,1441.3 1670.5,1437.5 1670.7,1432.3 1670.9,1453.2 1671.2,1445.6 1671.4,1448.0 1671.6,1459.4 1671.8,1459.4 1672.0,1453.2 1672.2,1443.4 1672.4,1459.4 1672.6,1445.6 1672.8,1443.4 1673.0,1450.5 1673.2,1443.4 1673.4,1450.5 1673.7,1453.2 1673.9,1453.2 1674.1,1445.6 1674.3,1466.7 1674.5,1441.3 1674.7,1445.6 1674.9,1450.5 1675.1,1448.0 1675.3,1453.2 1675.5,1459.4 1675.7,1456.2 1675.9,1453.2 1676.1,1443.4 1676.4,1453.2 1676.6,1443.4 1676.8,1450.5 1677.0,1453.2 1677.2,1448.0 1677.4,1448.0 1677.6,1443.4 1677.8,1448.0 1678.0,1441.3 1678.2,1434.0 1678.4,1437.5 1678.6,1462.9 1678.9,1453.2 1679.1,1462.9 1679.3,1462.9 1679.5,1459.4 1679.7,1443.4 1679.9,1453.2 1680.1,1441.3 1680.3,1443.4 1680.5,1441.3 1680.7,1445.6 1680.9,1459.4 1681.1,1466.7 1681.3,1453.2 1681.6,1441.3 1681.8,1450.5 1682.0,1453.2 1682.2,1450.5 1682.4,1437.5 1682.6,1453.2 1682.8,1445.6 1683.0,1453.2 1683.2,1434.0 1683.4,1439.3 1683.6,1448.0 1683.8,1456.2 1684.0,1441.3 1684.3,1441.3 1684.5,1450.5 1684.7,1443.4 1684.9,1459.4 1685.1,1450.5 1685.3,1430.8 1685.5,1437.5 1685.7,1434.0 1685.9,1443.4 1686.1,1453.2 1686.3,1448.0 1686.5,1466.7 1686.8,1448.0 1687.0,1443.4 1687.2,1459.4 1687.4,1459.4 1687.6,1441.3 1687.8,1466.7 1688.0,1450.5 1688.2,1437.5 1688.4,1443.4 1688.6,1439.3 1688.8,1450.5 1689.0,1450.5 1689.2,1439.3 1689.5,1445.6 1689.7,1450.5 1689.9,1448.0 1690.1,1459.4 1690.3,1441.3 1690.5,1441.3 1690.7,1450.5 1690.9,1435.7 1691.1,1441.3 1691.3,1448.0 1691.5,1448.0 1691.7,1430.8 1692.0,1445.6 1692.2,1448.0 1692.4,1459.4 1692.6,1453.2 1692.8,1439.3 1693.0,1488.2 1693.2,1448.0 1693.4,1441.3 1693.6,1453.2 1693.8,1445.6 1694.0,1459.4 1694.2,1450.5 1694.4,1448.0 1694.7,1456.2 1694.9,1443.4 1695.1,1459.4 1695.3,1459.4 1695.5,1456.2 1695.7,1459.4 1695.9,1437.5 1696.1,1462.9 1696.3,1443.4 1696.5,1448.0 1696.7,1445.6 1696.9,1448.0 1697.2,1437.5 1697.4,1450.5 1697.6,1450.5 1697.8,1456.2 1698.0,1448.0 1698.2,1441.3 1698.4,1459.4 1698.6,1443.4 1698.8,1450.5 1699.0,1456.2 1699.2,1443.4 1699.4,1456.2 1699.6,1439.3 1699.9,1441.3 1700.1,1450.5 1700.3,1448.0 1700.5,1448.0 1700.7,1445.6 1700.9,1462.9 1701.1,1453.2 1701.3,1453.2 1701.5,1437.5 1701.7,1496.4 1701.9,1453.2 1702.1,1466.7 1702.3,1450.5 1702.6,1441.3 1702.8,1450.5 1703.0,1453.2 1703.2,1448.0 1703.4,1521.8 1703.6,1471.0 1703.8,1437.5 1704.0,1456.2 1704.2,1443.4 1704.4,1448.0 1704.6,1453.2 1704.8,1466.7 1705.1,1456.2 1705.3,1443.4 1705.5,1462.9 1705.7,1459.4 1705.9,1441.3 1706.1,1443.4 1706.3,1443.4 1706.5,1450.5 1706.7,1459.4 1706.9,1450.5 1707.1,1450.5 1707.3,1456.2 1707.5,1466.7 1707.8,1466.7 1708.0,1459.4 1708.2,1445.6 1708.4,1448.0 1708.6,1445.6 1708.8,1459.4 1709.0,1448.0 1709.2,1445.6 1709.4,1462.9 1709.6,1448.0 1709.8,1450.5 1710.0,1448.0 1710.3,1445.6 1710.5,1450.5 1710.7,1434.0 1710.9,1456.2 1711.1,1453.2 1711.3,1450.5 1711.5,1445.6 1711.7,1435.7 1711.9,1445.6 1712.1,1443.4 1712.3,1443.4 1712.5,1456.2 1712.7,1459.4 1713.0,1443.4 1713.2,1450.5 1713.4,1450.5 1713.6,1450.5 1713.8,1466.7 1714.0,1448.0 1714.2,1443.4 1714.4,1456.2 1714.6,1448.0 1714.8,1448.0 1715.0,1459.4 1715.2,1453.2 1715.5,1453.2 1715.7,1450.5 1715.9,1453.2 1716.1,1475.9 1716.3,1437.5 1716.5,1437.5 1716.7,1459.4 1716.9,1456.2 1717.1,1445.6 1717.3,1443.4 1717.5,1453.2 1717.7,1441.3 1717.9,1475.9 1718.2,1450.5 1718.4,1450.5 1718.6,1453.2 1718.8,1450.5 1719.0,1456.2 1719.2,1456.2 1719.4,1439.3 1719.6,1443.4 1719.8,1443.4 1720.0,1445.6 1720.2,1453.2 1720.4,1450.5 1720.7,1459.4 1720.9,1443.4 1721.1,1462.9 1721.3,1443.4 1721.5,1443.4 1721.7,1456.2 1721.9,1450.5 1722.1,1437.5 1722.3,1450.5 1722.5,1439.3 1722.7,1459.4 1722.9,1450.5 1723.1,1439.3 1723.4,1456.2 1723.6,1459.4 1723.8,1453.2 1724.0,1445.6 1724.2,1453.2 1724.4,1439.3 1724.6,1462.9 1724.8,1456.2 1725.0,1441.3 1725.2,1439.3 1725.4,1459.4 1725.6,1439.3 1725.8,1443.4 1726.1,1448.0 1726.3,1456.2 1726.5,1432.3 1726.7,1435.7 1726.9,1456.2 1727.1,1439.3 1727.3,1450.5 1727.5,1459.4 1727.7,1445.6 1727.9,1443.4 1728.1,1443.4 1728.3,1443.4 1728.6,1453.2 1728.8,1456.2 1729.0,1448.0 1729.2,1443.4 1729.4,1453.2 1729.6,1462.9 1729.8,1475.9 1730.0,1445.6 1730.2,1459.4 1730.4,1448.0 1730.6,1437.5 1730.8,1441.3 1731.0,1453.2 1731.3,1450.5 1731.5,1450.5 1731.7,1453.2 1731.9,1448.0 1732.1,1448.0 1732.3,1448.0 1732.5,1441.3 1732.7,1430.8 1732.9,1448.0 1733.1,1453.2 1733.3,1445.6 1733.5,1445.6 1733.8,1450.5 1734.0,1456.2 1734.2,1445.6 1734.4,1450.5 1734.6,1441.3 1734.8,1450.5 1735.0,1453.2 1735.2,1453.2 1735.4,1443.4 1735.6,1450.5 1735.8,1453.2 1736.0,1462.9 1736.2,1445.6 1736.5,1459.4 1736.7,1466.7 1736.9,1432.3 1737.1,1448.0 1737.3,1445.6 1737.5,1456.2 1737.7,1448.0 1737.9,1466.7 1738.1,1439.3 1738.3,1459.4 1738.5,1459.4 1738.7,1459.4 1739.0,1456.2 1739.2,1445.6 1739.4,1437.5 1739.6,1448.0 1739.8,1459.4 1740.0,1437.5 1740.2,1439.3 1740.4,1456.2 1740.6,1445.6 1740.8,1439.3 1741.0,1437.5 1741.2,1441.3 1741.4,1441.3 1741.7,1448.0 1741.9,1434.0 1742.1,1450.5 1742.3,1434.0 1742.5,1453.2 1742.7,1453.2 1742.9,1441.3 1743.1,1459.4 1743.3,1462.9 1743.5,1443.4 1743.7,1453.2 1743.9,1443.4 1744.1,1445.6 1744.4,1448.0 1744.6,1437.5 1744.8,1441.3 1745.0,1443.4 1745.2,1437.5 1745.4,1481.6 1745.6,1462.9 1745.8,1453.2 1746.0,1439.3 1746.2,1450.5 1746.4,1448.0 1746.6,1437.5 1746.9,1441.3 1747.1,1456.2 1747.3,1448.0 1747.5,1434.0 1747.7,1432.3 1747.9,1437.5 1748.1,1437.5 1748.3,1453.2 1748.5,1445.6 1748.7,1445.6 1748.9,1462.9 1749.1,1459.4 1749.3,1432.3 1749.6,1462.9 1749.8,1459.4 1750.0,1466.7 1750.2,1448.0 1750.4,1448.0 1750.6,1445.6 1750.8,1462.9 1751.0,1456.2 1751.2,1459.4 1751.4,1441.3 1751.6,1443.4 1751.8,1439.3 1752.1,1437.5 1752.3,1453.2 1752.5,1445.6 1752.7,1441.3 1752.9,1441.3 1753.1,1462.9 1753.3,1459.4 1753.5,1459.4 1753.7,1456.2 1753.9,1441.3 1754.1,1450.5 1754.3,1459.4 1754.5,1459.4 1754.8,1471.0 1755.0,1453.2 1755.2,1462.9 1755.4,1439.3 1755.6,1448.0 1755.8,1443.4 1756.0,1466.7 1756.2,1445.6 1756.4,1462.9 1756.6,1459.4 1756.8,1445.6 1757.0,1462.9 1757.3,1445.6 1757.5,1445.6 1757.7,1441.3 1757.9,1453.2 1758.1,1450.5 1758.3,1450.5 1758.5,1443.4 1758.7,1459.4 1758.9,1448.0 1759.1,1462.9 1759.3,1448.0 1759.5,1450.5 1759.7,1443.4 1760.0,1448.0 1760.2,1437.5 1760.4,1450.5 1760.6,1439.3 1760.8,1441.3 1761.0,1443.4 1761.2,1459.4 1761.4,1462.9 1761.6,1453.2 1761.8,1453.2 1762.0,1459.4 1762.2,1448.0 1762.5,1456.2 1762.7,1459.4 1762.9,1456.2 1763.1,1453.2 1763.3,1459.4 1763.5,1445.6 1763.7,1443.4 1763.9,1459.4 1764.1,1453.2 1764.3,1456.2 1764.5,1453.2 1764.7,1459.4 1764.9,1441.3 1765.2,1441.3 1765.4,1448.0 1765.6,1456.2 1765.8,1439.3 1766.0,1441.3 1766.2,1448.0 1766.4,1459.4 1766.6,1445.6 1766.8,1462.9 1767.0,1450.5 1767.2,1462.9 1767.4,1443.4 1767.6,1439.3 1767.9,1450.5 1768.1,1456.2 1768.3,1450.5 1768.5,1466.7 1768.7,1459.4 1768.9,1448.0 1769.1,1450.5 1769.3,1456.2 1769.5,1466.7 1769.7,1448.0 1769.9,1453.2 1770.1,1448.0 1770.4,1439.3 1770.6,1443.4 1770.8,1443.4 1771.0,1448.0 1771.2,1439.3 1771.4,1439.3 1771.6,1450.5 1771.8,1439.3 1772.0,1453.2 1772.2,1448.0 1772.4,1471.0 1772.6,1462.9 1772.8,1456.2 1773.1,1459.4 1773.3,1456.2 1773.5,1450.5 1773.7,1448.0 1773.9,1466.7 1774.1,1445.6 1774.3,1437.5 1774.5,1445.6 1774.7,1437.5 1774.9,1443.4 1775.1,1466.7 1775.3,1453.2 1775.6,1445.6 1775.8,1445.6 1776.0,1450.5 1776.2,1445.6 1776.4,1450.5 1776.6,1437.5 1776.8,1448.0 1777.0,1434.0 1777.2,1445.6 1777.4,1453.2 1777.6,1437.5 1777.8,1443.4 1778.0,1453.2 1778.3,1459.4 1778.5,1441.3 1778.7,1456.2 1778.9,1445.6 1779.1,1443.4 1779.3,1443.4 1779.5,1462.9 1779.7,1466.7 1779.9,1453.2 1780.1,1448.0 1780.3,1435.7 1780.5,1443.4 1780.8,1439.3 1781.0,1443.4 1781.2,1450.5 1781.4,1450.5 1781.6,1462.9 1781.8,1453.2 1782.0,1443.4 1782.2,1450.5 1782.4,1448.0 1782.6,1453.2 1782.8,1459.4 1783.0,1443.4 1783.2,1462.9 1783.5,1448.0 1783.7,1448.0 1783.9,1456.2 1784.1,1445.6 1784.3,1441.3 1784.5,1453.2 1784.7,1459.4 1784.9,1445.6 1785.1,1462.9 1785.3,1475.9 1785.5,1450.5 1785.7,1448.0 1785.9,1443.4 1786.2,1448.0 1786.4,1459.4 1786.6,1459.4 1786.8,1434.0 1787.0,1441.3 1787.2,1443.4 1787.4,1445.6 1787.6,1456.2 1787.8,1466.7 1788.0,1445.6 1788.2,1459.4 1788.4,1462.9 1788.7,1445.6 1788.9,1456.2 1789.1,1456.2 1789.3,1456.2 1789.5,1439.3 1789.7,1450.5 1789.9,1453.2 1790.1,1441.3 1790.3,1453.2 1790.5,1443.4 1790.7,1445.6 1790.9,1453.2 1791.1,1450.5 1791.4,1445.6 1791.6,1453.2 1791.8,1450.5 1792.0,1439.3 1792.2,1456.2 1792.4,1456.2 1792.6,1459.4 1792.8,1459.4 1793.0,1456.2 1793.2,1450.5 1793.4,1448.0 1793.6,1453.2 1793.9,1434.0 1794.1,1459.4 1794.3,1445.6 1794.5,1459.4 1794.7,1448.0 1794.9,1459.4 1795.1,1430.8 1795.3,1448.0 1795.5,1456.2 1795.7,1448.0 1795.9,1450.5 1796.1,1441.3 1796.3,1462.9 1796.6,1453.2 1796.8,1456.2 1797.0,1448.0 1797.2,1441.3 1797.4,1462.9 1797.6,1432.3 1797.8,1459.4 1798.0,1448.0 1798.2,1456.2 1798.4,1434.0 1798.6,1462.9 1798.8,1445.6 1799.1,1471.0 1799.3,1437.5 1799.5,1456.2 1799.7,1432.3 1799.9,1439.3 1800.1,1453.2 1800.3,1459.4 1800.5,1443.4 1800.7,1445.6 1800.9,1456.2 1801.1,1439.3 1801.3,1459.4 1801.5,1448.0 1801.8,1459.4 1802.0,1450.5 1802.2,1445.6 1802.4,1450.5 1802.6,1448.0 1802.8,1462.9 1803.0,1441.3 1803.2,1453.2 1803.4,1448.0 1803.6,1462.9 1803.8,1459.4 1804.0,1434.0 1804.3,1434.0 1804.5,1448.0 1804.7,1453.2 1804.9,1450.5 1805.1,1441.3 1805.3,1462.9 1805.5,1459.4 1805.7,1459.4 1805.9,1439.3 1806.1,1443.4 1806.3,1462.9 1806.5,1450.5 1806.7,1450.5 1807.0,1453.2 1807.2,1430.8 1807.4,1435.7 1807.6,1459.4 1807.8,1439.3 1808.0,1441.3 1808.2,1441.3 1808.4,1439.3 1808.6,1456.2 1808.8,1456.2 1809.0,1448.0 1809.2,1459.4 1809.4,1439.3 1809.7,1466.7 1809.9,1453.2 1810.1,1445.6 1810.3,1435.7 1810.5,1448.0 1810.7,1462.9 1810.9,1456.2 1811.1,1453.2 1811.3,1466.7 1811.5,1462.9 1811.7,1466.7 1811.9,1445.6 1812.2,1441.3 1812.4,1456.2 1812.6,1466.7 1812.8,1462.9 1813.0,1448.0 1813.2,1453.2 1813.4,1453.2 1813.6,1453.2 1813.8,1456.2 1814.0,1466.7 1814.2,1448.0 1814.4,1453.2 1814.6,1453.2 1814.9,1459.4 1815.1,1450.5 1815.3,1453.2 1815.5,1456.2 1815.7,1450.5 1815.9,1466.7 1816.1,1448.0 1816.3,1450.5 1816.5,1459.4 1816.7,1439.3 1816.9,1435.7 1817.1,1450.5 1817.4,1445.6 1817.6,1445.6 1817.8,1453.2 1818.0,1466.7 1818.2,1448.0 1818.4,1439.3 1818.6,1445.6 1818.8,1445.6 1819.0,1448.0 1819.2,1432.3 1819.4,1462.9 1819.6,1456.2 1819.8,1443.4 1820.1,1439.3 1820.3,1453.2 1820.5,1441.3 1820.7,1435.7 1820.9,1445.6 1821.1,1453.2 1821.3,1450.5 1821.5,1450.5 1821.7,1450.5 1821.9,1466.7 1822.1,1450.5 1822.3,1462.9 1822.6,1439.3 1822.8,1453.2 1823.0,1466.7 1823.2,1459.4 1823.4,1450.5 1823.6,1439.3 1823.8,1459.4 1824.0,1466.7 1824.2,1437.5 1824.4,1445.6 1824.6,1439.3 1824.8,1462.9 1825.0,1450.5 1825.3,1443.4 1825.5,1450.5 1825.7,1450.5 1825.9,1448.0 1826.1,1459.4 1826.3,1462.9 1826.5,1466.7 1826.7,1453.2 1826.9,1445.6 1827.1,1445.6 1827.3,1443.4 1827.5,1437.5 1827.7,1443.4 1828.0,1448.0 1828.2,1453.2 1828.4,1459.4 1828.6,1466.7 1828.8,1466.7 1829.0,1466.7 1829.2,1459.4 1829.4,1459.4 1829.6,1459.4 1829.8,1441.3 1830.0,1459.4 1830.2,1450.5 1830.5,1443.4 1830.7,1441.3 1830.9,1456.2 1831.1,1448.0 1831.3,1443.4 1831.5,1453.2 1831.7,1462.9 1831.9,1448.0 1832.1,1448.0 1832.3,1456.2 1832.5,1462.9 1832.7,1466.7 1832.9,1466.7 1833.2,1456.2 1833.4,1462.9 1833.6,1459.4 1833.8,1453.2 1834.0,1462.9 1834.2,1459.4 1834.4,1453.2 1834.6,1450.5 1834.8,1462.9 1835.0,1466.7 1835.2,1434.0 1835.4,1448.0 1835.7,1445.6 1835.9,1459.4 1836.1,1435.7 1836.3,1450.5 1836.5,1445.6 1836.7,1453.2 1836.9,1439.3 1837.1,1448.0 1837.3,1466.7 1837.5,1459.4 1837.7,1448.0 1837.9,1443.4 1838.1,1441.3 1838.4,1445.6 1838.6,1453.2 1838.8,1441.3 1839.0,1441.3 1839.2,1456.2 1839.4,1448.0 1839.6,1448.0 1839.8,1456.2 1840.0,1443.4 1840.2,1445.6 1840.4,1448.0 1840.6,1448.0 1840.9,1439.3 1841.1,1439.3 1841.3,1453.2 1841.5,1445.6 1841.7,1459.4 1841.9,1445.6 1842.1,1441.3 1842.3,1453.2 1842.5,1462.9 1842.7,1456.2 1842.9,1456.2 1843.1,1450.5 1843.3,1439.3 1843.6,1445.6 1843.8,1439.3 1844.0,1456.2 1844.2,1459.4 1844.4,1456.2 1844.6,1439.3 1844.8,1456.2 1845.0,1459.4 1845.2,1435.7 1845.4,1432.3 1845.6,1450.5 1845.8,1462.9 1846.1,1450.5 1846.3,1443.4 1846.5,1445.6 1846.7,1448.0 1846.9,1430.8 1847.1,1459.4 1847.3,1456.2 1847.5,1448.0 1847.7,1445.6 1847.9,1462.9 1848.1,1456.2 1848.3,1445.6 1848.5,1462.9 1848.8,1471.0 1849.0,1437.5 1849.2,1445.6 1849.4,1439.3 1849.6,1441.3 1849.8,1450.5 1850.0,1437.5 1850.2,1453.2 1850.4,1453.2 1850.6,1437.5 1850.8,1445.6 1851.0,1448.0 1851.2,1445.6 1851.5,1453.2 1851.7,1459.4 1851.9,1448.0 1852.1,1445.6 1852.3,1450.5 1852.5,1462.9 1852.7,1456.2 1852.9,1450.5 1853.1,1441.3 1853.3,1450.5 1853.5,1443.4 1853.7,1445.6 1854.0,1448.0 1854.2,1466.7 1854.4,1441.3 1854.6,1453.2 1854.8,1453.2 1855.0,1445.6 1855.2,1443.4 1855.4,1456.2 1855.6,1445.6 1855.8,1441.3 1856.0,1448.0 1856.2,1441.3 1856.4,1445.6 1856.7,1450.5 1856.9,1434.0 1857.1,1456.2 1857.3,1443.4 1857.5,1462.9 1857.7,1459.4 1857.9,1453.2 1858.1,1450.5 1858.3,1453.2 1858.5,1466.7 1858.7,1453.2 1858.9,1443.4 1859.2,1448.0 1859.4,1456.2 1859.6,1450.5 1859.8,1466.7 1860.0,1462.9 1860.2,1448.0 1860.4,1443.4 1860.6,1437.5 1860.8,1462.9 1861.0,1441.3 1861.2,1453.2 1861.4,1445.6 1861.6,1439.3 1861.9,1441.3 1862.1,1456.2 1862.3,1456.2 1862.5,1466.7 1862.7,1441.3 1862.9,1448.0 1863.1,1459.4 1863.3,1456.2 1863.5,1448.0 1863.7,1445.6 1863.9,1462.9 1864.1,1456.2 1864.4,1456.2 1864.6,1441.3 1864.8,1445.6 1865.0,1448.0 1865.2,1441.3 1865.4,1453.2 1865.6,1466.7 1865.8,1445.6 1866.0,1445.6 1866.2,1448.0 1866.4,1445.6 1866.6,1459.4 1866.8,1462.9 1867.1,1459.4 1867.3,1459.4 1867.5,1456.2 1867.7,1456.2 1867.9,1445.6 1868.1,1453.2 1868.3,1445.6 1868.5,1441.3 1868.7,1453.2 1868.9,1456.2 1869.1,1443.4 1869.3,1445.6 1869.5,1459.4 1869.8,1448.0 1870.0,1466.7 1870.2,1466.7 1870.4,1456.2 1870.6,1448.0 1870.8,1448.0 1871.0,1453.2 1871.2,1434.0 1871.4,1450.5 1871.6,1456.2 1871.8,1445.6 1872.0,1445.6 1872.3,1456.2 1872.5,1456.2 1872.7,1450.5 1872.9,1462.9 1873.1,1445.6 1873.3,1453.2 1873.5,1456.2 1873.7,1435.7 1873.9,1441.3 1874.1,1456.2 1874.3,1456.2 1874.5,1456.2 1874.7,1456.2 1875.0,1450.5 1875.2,1443.4 1875.4,1448.0 1875.6,1456.2 1875.8,1459.4 1876.0,1462.9 1876.2,1445.6 1876.4,1459.4 1876.6,1443.4 1876.8,1445.6 1877.0,1437.5 1877.2,1445.6 1877.5,1450.5 1877.7,1459.4 1877.9,1448.0 1878.1,1453.2 1878.3,1453.2 1878.5,1450.5 1878.7,1462.9 1878.9,1453.2 1879.1,1459.4 1879.3,1448.0 1879.5,1448.0 1879.7,1466.7 1879.9,1450.5 1880.2,1453.2 1880.4,1456.2 1880.6,1434.0 1880.8,1462.9 1881.0,1450.5 1881.2,1445.6 1881.4,1448.0 1881.6,1445.6 1881.8,1466.7 1882.0,1429.3 1882.2,1459.4 1882.4,1459.4 1882.7,1459.4 1882.9,1459.4 1883.1,1450.5 1883.3,1443.4 1883.5,1448.0 1883.7,1450.5 1883.9,1459.4 1884.1,1437.5 1884.3,1443.4 1884.5,1448.0 1884.7,1459.4 1884.9,1450.5 1885.1,1488.2 1885.4,1445.6 1885.6,1466.7 1885.8,1453.2 1886.0,1450.5 1886.2,1462.9 1886.4,1441.3 1886.6,1450.5 1886.8,1445.6 1887.0,1450.5 1887.2,1466.7 1887.4,1496.4 1887.6,1441.3 1887.9,1448.0 1888.1,1453.2 1888.3,1462.9 1888.5,1443.4 1888.7,1437.5 1888.9,1466.7 1889.1,1456.2 1889.3,1453.2 1889.5,1456.2 1889.7,1453.2 1889.9,1450.5 1890.1,1450.5 1890.3,1439.3 1890.6,1462.9 1890.8,1462.9 1891.0,1475.9 1891.2,1450.5 1891.4,1448.0 1891.6,1445.6 1891.8,1441.3 1892.0,1466.7 1892.2,1448.0 1892.4,1441.3 1892.6,1427.8 1892.8,1448.0 1893.0,1450.5 1893.3,1432.3 1893.5,1459.4 1893.7,1462.9 1893.9,1439.3 1894.1,1441.3 1894.3,1450.5 1894.5,1453.2 1894.7,1443.4 1894.9,1439.3 1895.1,1441.3 1895.3,1450.5 1895.5,1445.6 1895.8,1466.7 1896.0,1445.6 1896.2,1462.9 1896.4,1456.2 1896.6,1445.6 1896.8,1462.9 1897.0,1466.7 1897.2,1453.2 1897.4,1450.5 1897.6,1462.9 1897.8,1445.6 1898.0,1466.7 1898.2,1439.3 1898.5,1448.0 1898.7,1456.2 1898.9,1453.2 1899.1,1435.7 1899.3,1443.4 1899.5,1441.3 1899.7,1456.2 1899.9,1439.3 1900.1,1456.2 1900.3,1462.9 1900.5,1437.5 1900.7,1456.2 1901.0,1462.9 1901.2,1434.0 1901.4,1443.4 1901.6,1453.2 1901.8,1437.5 1902.0,1445.6 1902.2,1445.6 1902.4,1450.5 1902.6,1450.5 1902.8,1453.2 1903.0,1456.2 1903.2,1456.2 1903.4,1453.2 1903.7,1459.4 1903.9,1439.3 1904.1,1453.2 1904.3,1443.4 1904.5,1466.7 1904.7,1475.9 1904.9,1448.0 1905.1,1448.0 1905.3,1466.7 1905.5,1445.6 1905.7,1441.3 1905.9,1466.7 1906.2,1459.4 1906.4,1445.6 1906.6,1459.4 1906.8,1443.4 1907.0,1445.6 1907.2,1448.0 1907.4,1441.3 1907.6,1459.4 1907.8,1443.4 1908.0,1456.2 1908.2,1437.5 1908.4,1459.4 1908.6,1450.5 1908.9,1450.5 1909.1,1450.5 1909.3,1466.7 1909.5,1443.4 1909.7,1450.5 1909.9,1450.5 1910.1,1448.0 1910.3,1450.5 1910.5,1462.9 1910.7,1466.7 1910.9,1459.4 1911.1,1448.0 1911.3,1459.4 1911.6,1462.9 1911.8,1445.6 1912.0,1437.5 1912.2,1456.2 1912.4,1441.3 1912.6,1443.4 1912.8,1445.6 1913.0,1456.2 1913.2,1456.2 1913.4,1445.6 1913.6,1462.9 1913.8,1450.5 1914.1,1453.2 1914.3,1466.7 1914.5,1450.5 1914.7,1445.6 1914.9,1445.6 1915.1,1453.2 1915.3,1453.2 1915.5,1462.9 1915.7,1456.2 1915.9,1462.9 1916.1,1459.4 1916.3,1434.0 1916.5,1459.4 1916.8,1466.7 1917.0,1450.5 1917.2,1453.2 1917.4,1443.4 1917.6,1445.6 1917.8,1466.7 1918.0,1443.4 1918.2,1456.2 1918.4,1462.9 1918.6,1450.5 1918.8,1456.2 1919.0,1456.2 1919.3,1456.2 1919.5,1450.5 1919.7,1453.2 1919.9,1456.2 1920.1,1462.9 1920.3,1432.3 1920.5,1443.4 1920.7,1450.5 1920.9,1450.5 1921.1,1448.0 1921.3,1459.4 1921.5,1462.9 1921.7,1459.4 1922.0,1435.7 1922.2,1441.3 1922.4,1445.6 1922.6,1466.7 1922.8,1450.5 1923.0,1453.2 1923.2,1456.2 1923.4,1445.6 1923.6,1459.4 1923.8,1439.3 1924.0,1441.3 1924.2,1445.6 1924.5,1462.9 1924.7,1466.7 1924.9,1466.7 1925.1,1462.9 1925.3,1462.9 1925.5,1434.0 1925.7,1439.3 1925.9,1448.0 1926.1,1459.4 1926.3,1456.2 1926.5,1441.3 1926.7,1450.5 1926.9,1450.5 1927.2,1441.3 1927.4,1439.3 1927.6,1453.2 1927.8,1445.6 1928.0,1496.4 1928.2,1448.0 1928.4,1459.4 1928.6,1448.0 1928.8,1462.9 1929.0,1443.4 1929.2,1462.9 1929.4,1466.7 1929.7,1450.5 1929.9,1445.6 1930.1,1453.2 1930.3,1437.5 1930.5,1450.5 1930.7,1445.6 1930.9,1448.0 1931.1,1462.9 1931.3,1456.2 1931.5,1466.7 1931.7,1459.4 1931.9,1471.0 1932.1,1456.2 1932.4,1456.2 1932.6,1448.0 1932.8,1462.9 1933.0,1466.7 1933.2,1459.4 1933.4,1445.6 1933.6,1439.3 1933.8,1450.5 1934.0,1450.5 1934.2,1459.4 1934.4,1439.3 1934.6,1448.0 1934.8,1448.0 1935.1,1448.0 1935.3,1462.9 1935.5,1450.5 1935.7,1456.2 1935.9,1462.9 1936.1,1448.0 1936.3,1453.2 1936.5,1462.9 1936.7,1453.2 1936.9,1462.9 1937.1,1462.9 1937.3,1439.3 1937.6,1445.6 1937.8,1441.3 1938.0,1450.5 1938.2,1450.5 1938.4,1456.2 1938.6,1453.2 1938.8,1462.9 1939.0,1459.4 1939.2,1453.2 1939.4,1450.5 1939.6,1462.9 1939.8,1448.0 1940.0,1450.5 1940.3,1441.3 1940.5,1445.6 1940.7,1448.0 1940.9,1466.7 1941.1,1450.5 1941.3,1459.4 1941.5,1459.4 1941.7,1462.9 1941.9,1453.2 1942.1,1453.2 1942.3,1462.9 1942.5,1453.2 1942.8,1445.6 1943.0,1462.9 1943.2,1453.2 1943.4,1459.4 1943.6,1456.2 1943.8,1448.0 1944.0,1439.3 1944.2,1471.0 1944.4,1459.4 1944.6,1456.2 1944.8,1456.2 1945.0,1445.6 1945.2,1459.4 1945.5,1450.5 1945.7,1459.4 1945.9,1453.2 1946.1,1445.6 1946.3,1462.9 1946.5,1456.2 1946.7,1462.9 1946.9,1439.3 1947.1,1453.2 1947.3,1456.2 1947.5,1448.0 1947.7,1434.0 1948.0,1459.4 1948.2,1459.4 1948.4,1462.9 1948.6,1439.3 1948.8,1445.6 1949.0,1441.3 1949.2,1445.6 1949.4,1453.2 1949.6,1448.0 1949.8,1453.2 1950.0,1443.4 1950.2,1445.6 1950.4,1456.2 1950.7,1456.2 1950.9,1453.2 1951.1,1445.6 1951.3,1459.4 1951.5,1456.2 1951.7,1450.5 1951.9,1456.2 1952.1,1456.2 1952.3,1437.5 1952.5,1456.2 1952.7,1462.9 1952.9,1450.5 1953.1,1453.2 1953.4,1462.9 1953.6,1456.2 1953.8,1453.2 1954.0,1459.4 1954.2,1456.2 1954.4,1462.9 1954.6,1445.6 1954.8,1459.4 1955.0,1459.4 1955.2,1453.2 1955.4,1456.2 1955.6,1439.3 1955.9,1443.4 1956.1,1448.0 1956.3,1453.2 1956.5,1435.7 1956.7,1453.2 1956.9,1462.9 1957.1,1437.5 1957.3,1462.9 1957.5,1453.2 1957.7,1448.0 1957.9,1453.2 1958.1,1456.2 1958.3,1456.2 1958.6,1466.7 1958.8,1459.4 1959.0,1450.5 1959.2,1443.4 1959.4,1453.2 1959.6,1445.6 1959.8,1453.2 1960.0,1441.3 1960.2,1466.7 1960.4,1466.7 1960.6,1445.6 1960.8,1456.2 1961.1,1450.5 1961.3,1448.0 1961.5,1462.9 1961.7,1443.4 1961.9,1443.4 1962.1,1466.7 1962.3,1459.4" fill="none" stroke="#1e9bf0" stroke-width="1.3" stroke-linejoin="round" marker-start="url(#mb)" marker-mid="url(#mb)" marker-end="url(#mb)"/><polyline points="1442.4,1443.4 1442.6,1445.6 1442.8,1450.5 1443.0,1448.0 1443.2,1448.0 1443.4,1441.3 1443.6,1450.5 1443.9,1459.4 1444.1,1456.2 1444.3,1450.5 1444.5,1456.2 1444.7,1450.5 1444.9,1459.4 1445.1,1432.3 1445.3,1453.2 1445.5,1435.7 1445.7,1450.5 1445.9,1443.4 1446.1,1466.7 1446.4,1453.2 1446.6,1445.6 1446.8,1462.9 1447.0,1462.9 1447.2,1453.2 1447.4,1443.4 1447.6,1456.2 1447.8,1450.5 1448.0,1456.2 1448.2,1435.7 1448.4,1445.6 1448.6,1443.4 1448.8,1441.3 1449.1,1445.6 1449.3,1453.2 1449.5,1459.4 1449.7,1466.7 1449.9,1453.2 1450.1,1443.4 1450.3,1450.5 1450.5,1443.4 1450.7,1439.3 1450.9,1445.6 1451.1,1441.3 1451.3,1441.3 1451.6,1441.3 1451.8,1443.4 1452.0,1462.9 1452.2,1429.3 1452.4,1448.0 1452.6,1435.7 1452.8,1450.5 1453.0,1453.2 1453.2,1462.9 1453.4,1435.7 1453.6,1448.0 1453.8,1443.4 1454.0,1445.6 1454.3,1443.4 1454.5,1450.5 1454.7,1453.2 1454.9,1435.7 1455.1,1437.5 1455.3,1439.3 1455.5,1439.3 1455.7,1462.9 1455.9,1456.2 1456.1,1445.6 1456.3,1448.0 1456.5,1450.5 1456.7,1459.4 1457.0,1459.4 1457.2,1448.0 1457.4,1450.5 1457.6,1450.5 1457.8,1434.0 1458.0,1445.6 1458.2,1450.5 1458.4,1450.5 1458.6,1456.2 1458.8,1443.4 1459.0,1466.7 1459.2,1456.2 1459.5,1441.3 1459.7,1462.9 1459.9,1445.6 1460.1,1435.7 1460.3,1441.3 1460.5,1448.0 1460.7,1434.0 1460.9,1445.6 1461.1,1450.5 1461.3,1453.2 1461.5,1450.5 1461.7,1466.7 1461.9,1456.2 1462.2,1450.5 1462.4,1443.4 1462.6,1456.2 1462.8,1445.6 1463.0,1450.5 1463.2,1450.5 1463.4,1427.8 1463.6,1450.5 1463.8,1445.6 1464.0,1445.6 1464.2,1448.0 1464.4,1443.4 1464.7,1437.5 1464.9,1439.3 1465.1,1448.0 1465.3,1453.2 1465.5,1450.5 1465.7,1459.4 1465.9,1453.2 1466.1,1462.9 1466.3,1437.5 1466.5,1445.6 1466.7,1439.3 1466.9,1445.6 1467.1,1443.4 1467.4,1439.3 1467.6,1450.5 1467.8,1450.5 1468.0,1450.5 1468.2,1443.4 1468.4,1434.0 1468.6,1445.6 1468.8,1466.7 1469.0,1456.2 1469.2,1450.5 1469.4,1443.4 1469.6,1450.5 1469.9,1435.7 1470.1,1453.2 1470.3,1456.2 1470.5,1453.2 1470.7,1437.5 1470.9,1450.5 1471.1,1459.4 1471.3,1453.2 1471.5,1462.9 1471.7,1459.4 1471.9,1450.5 1472.1,1453.2 1472.3,1462.9 1472.6,1450.5 1472.8,1459.4 1473.0,1459.4 1473.2,1439.3 1473.4,1453.2 1473.6,1459.4 1473.8,1459.4 1474.0,1462.9 1474.2,1453.2 1474.4,1439.3 1474.6,1439.3 1474.8,1439.3 1475.0,1443.4 1475.3,1445.6 1475.5,1448.0 1475.7,1429.3 1475.9,1441.3 1476.1,1462.9 1476.3,1450.5 1476.5,1445.6 1476.7,1450.5 1476.9,1437.5 1477.1,1434.0 1477.3,1459.4 1477.5,1462.9 1477.8,1453.2 1478.0,1445.6 1478.2,1459.4 1478.4,1441.3 1478.6,1445.6 1478.8,1450.5 1479.0,1439.3 1479.2,1434.0 1479.4,1448.0 1479.6,1450.5 1479.8,1459.4 1480.0,1456.2 1480.2,1448.0 1480.5,1443.4 1480.7,1445.6 1480.9,1448.0 1481.1,1448.0 1481.3,1456.2 1481.5,1453.2 1481.7,1430.8 1481.9,1445.6 1482.1,1439.3 1482.3,1450.5 1482.5,1459.4 1482.7,1459.4 1483.0,1443.4 1483.2,1445.6 1483.4,1450.5 1483.6,1450.5 1483.8,1448.0 1484.0,1441.3 1484.2,1448.0 1484.4,1448.0 1484.6,1443.4 1484.8,1441.3 1485.0,1466.7 1485.2,1448.0 1485.4,1450.5 1485.7,1443.4 1485.9,1443.4 1486.1,1430.8 1486.3,1448.0 1486.5,1450.5 1486.7,1437.5 1486.9,1453.2 1487.1,1429.3 1487.3,1453.2 1487.5,1443.4 1487.7,1448.0 1487.9,1443.4 1488.2,1475.9 1488.4,1432.3 1488.6,1441.3 1488.8,1443.4 1489.0,1437.5 1489.2,1443.4 1489.4,1430.8 1489.6,1456.2 1489.8,1445.6 1490.0,1453.2 1490.2,1445.6 1490.4,1456.2 1490.6,1445.6 1490.9,1434.0 1491.1,1462.9 1491.3,1453.2 1491.5,1453.2 1491.7,1443.4 1491.9,1441.3 1492.1,1443.4 1492.3,1459.4 1492.5,1453.2 1492.7,1456.2 1492.9,1432.3 1493.1,1429.3 1493.4,1448.0 1493.6,1453.2 1493.8,1456.2 1494.0,1445.6 1494.2,1445.6 1494.4,1462.9 1494.6,1462.9 1494.8,1462.9 1495.0,1456.2 1495.2,1448.0 1495.4,1441.3 1495.6,1435.7 1495.8,1435.7 1496.1,1456.2 1496.3,1453.2 1496.5,1466.7 1496.7,1459.4 1496.9,1448.0 1497.1,1448.0 1497.3,1439.3 1497.5,1456.2 1497.7,1443.4 1497.9,1445.6 1498.1,1441.3 1498.3,1439.3 1498.5,1432.3 1498.8,1443.4 1499.0,1462.9 1499.2,1443.4 1499.4,1453.2 1499.6,1448.0 1499.8,1443.4 1500.0,1456.2 1500.2,1456.2 1500.4,1445.6 1500.6,1450.5 1500.8,1450.5 1501.0,1443.4 1501.3,1439.3 1501.5,1456.2 1501.7,1439.3 1501.9,1448.0 1502.1,1435.7 1502.3,1435.7 1502.5,1441.3 1502.7,1435.7 1502.9,1441.3 1503.1,1453.2 1503.3,1459.4 1503.5,1445.6 1503.7,1432.3 1504.0,1453.2 1504.2,1453.2 1504.4,1459.4 1504.6,1462.9 1504.8,1448.0 1505.0,1443.4 1505.2,1450.5 1505.4,1448.0 1505.6,1445.6 1505.8,1466.7 1506.0,1459.4 1506.2,1445.6 1506.5,1448.0 1506.7,1456.2 1506.9,1435.7 1507.1,1453.2 1507.3,1443.4 1507.5,1453.2 1507.7,1443.4 1507.9,1448.0 1508.1,1430.8 1508.3,1432.3 1508.5,1439.3 1508.7,1432.3 1508.9,1435.7 1509.2,1432.3 1509.4,1432.3 1509.6,1448.0 1509.8,1437.5 1510.0,1453.2 1510.2,1435.7 1510.4,1437.5 1510.6,1441.3 1510.8,1453.2 1511.0,1441.3 1511.2,1443.4 1511.4,1434.0 1511.7,1430.8 1511.9,1453.2 1512.1,1441.3 1512.3,1441.3 1512.5,1448.0 1512.7,1437.5 1512.9,1441.3 1513.1,1445.6 1513.3,1439.3 1513.5,1429.3 1513.7,1437.5 1513.9,1435.7 1514.1,1441.3 1514.4,1445.6 1514.6,1430.8 1514.8,1439.3 1515.0,1450.5 1515.2,1450.5 1515.4,1441.3 1515.6,1439.3 1515.8,1437.5 1516.0,1441.3 1516.2,1432.3 1516.4,1448.0 1516.6,1439.3 1516.8,1435.7 1517.1,1439.3 1517.3,1439.3 1517.5,1426.5 1517.7,1441.3 1517.9,1432.3 1518.1,1445.6 1518.3,1445.6 1518.5,1439.3 1518.7,1435.7 1518.9,1441.3 1519.1,1437.5 1519.3,1434.0 1519.6,1453.2 1519.8,1441.3 1520.0,1437.5 1520.2,1453.2 1520.4,1448.0 1520.6,1453.2 1520.8,1443.4 1521.0,1439.3 1521.2,1422.6 1521.4,1432.3 1521.6,1434.0 1521.8,1443.4 1522.0,1445.6 1522.3,1435.7 1522.5,1439.3 1522.7,1425.1 1522.9,1443.4 1523.1,1437.5 1523.3,1439.3 1523.5,1435.7 1523.7,1439.3 1523.9,1439.3 1524.1,1445.6 1524.3,1429.3 1524.5,1441.3 1524.8,1434.0 1525.0,1430.8 1525.2,1432.3 1525.4,1441.3 1525.6,1421.4 1525.8,1445.6 1526.0,1430.8 1526.2,1439.3 1526.4,1434.0 1526.6,1439.3 1526.8,1434.0 1527.0,1434.0 1527.2,1432.3 1527.5,1441.3 1527.7,1435.7 1527.9,1441.3 1528.1,1435.7 1528.3,1427.8 1528.5,1437.5 1528.7,1439.3 1528.9,1448.0 1529.1,1441.3 1529.3,1445.6 1529.5,1450.5 1529.7,1432.3 1530.0,1448.0 1530.2,1432.3 1530.4,1448.0 1530.6,1430.8 1530.8,1425.1 1531.0,1445.6 1531.2,1427.8 1531.4,1434.0 1531.6,1443.4 1531.8,1443.4 1532.0,1434.0 1532.2,1439.3 1532.4,1450.5 1532.7,1426.5 1532.9,1437.5 1533.1,1441.3 1533.3,1441.3 1533.5,1432.3 1533.7,1421.4 1533.9,1439.3 1534.1,1423.8 1534.3,1434.0 1534.5,1432.3 1534.7,1422.6 1534.9,1435.7 1535.2,1435.7 1535.4,1434.0 1535.6,1425.1 1535.8,1429.3 1536.0,1448.0 1536.2,1439.3 1536.4,1445.6 1536.6,1419.1 1536.8,1425.1 1537.0,1427.8 1537.2,1430.8 1537.4,1430.8 1537.6,1427.8 1537.9,1419.1 1538.1,1415.9 1538.3,1418.0 1538.5,1412.1 1538.7,1418.0 1538.9,1417.0 1539.1,1426.5 1539.3,1399.1 1539.5,1401.1 1539.7,1402.5 1539.9,1396.0 1540.1,1401.1 1540.3,1391.6 1540.6,1388.6 1540.8,1386.2 1541.0,1380.8 1541.2,1379.2 1541.4,1374.7 1541.6,1370.0 1541.8,1370.0 1542.0,1360.4 1542.2,1355.8 1542.4,1346.3 1542.6,1342.1 1542.8,1333.5 1543.1,1326.6 1543.3,1324.1 1543.5,1316.9 1543.7,1312.0 1543.9,1303.8 1544.1,1299.2 1544.3,1294.7 1544.5,1288.9 1544.7,1286.0 1544.9,1281.7 1545.1,1277.0 1545.3,1273.3 1545.5,1270.7 1545.8,1264.5 1546.0,1265.5 1546.2,1260.8 1546.4,1256.4 1546.6,1254.1 1546.8,1249.7 1547.0,1247.6 1547.2,1245.4 1547.4,1241.4 1547.6,1239.5 1547.8,1236.1 1548.0,1233.7 1548.3,1231.2 1548.5,1229.1 1548.7,1225.9 1548.9,1223.3 1549.1,1220.5 1549.3,1218.3 1549.5,1215.8 1549.7,1213.4 1549.9,1211.3 1550.1,1207.6 1550.3,1205.4 1550.5,1202.5 1550.7,1199.9 1551.0,1197.6 1551.2,1194.8 1551.4,1192.1 1551.6,1190.4 1551.8,1188.1 1552.0,1187.6 1552.2,1185.5 1552.4,1184.8 1552.6,1183.9 1552.8,1183.1 1553.0,1181.9 1553.2,1181.6 1553.5,1181.7 1553.7,1181.4 1553.9,1181.7 1554.1,1182.8 1554.3,1183.4 1554.5,1184.5 1554.7,1185.9 1554.9,1187.1 1555.1,1188.6 1555.3,1190.2 1555.5,1192.3 1555.7,1195.7 1555.9,1198.7 1556.2,1201.8 1556.4,1204.6 1556.6,1207.6 1556.8,1209.0 1557.0,1211.2 1557.2,1212.9 1557.4,1214.8 1557.6,1215.1 1557.8,1217.5 1558.0,1218.4 1558.2,1221.3 1558.4,1220.8 1558.6,1223.0 1558.9,1223.5 1559.1,1225.1 1559.3,1226.1 1559.5,1227.0 1559.7,1227.9 1559.9,1229.7 1560.1,1231.3 1560.3,1231.8 1560.5,1232.5 1560.7,1233.8 1560.9,1234.7 1561.1,1235.8 1561.4,1237.1 1561.6,1237.1 1561.8,1237.9 1562.0,1239.6 1562.2,1240.6 1562.4,1242.2 1562.6,1241.4 1562.8,1243.0 1563.0,1243.9 1563.2,1245.1 1563.4,1246.7 1563.6,1245.9 1563.8,1246.8 1564.1,1247.8 1564.3,1249.6 1564.5,1251.2 1564.7,1250.8 1564.9,1253.1 1565.1,1253.6 1565.3,1254.5 1565.5,1256.5 1565.7,1257.8 1565.9,1258.1 1566.1,1258.2 1566.3,1259.8 1566.6,1261.0 1566.8,1262.2 1567.0,1263.8 1567.2,1265.1 1567.4,1266.1 1567.6,1266.2 1567.8,1268.5 1568.0,1268.4 1568.2,1269.4 1568.4,1271.6 1568.6,1271.8 1568.8,1273.4 1569.0,1274.3 1569.3,1273.9 1569.5,1278.4 1569.7,1276.2 1569.9,1278.8 1570.1,1279.2 1570.3,1279.5 1570.5,1282.2 1570.7,1283.6 1570.9,1283.3 1571.1,1284.4 1571.3,1285.3 1571.5,1286.6 1571.8,1287.7 1572.0,1288.9 1572.2,1288.5 1572.4,1291.8 1572.6,1291.2 1572.8,1291.9 1573.0,1294.2 1573.2,1293.9 1573.4,1293.2 1573.6,1298.6 1573.8,1299.7 1574.0,1300.1 1574.2,1300.7 1574.5,1304.6 1574.7,1302.3 1574.9,1302.8 1575.1,1303.0 1575.3,1304.3 1575.5,1306.7 1575.7,1310.6 1575.9,1306.5 1576.1,1309.8 1576.3,1310.7 1576.5,1313.2 1576.7,1316.8 1577.0,1316.8 1577.2,1319.1 1577.4,1317.8 1577.6,1318.8 1577.8,1319.0 1578.0,1321.7 1578.2,1319.8 1578.4,1322.6 1578.6,1321.9 1578.8,1323.2 1579.0,1325.6 1579.2,1330.3 1579.4,1324.9 1579.7,1331.0 1579.9,1333.2 1580.1,1332.9 1580.3,1329.2 1580.5,1334.7 1580.7,1336.7 1580.9,1337.2 1581.1,1338.6 1581.3,1336.1 1581.5,1338.7 1581.7,1340.7 1581.9,1346.3 1582.1,1339.9 1582.4,1343.8 1582.6,1343.6 1582.8,1345.7 1583.0,1348.8 1583.2,1348.3 1583.4,1346.7 1583.6,1352.4 1583.8,1349.6 1584.0,1349.8 1584.2,1357.4 1584.4,1355.0 1584.6,1354.8 1584.9,1359.1 1585.1,1353.3 1585.3,1352.7 1585.5,1359.5 1585.7,1358.2 1585.9,1362.0 1586.1,1361.7 1586.3,1358.8 1586.5,1362.9 1586.7,1366.7 1586.9,1367.0 1587.1,1364.1 1587.3,1365.9 1587.6,1369.2 1587.8,1368.9 1588.0,1365.7 1588.2,1375.0 1588.4,1370.6 1588.6,1376.0 1588.8,1372.7 1589.0,1381.2 1589.2,1372.7 1589.4,1377.8 1589.6,1375.3 1589.8,1377.1 1590.1,1386.2 1590.3,1384.9 1590.5,1379.2 1590.7,1379.2 1590.9,1387.6 1591.1,1388.6 1591.3,1384.0 1591.5,1389.0 1591.7,1388.6 1591.9,1393.7 1592.1,1389.0 1592.3,1388.6 1592.5,1396.0 1592.8,1391.0 1593.0,1393.2 1593.2,1394.3 1593.4,1396.0 1593.6,1394.8 1593.8,1392.1 1594.0,1390.0 1594.2,1397.8 1594.4,1401.1 1594.6,1402.5 1594.8,1391.0 1595.0,1403.9 1595.3,1396.6 1595.5,1403.9 1595.7,1401.8 1595.9,1393.7 1596.1,1396.6 1596.3,1406.9 1596.5,1409.4 1596.7,1403.2 1596.9,1396.6 1597.1,1419.1 1597.3,1406.9 1597.5,1405.4 1597.7,1409.4 1598.0,1413.0 1598.2,1411.2 1598.4,1408.6 1598.6,1412.1 1598.8,1420.2 1599.0,1423.8 1599.2,1415.9 1599.4,1406.9 1599.6,1425.1 1599.8,1414.9 1600.0,1422.6 1600.2,1411.2 1600.4,1430.8 1600.7,1417.0 1600.9,1421.4 1601.1,1417.0 1601.3,1418.0 1601.5,1410.3 1601.7,1425.1 1601.9,1425.1 1602.1,1423.8 1602.3,1427.8 1602.5,1429.3 1602.7,1441.3 1602.9,1425.1 1603.2,1435.7 1603.4,1418.0 1603.6,1419.1 1603.8,1435.7 1604.0,1432.3 1604.2,1423.8 1604.4,1422.6 1604.6,1445.6 1604.8,1419.1 1605.0,1429.3 1605.2,1434.0 1605.4,1429.3 1605.6,1435.7 1605.9,1412.1 1606.1,1423.8 1606.3,1426.5 1606.5,1423.8 1606.7,1441.3 1606.9,1430.8 1607.1,1425.1 1607.3,1441.3 1607.5,1429.3 1607.7,1432.3 1607.9,1450.5 1608.1,1462.9 1608.4,1443.4 1608.6,1422.6 1608.8,1430.8 1609.0,1434.0 1609.2,1427.8 1609.4,1441.3 1609.6,1421.4 1609.8,1435.7 1610.0,1435.7 1610.2,1429.3 1610.4,1459.4 1610.6,1448.0 1610.8,1443.4 1611.1,1422.6 1611.3,1445.6 1611.5,1439.3 1611.7,1450.5 1611.9,1439.3 1612.1,1437.5 1612.3,1435.7 1612.5,1443.4 1612.7,1443.4 1612.9,1430.8 1613.1,1448.0 1613.3,1425.1 1613.6,1441.3 1613.8,1435.7 1614.0,1434.0 1614.2,1450.5 1614.4,1435.7 1614.6,1434.0 1614.8,1441.3 1615.0,1435.7 1615.2,1459.4 1615.4,1441.3 1615.6,1443.4 1615.8,1448.0 1616.0,1435.7 1616.3,1450.5 1616.5,1459.4 1616.7,1456.2 1616.9,1439.3 1617.1,1445.6 1617.3,1445.6 1617.5,1448.0 1617.7,1443.4 1617.9,1448.0 1618.1,1448.0 1618.3,1453.2 1618.5,1441.3 1618.8,1443.4 1619.0,1441.3 1619.2,1448.0 1619.4,1453.2 1619.6,1445.6 1619.8,1453.2 1620.0,1437.5 1620.2,1448.0 1620.4,1450.5 1620.6,1443.4 1620.8,1450.5 1621.0,1456.2 1621.2,1448.0 1621.5,1450.5 1621.7,1462.9 1621.9,1426.5 1622.1,1445.6 1622.3,1441.3 1622.5,1443.4 1622.7,1448.0 1622.9,1445.6 1623.1,1466.7 1623.3,1466.7 1623.5,1456.2 1623.7,1435.7 1623.9,1437.5 1624.2,1443.4 1624.4,1448.0 1624.6,1445.6 1624.8,1441.3 1625.0,1434.0 1625.2,1437.5 1625.4,1459.4 1625.6,1434.0 1625.8,1443.4 1626.0,1445.6 1626.2,1448.0 1626.4,1450.5 1626.7,1453.2 1626.9,1450.5 1627.1,1445.6 1627.3,1453.2 1627.5,1437.5 1627.7,1445.6 1627.9,1437.5 1628.1,1459.4 1628.3,1466.7 1628.5,1466.7 1628.7,1435.7 1628.9,1443.4 1629.1,1453.2 1629.4,1453.2 1629.6,1441.3 1629.8,1437.5 1630.0,1459.4 1630.2,1466.7 1630.4,1434.0 1630.6,1439.3 1630.8,1462.9 1631.0,1445.6 1631.2,1435.7 1631.4,1445.6 1631.6,1466.7 1631.9,1443.4 1632.1,1443.4 1632.3,1430.8 1632.5,1466.7 1632.7,1445.6 1632.9,1450.5 1633.1,1445.6 1633.3,1448.0 1633.5,1445.6 1633.7,1445.6 1633.9,1450.5 1634.1,1445.6 1634.3,1439.3 1634.6,1448.0 1634.8,1443.4 1635.0,1459.4 1635.2,1459.4 1635.4,1453.2 1635.6,1450.5 1635.8,1456.2 1636.0,1450.5 1636.2,1443.4 1636.4,1466.7 1636.6,1466.7 1636.8,1450.5 1637.1,1445.6 1637.3,1443.4 1637.5,1462.9 1637.7,1448.0 1637.9,1441.3 1638.1,1459.4 1638.3,1450.5 1638.5,1437.5 1638.7,1441.3 1638.9,1462.9 1639.1,1450.5 1639.3,1456.2 1639.5,1441.3 1639.8,1443.4 1640.0,1443.4 1640.2,1462.9 1640.4,1450.5 1640.6,1432.3 1640.8,1448.0 1641.0,1443.4 1641.2,1443.4 1641.4,1445.6 1641.6,1453.2 1641.8,1443.4 1642.0,1448.0 1642.2,1456.2 1642.5,1466.7 1642.7,1459.4 1642.9,1450.5 1643.1,1453.2 1643.3,1466.7 1643.5,1459.4 1643.7,1448.0 1643.9,1456.2 1644.1,1432.3 1644.3,1459.4 1644.5,1439.3 1644.7,1450.5 1645.0,1456.2 1645.2,1462.9 1645.4,1453.2 1645.6,1450.5 1645.8,1462.9 1646.0,1456.2 1646.2,1448.0 1646.4,1450.5 1646.6,1450.5 1646.8,1441.3 1647.0,1448.0 1647.2,1441.3 1647.4,1448.0 1647.7,1437.5 1647.9,1453.2 1648.1,1453.2 1648.3,1448.0 1648.5,1443.4 1648.7,1434.0 1648.9,1450.5 1649.1,1453.2 1649.3,1466.7 1649.5,1445.6 1649.7,1439.3 1649.9,1456.2 1650.2,1462.9 1650.4,1450.5 1650.6,1448.0 1650.8,1443.4 1651.0,1439.3 1651.2,1448.0 1651.4,1437.5 1651.6,1443.4 1651.8,1437.5 1652.0,1445.6 1652.2,1453.2 1652.4,1448.0 1652.6,1441.3 1652.9,1434.0 1653.1,1453.2 1653.3,1450.5 1653.5,1448.0 1653.7,1441.3 1653.9,1439.3 1654.1,1450.5 1654.3,1466.7 1654.5,1448.0 1654.7,1435.7 1654.9,1466.7 1655.1,1456.2 1655.4,1441.3 1655.6,1437.5 1655.8,1456.2 1656.0,1459.4 1656.2,1450.5 1656.4,1432.3 1656.6,1448.0 1656.8,1448.0 1657.0,1448.0 1657.2,1448.0 1657.4,1445.6 1657.6,1445.6 1657.8,1453.2 1658.1,1445.6 1658.3,1466.7 1658.5,1450.5 1658.7,1443.4 1658.9,1456.2 1659.1,1453.2 1659.3,1456.2 1659.5,1435.7 1659.7,1488.2 1659.9,1456.2 1660.1,1448.0 1660.3,1450.5 1660.6,1453.2 1660.8,1439.3 1661.0,1443.4 1661.2,1448.0 1661.4,1459.4 1661.6,1448.0 1661.8,1450.5 1662.0,1437.5 1662.2,1439.3 1662.4,1456.2 1662.6,1450.5 1662.8,1456.2 1663.0,1437.5 1663.3,1450.5 1663.5,1441.3 1663.7,1439.3 1663.9,1441.3 1664.1,1445.6 1664.3,1441.3 1664.5,1453.2 1664.7,1439.3 1664.9,1450.5 1665.1,1466.7 1665.3,1456.2 1665.5,1448.0 1665.7,1459.4 1666.0,1471.0 1666.2,1448.0 1666.4,1441.3 1666.6,1462.9 1666.8,1441.3 1667.0,1439.3 1667.2,1462.9 1667.4,1453.2 1667.6,1453.2 1667.8,1456.2 1668.0,1456.2 1668.2,1462.9 1668.5,1453.2 1668.7,1445.6 1668.9,1459.4 1669.1,1466.7 1669.3,1450.5 1669.5,1437.5 1669.7,1462.9 1669.9,1448.0 1670.1,1450.5 1670.3,1443.4 1670.5,1453.2 1670.7,1453.2 1670.9,1441.3 1671.2,1441.3 1671.4,1459.4 1671.6,1448.0 1671.8,1453.2 1672.0,1453.2 1672.2,1456.2 1672.4,1448.0 1672.6,1466.7 1672.8,1443.4 1673.0,1441.3 1673.2,1445.6 1673.4,1445.6 1673.7,1453.2 1673.9,1466.7 1674.1,1450.5 1674.3,1443.4 1674.5,1450.5 1674.7,1456.2 1674.9,1453.2 1675.1,1459.4 1675.3,1448.0 1675.5,1443.4 1675.7,1434.0 1675.9,1462.9 1676.1,1441.3 1676.4,1453.2 1676.6,1459.4 1676.8,1462.9 1677.0,1441.3 1677.2,1466.7 1677.4,1453.2 1677.6,1453.2 1677.8,1450.5 1678.0,1443.4 1678.2,1448.0 1678.4,1456.2 1678.6,1437.5 1678.9,1437.5 1679.1,1456.2 1679.3,1466.7 1679.5,1456.2 1679.7,1437.5 1679.9,1443.4 1680.1,1459.4 1680.3,1453.2 1680.5,1459.4 1680.7,1448.0 1680.9,1459.4 1681.1,1441.3 1681.3,1459.4 1681.6,1453.2 1681.8,1441.3 1682.0,1445.6 1682.2,1448.0 1682.4,1462.9 1682.6,1435.7 1682.8,1434.0 1683.0,1450.5 1683.2,1450.5 1683.4,1456.2 1683.6,1441.3 1683.8,1453.2 1684.0,1448.0 1684.3,1453.2 1684.5,1445.6 1684.7,1450.5 1684.9,1453.2 1685.1,1450.5 1685.3,1453.2 1685.5,1445.6 1685.7,1456.2 1685.9,1450.5 1686.1,1445.6 1686.3,1450.5 1686.5,1448.0 1686.8,1453.2 1687.0,1437.5 1687.2,1437.5 1687.4,1450.5 1687.6,1459.4 1687.8,1441.3 1688.0,1453.2 1688.2,1439.3 1688.4,1441.3 1688.6,1448.0 1688.8,1453.2 1689.0,1437.5 1689.2,1466.7 1689.5,1459.4 1689.7,1462.9 1689.9,1448.0 1690.1,1459.4 1690.3,1466.7 1690.5,1443.4 1690.7,1450.5 1690.9,1437.5 1691.1,1450.5 1691.3,1432.3 1691.5,1443.4 1691.7,1437.5 1692.0,1453.2 1692.2,1439.3 1692.4,1453.2 1692.6,1435.7 1692.8,1439.3 1693.0,1437.5 1693.2,1453.2 1693.4,1437.5 1693.6,1448.0 1693.8,1439.3 1694.0,1459.4 1694.2,1456.2 1694.4,1448.0 1694.7,1445.6 1694.9,1459.4 1695.1,1437.5 1695.3,1439.3 1695.5,1459.4 1695.7,1450.5 1695.9,1445.6 1696.1,1443.4 1696.3,1459.4 1696.5,1448.0 1696.7,1430.8 1696.9,1432.3 1697.2,1443.4 1697.4,1439.3 1697.6,1453.2 1697.8,1453.2 1698.0,1450.5 1698.2,1432.3 1698.4,1448.0 1698.6,1448.0 1698.8,1445.6 1699.0,1462.9 1699.2,1441.3 1699.4,1443.4 1699.6,1459.4 1699.9,1448.0 1700.1,1450.5 1700.3,1450.5 1700.5,1448.0 1700.7,1459.4 1700.9,1462.9 1701.1,1466.7 1701.3,1439.3 1701.5,1435.7 1701.7,1481.6 1701.9,1450.5 1702.1,1462.9 1702.3,1430.8 1702.6,1448.0 1702.8,1432.3 1703.0,1448.0 1703.2,1450.5 1703.4,1439.3 1703.6,1443.4 1703.8,1459.4 1704.0,1445.6 1704.2,1459.4 1704.4,1456.2 1704.6,1459.4 1704.8,1459.4 1705.1,1443.4 1705.3,1448.0 1705.5,1448.0 1705.7,1448.0 1705.9,1459.4 1706.1,1456.2 1706.3,1450.5 1706.5,1441.3 1706.7,1456.2 1706.9,1456.2 1707.1,1443.4 1707.3,1441.3 1707.5,1453.2 1707.8,1456.2 1708.0,1453.2 1708.2,1453.2 1708.4,1456.2 1708.6,1448.0 1708.8,1448.0 1709.0,1471.0 1709.2,1450.5 1709.4,1445.6 1709.6,1462.9 1709.8,1441.3 1710.0,1443.4 1710.3,1448.0 1710.5,1445.6 1710.7,1450.5 1710.9,1443.4 1711.1,1448.0 1711.3,1462.9 1711.5,1450.5 1711.7,1453.2 1711.9,1481.6 1712.1,1456.2 1712.3,1448.0 1712.5,1448.0 1712.7,1471.0 1713.0,1471.0 1713.2,1445.6 1713.4,1448.0 1713.6,1459.4 1713.8,1445.6 1714.0,1456.2 1714.2,1445.6 1714.4,1448.0 1714.6,1448.0 1714.8,1456.2 1715.0,1466.7 1715.2,1453.2 1715.5,1462.9 1715.7,1448.0 1715.9,1496.4 1716.1,1443.4 1716.3,1459.4 1716.5,1466.7 1716.7,1434.0 1716.9,1445.6 1717.1,1459.4 1717.3,1443.4 1717.5,1453.2 1717.7,1448.0 1717.9,1439.3 1718.2,1462.9 1718.4,1439.3 1718.6,1443.4 1718.8,1439.3 1719.0,1459.4 1719.2,1435.7 1719.4,1453.2 1719.6,1437.5 1719.8,1450.5 1720.0,1459.4 1720.2,1459.4 1720.4,1466.7 1720.7,1448.0 1720.9,1456.2 1721.1,1466.7 1721.3,1448.0 1721.5,1456.2 1721.7,1445.6 1721.9,1459.4 1722.1,1459.4 1722.3,1439.3 1722.5,1459.4 1722.7,1456.2 1722.9,1459.4 1723.1,1441.3 1723.4,1459.4 1723.6,1466.7 1723.8,1488.2 1724.0,1430.8 1724.2,1450.5 1724.4,1453.2 1724.6,1430.8 1724.8,1462.9 1725.0,1445.6 1725.2,1448.0 1725.4,1448.0 1725.6,1441.3 1725.8,1462.9 1726.1,1448.0 1726.3,1456.2 1726.5,1456.2 1726.7,1435.7 1726.9,1459.4 1727.1,1450.5 1727.3,1448.0 1727.5,1453.2 1727.7,1453.2 1727.9,1456.2 1728.1,1453.2 1728.3,1466.7 1728.6,1459.4 1728.8,1441.3 1729.0,1453.2 1729.2,1459.4 1729.4,1466.7 1729.6,1466.7 1729.8,1453.2 1730.0,1441.3 1730.2,1445.6 1730.4,1466.7 1730.6,1459.4 1730.8,1459.4 1731.0,1443.4 1731.3,1456.2 1731.5,1441.3 1731.7,1445.6 1731.9,1462.9 1732.1,1456.2 1732.3,1453.2 1732.5,1459.4 1732.7,1462.9 1732.9,1441.3 1733.1,1453.2 1733.3,1471.0 1733.5,1453.2 1733.8,1459.4 1734.0,1448.0 1734.2,1459.4 1734.4,1450.5 1734.6,1453.2 1734.8,1441.3 1735.0,1441.3 1735.2,1481.6 1735.4,1435.7 1735.6,1466.7 1735.8,1453.2 1736.0,1448.0 1736.2,1462.9 1736.5,1432.3 1736.7,1445.6 1736.9,1450.5 1737.1,1466.7 1737.3,1466.7 1737.5,1450.5 1737.7,1453.2 1737.9,1456.2 1738.1,1448.0 1738.3,1453.2 1738.5,1441.3 1738.7,1434.0 1739.0,1475.9 1739.2,1448.0 1739.4,1456.2 1739.6,1456.2 1739.8,1456.2 1740.0,1434.0 1740.2,1445.6 1740.4,1441.3 1740.6,1456.2 1740.8,1456.2 1741.0,1450.5 1741.2,1450.5 1741.4,1445.6 1741.7,1456.2 1741.9,1466.7 1742.1,1462.9 1742.3,1445.6 1742.5,1450.5 1742.7,1466.7 1742.9,1443.4 1743.1,1437.5 1743.3,1448.0 1743.5,1430.8 1743.7,1462.9 1743.9,1453.2 1744.1,1466.7 1744.4,1453.2 1744.6,1453.2 1744.8,1450.5 1745.0,1453.2 1745.2,1453.2 1745.4,1445.6 1745.6,1448.0 1745.8,1445.6 1746.0,1456.2 1746.2,1462.9 1746.4,1466.7 1746.6,1437.5 1746.9,1456.2 1747.1,1462.9 1747.3,1448.0 1747.5,1450.5 1747.7,1439.3 1747.9,1450.5 1748.1,1445.6 1748.3,1443.4 1748.5,1437.5 1748.7,1450.5 1748.9,1450.5 1749.1,1459.4 1749.3,1448.0 1749.6,1459.4 1749.8,1450.5 1750.0,1435.7 1750.2,1439.3 1750.4,1450.5 1750.6,1462.9 1750.8,1453.2 1751.0,1445.6 1751.2,1450.5 1751.4,1448.0 1751.6,1453.2 1751.8,1448.0 1752.1,1462.9 1752.3,1448.0 1752.5,1453.2 1752.7,1448.0 1752.9,1441.3 1753.1,1450.5 1753.3,1445.6 1753.5,1439.3 1753.7,1456.2 1753.9,1462.9 1754.1,1448.0 1754.3,1443.4 1754.5,1466.7 1754.8,1445.6 1755.0,1459.4 1755.2,1443.4 1755.4,1453.2 1755.6,1448.0 1755.8,1481.6 1756.0,1450.5 1756.2,1456.2 1756.4,1448.0 1756.6,1439.3 1756.8,1445.6 1757.0,1450.5 1757.3,1445.6 1757.5,1466.7 1757.7,1456.2 1757.9,1459.4 1758.1,1443.4 1758.3,1453.2 1758.5,1456.2 1758.7,1453.2 1758.9,1459.4 1759.1,1441.3 1759.3,1453.2 1759.5,1456.2 1759.7,1462.9 1760.0,1435.7 1760.2,1453.2 1760.4,1453.2 1760.6,1445.6 1760.8,1459.4 1761.0,1441.3 1761.2,1456.2 1761.4,1453.2 1761.6,1496.4 1761.8,1453.2 1762.0,1448.0 1762.2,1471.0 1762.5,1445.6 1762.7,1466.7 1762.9,1448.0 1763.1,1439.3 1763.3,1453.2 1763.5,1437.5 1763.7,1466.7 1763.9,1466.7 1764.1,1445.6 1764.3,1450.5 1764.5,1459.4 1764.7,1466.7 1764.9,1466.7 1765.2,1453.2 1765.4,1448.0 1765.6,1456.2 1765.8,1448.0 1766.0,1441.3 1766.2,1445.6 1766.4,1450.5 1766.6,1453.2 1766.8,1459.4 1767.0,1456.2 1767.2,1466.7 1767.4,1450.5 1767.6,1456.2 1767.9,1462.9 1768.1,1445.6 1768.3,1453.2 1768.5,1450.5 1768.7,1456.2 1768.9,1450.5 1769.1,1475.9 1769.3,1456.2 1769.5,1459.4 1769.7,1471.0 1769.9,1462.9 1770.1,1462.9 1770.4,1445.6 1770.6,1448.0 1770.8,1448.0 1771.0,1456.2 1771.2,1462.9 1771.4,1448.0 1771.6,1456.2 1771.8,1443.4 1772.0,1439.3 1772.2,1462.9 1772.4,1450.5 1772.6,1456.2 1772.8,1443.4 1773.1,1466.7 1773.3,1450.5 1773.5,1443.4 1773.7,1441.3 1773.9,1488.2 1774.1,1459.4 1774.3,1462.9 1774.5,1445.6 1774.7,1450.5 1774.9,1466.7 1775.1,1456.2 1775.3,1448.0 1775.6,1453.2 1775.8,1453.2 1776.0,1453.2 1776.2,1450.5 1776.4,1450.5 1776.6,1443.4 1776.8,1448.0 1777.0,1450.5 1777.2,1443.4 1777.4,1443.4 1777.6,1456.2 1777.8,1450.5 1778.0,1450.5 1778.3,1437.5 1778.5,1445.6 1778.7,1441.3 1778.9,1450.5 1779.1,1443.4 1779.3,1459.4 1779.5,1462.9 1779.7,1432.3 1779.9,1475.9 1780.1,1441.3 1780.3,1456.2 1780.5,1439.3 1780.8,1456.2 1781.0,1448.0 1781.2,1445.6 1781.4,1445.6 1781.6,1450.5 1781.8,1459.4 1782.0,1450.5 1782.2,1459.4 1782.4,1450.5 1782.6,1459.4 1782.8,1459.4 1783.0,1445.6 1783.2,1439.3 1783.5,1445.6 1783.7,1453.2 1783.9,1448.0 1784.1,1448.0 1784.3,1462.9 1784.5,1462.9 1784.7,1437.5 1784.9,1439.3 1785.1,1443.4 1785.3,1432.3 1785.5,1481.6 1785.7,1456.2 1785.9,1450.5 1786.2,1466.7 1786.4,1441.3 1786.6,1445.6 1786.8,1453.2 1787.0,1462.9 1787.2,1456.2 1787.4,1462.9 1787.6,1466.7 1787.8,1448.0 1788.0,1450.5 1788.2,1445.6 1788.4,1443.4 1788.7,1456.2 1788.9,1462.9 1789.1,1453.2 1789.3,1453.2 1789.5,1466.7 1789.7,1453.2 1789.9,1450.5 1790.1,1435.7 1790.3,1448.0 1790.5,1439.3 1790.7,1496.4 1790.9,1435.7 1791.1,1439.3 1791.4,1466.7 1791.6,1462.9 1791.8,1450.5 1792.0,1445.6 1792.2,1456.2 1792.4,1462.9 1792.6,1456.2 1792.8,1462.9 1793.0,1450.5 1793.2,1459.4 1793.4,1450.5 1793.6,1445.6 1793.9,1445.6 1794.1,1450.5 1794.3,1456.2 1794.5,1450.5 1794.7,1439.3 1794.9,1453.2 1795.1,1443.4 1795.3,1435.7 1795.5,1443.4 1795.7,1445.6 1795.9,1443.4 1796.1,1443.4 1796.3,1448.0 1796.6,1445.6 1796.8,1462.9 1797.0,1445.6 1797.2,1443.4 1797.4,1443.4 1797.6,1439.3 1797.8,1471.0 1798.0,1459.4 1798.2,1448.0 1798.4,1462.9 1798.6,1459.4 1798.8,1462.9 1799.1,1445.6 1799.3,1437.5 1799.5,1443.4 1799.7,1443.4 1799.9,1448.0 1800.1,1450.5 1800.3,1450.5 1800.5,1459.4 1800.7,1437.5 1800.9,1434.0 1801.1,1453.2 1801.3,1466.7 1801.5,1435.7 1801.8,1435.7 1802.0,1456.2 1802.2,1456.2 1802.4,1456.2 1802.6,1459.4 1802.8,1456.2 1803.0,1448.0 1803.2,1445.6 1803.4,1456.2 1803.6,1448.0 1803.8,1459.4 1804.0,1453.2 1804.3,1466.7 1804.5,1456.2 1804.7,1459.4 1804.9,1453.2 1805.1,1448.0 1805.3,1453.2 1805.5,1450.5 1805.7,1450.5 1805.9,1462.9 1806.1,1437.5 1806.3,1462.9 1806.5,1453.2 1806.7,1453.2 1807.0,1459.4 1807.2,1448.0 1807.4,1439.3 1807.6,1459.4 1807.8,1466.7 1808.0,1448.0 1808.2,1453.2 1808.4,1448.0 1808.6,1462.9 1808.8,1448.0 1809.0,1450.5 1809.2,1462.9 1809.4,1445.6 1809.7,1445.6 1809.9,1459.4 1810.1,1462.9 1810.3,1450.5 1810.5,1488.2 1810.7,1448.0 1810.9,1453.2 1811.1,1453.2 1811.3,1450.5 1811.5,1453.2 1811.7,1456.2 1811.9,1453.2 1812.2,1448.0 1812.4,1453.2 1812.6,1466.7 1812.8,1456.2 1813.0,1456.2 1813.2,1462.9 1813.4,1450.5 1813.6,1445.6 1813.8,1462.9 1814.0,1450.5 1814.2,1450.5 1814.4,1450.5 1814.6,1453.2 1814.9,1456.2 1815.1,1450.5 1815.3,1459.4 1815.5,1450.5 1815.7,1456.2 1815.9,1445.6 1816.1,1448.0 1816.3,1450.5 1816.5,1445.6 1816.7,1453.2 1816.9,1462.9 1817.1,1453.2 1817.4,1450.5 1817.6,1445.6 1817.8,1441.3 1818.0,1445.6 1818.2,1441.3 1818.4,1453.2 1818.6,1445.6 1818.8,1453.2 1819.0,1445.6 1819.2,1459.4 1819.4,1448.0 1819.6,1459.4 1819.8,1459.4 1820.1,1443.4 1820.3,1445.6 1820.5,1448.0 1820.7,1462.9 1820.9,1459.4 1821.1,1435.7 1821.3,1456.2 1821.5,1448.0 1821.7,1462.9 1821.9,1456.2 1822.1,1462.9 1822.3,1448.0 1822.6,1456.2 1822.8,1456.2 1823.0,1459.4 1823.2,1443.4 1823.4,1437.5 1823.6,1459.4 1823.8,1481.6 1824.0,1466.7 1824.2,1450.5 1824.4,1471.0 1824.6,1462.9 1824.8,1439.3 1825.0,1448.0 1825.3,1445.6 1825.5,1462.9 1825.7,1459.4 1825.9,1445.6 1826.1,1441.3 1826.3,1450.5 1826.5,1448.0 1826.7,1448.0 1826.9,1445.6 1827.1,1443.4 1827.3,1448.0 1827.5,1475.9 1827.7,1456.2 1828.0,1481.6 1828.2,1441.3 1828.4,1443.4 1828.6,1448.0 1828.8,1456.2 1829.0,1445.6 1829.2,1439.3 1829.4,1453.2 1829.6,1459.4 1829.8,1462.9 1830.0,1439.3 1830.2,1437.5 1830.5,1439.3 1830.7,1453.2 1830.9,1453.2 1831.1,1453.2 1831.3,1448.0 1831.5,1437.5 1831.7,1443.4 1831.9,1435.7 1832.1,1453.2 1832.3,1443.4 1832.5,1459.4 1832.7,1453.2 1832.9,1453.2 1833.2,1437.5 1833.4,1445.6 1833.6,1450.5 1833.8,1450.5 1834.0,1459.4 1834.2,1462.9 1834.4,1456.2 1834.6,1437.5 1834.8,1459.4 1835.0,1437.5 1835.2,1435.7 1835.4,1448.0 1835.7,1443.4 1835.9,1439.3 1836.1,1439.3 1836.3,1448.0 1836.5,1462.9 1836.7,1450.5 1836.9,1462.9 1837.1,1456.2 1837.3,1453.2 1837.5,1450.5 1837.7,1459.4 1837.9,1466.7 1838.1,1443.4 1838.4,1445.6 1838.6,1456.2 1838.8,1466.7 1839.0,1445.6 1839.2,1448.0 1839.4,1459.4 1839.6,1456.2 1839.8,1448.0 1840.0,1459.4 1840.2,1435.7 1840.4,1448.0 1840.6,1456.2 1840.9,1443.4 1841.1,1456.2 1841.3,1439.3 1841.5,1462.9 1841.7,1456.2 1841.9,1450.5 1842.1,1439.3 1842.3,1453.2 1842.5,1453.2 1842.7,1459.4 1842.9,1448.0 1843.1,1441.3 1843.3,1448.0 1843.6,1456.2 1843.8,1435.7 1844.0,1462.9 1844.2,1450.5 1844.4,1443.4 1844.6,1462.9 1844.8,1441.3 1845.0,1462.9 1845.2,1456.2 1845.4,1437.5 1845.6,1435.7 1845.8,1448.0 1846.1,1445.6 1846.3,1435.7 1846.5,1441.3 1846.7,1450.5 1846.9,1471.0 1847.1,1462.9 1847.3,1443.4 1847.5,1434.0 1847.7,1448.0 1847.9,1453.2 1848.1,1434.0 1848.3,1439.3 1848.5,1448.0 1848.8,1441.3 1849.0,1466.7 1849.2,1456.2 1849.4,1466.7 1849.6,1437.5 1849.8,1453.2 1850.0,1462.9 1850.2,1459.4 1850.4,1466.7 1850.6,1459.4 1850.8,1459.4 1851.0,1459.4 1851.2,1441.3 1851.5,1445.6 1851.7,1448.0 1851.9,1445.6 1852.1,1459.4 1852.3,1453.2 1852.5,1439.3 1852.7,1459.4 1852.9,1439.3 1853.1,1445.6 1853.3,1443.4 1853.5,1466.7 1853.7,1453.2 1854.0,1459.4 1854.2,1450.5 1854.4,1441.3 1854.6,1443.4 1854.8,1453.2 1855.0,1466.7 1855.2,1448.0 1855.4,1453.2 1855.6,1439.3 1855.8,1450.5 1856.0,1462.9 1856.2,1453.2 1856.4,1439.3 1856.7,1453.2 1856.9,1453.2 1857.1,1456.2 1857.3,1450.5 1857.5,1441.3 1857.7,1453.2 1857.9,1441.3 1858.1,1453.2 1858.3,1450.5 1858.5,1459.4 1858.7,1434.0 1858.9,1459.4 1859.2,1448.0 1859.4,1443.4 1859.6,1439.3 1859.8,1450.5 1860.0,1443.4 1860.2,1475.9 1860.4,1448.0 1860.6,1448.0 1860.8,1456.2 1861.0,1450.5 1861.2,1466.7 1861.4,1441.3 1861.6,1453.2 1861.9,1466.7 1862.1,1456.2 1862.3,1441.3 1862.5,1453.2 1862.7,1453.2 1862.9,1462.9 1863.1,1450.5 1863.3,1437.5 1863.5,1453.2 1863.7,1445.6 1863.9,1445.6 1864.1,1453.2 1864.4,1448.0 1864.6,1456.2 1864.8,1456.2 1865.0,1445.6 1865.2,1445.6 1865.4,1481.6 1865.6,1450.5 1865.8,1453.2 1866.0,1450.5 1866.2,1456.2 1866.4,1443.4 1866.6,1462.9 1866.8,1437.5 1867.1,1453.2 1867.3,1453.2 1867.5,1450.5 1867.7,1441.3 1867.9,1453.2 1868.1,1443.4 1868.3,1434.0 1868.5,1459.4 1868.7,1441.3 1868.9,1443.4 1869.1,1441.3 1869.3,1459.4 1869.5,1456.2 1869.8,1462.9 1870.0,1462.9 1870.2,1466.7 1870.4,1459.4 1870.6,1453.2 1870.8,1456.2 1871.0,1448.0 1871.2,1448.0 1871.4,1435.7 1871.6,1443.4 1871.8,1445.6 1872.0,1462.9 1872.3,1450.5 1872.5,1445.6 1872.7,1445.6 1872.9,1459.4 1873.1,1459.4 1873.3,1448.0 1873.5,1456.2 1873.7,1456.2 1873.9,1445.6 1874.1,1443.4 1874.3,1462.9 1874.5,1450.5 1874.7,1439.3 1875.0,1459.4 1875.2,1453.2 1875.4,1448.0 1875.6,1437.5 1875.8,1475.9 1876.0,1462.9 1876.2,1450.5 1876.4,1441.3 1876.6,1441.3 1876.8,1437.5 1877.0,1445.6 1877.2,1456.2 1877.5,1459.4 1877.7,1448.0 1877.9,1459.4 1878.1,1450.5 1878.3,1445.6 1878.5,1456.2 1878.7,1435.7 1878.9,1448.0 1879.1,1453.2 1879.3,1462.9 1879.5,1437.5 1879.7,1456.2 1879.9,1456.2 1880.2,1459.4 1880.4,1441.3 1880.6,1439.3 1880.8,1443.4 1881.0,1437.5 1881.2,1453.2 1881.4,1456.2 1881.6,1456.2 1881.8,1459.4 1882.0,1456.2 1882.2,1453.2 1882.4,1462.9 1882.7,1443.4 1882.9,1450.5 1883.1,1441.3 1883.3,1448.0 1883.5,1448.0 1883.7,1430.8 1883.9,1450.5 1884.1,1448.0 1884.3,1456.2 1884.5,1453.2 1884.7,1456.2 1884.9,1435.7 1885.1,1450.5 1885.4,1459.4 1885.6,1456.2 1885.8,1430.8 1886.0,1456.2 1886.2,1448.0 1886.4,1437.5 1886.6,1439.3 1886.8,1450.5 1887.0,1432.3 1887.2,1445.6 1887.4,1453.2 1887.6,1450.5 1887.9,1466.7 1888.1,1466.7 1888.3,1456.2 1888.5,1445.6 1888.7,1443.4 1888.9,1450.5 1889.1,1450.5 1889.3,1456.2 1889.5,1462.9 1889.7,1445.6 1889.9,1435.7 1890.1,1453.2 1890.3,1456.2 1890.6,1453.2 1890.8,1462.9 1891.0,1443.4 1891.2,1448.0 1891.4,1466.7 1891.6,1466.7 1891.8,1459.4 1892.0,1466.7 1892.2,1448.0 1892.4,1439.3 1892.6,1448.0 1892.8,1459.4 1893.0,1459.4 1893.3,1435.7 1893.5,1462.9 1893.7,1450.5 1893.9,1459.4 1894.1,1462.9 1894.3,1450.5 1894.5,1445.6 1894.7,1462.9 1894.9,1450.5 1895.1,1445.6 1895.3,1450.5 1895.5,1443.4 1895.8,1453.2 1896.0,1459.4 1896.2,1450.5 1896.4,1443.4 1896.6,1459.4 1896.8,1466.7 1897.0,1445.6 1897.2,1453.2 1897.4,1466.7 1897.6,1466.7 1897.8,1450.5 1898.0,1466.7 1898.2,1448.0 1898.5,1459.4 1898.7,1459.4 1898.9,1441.3 1899.1,1450.5 1899.3,1459.4 1899.5,1445.6 1899.7,1450.5 1899.9,1459.4 1900.1,1459.4 1900.3,1462.9 1900.5,1448.0 1900.7,1453.2 1901.0,1439.3 1901.2,1475.9 1901.4,1435.7 1901.6,1459.4 1901.8,1459.4 1902.0,1441.3 1902.2,1462.9 1902.4,1462.9 1902.6,1466.7 1902.8,1448.0 1903.0,1441.3 1903.2,1437.5 1903.4,1459.4 1903.7,1443.4 1903.9,1456.2 1904.1,1459.4 1904.3,1448.0 1904.5,1445.6 1904.7,1466.7 1904.9,1448.0 1905.1,1432.3 1905.3,1459.4 1905.5,1435.7 1905.7,1459.4 1905.9,1437.5 1906.2,1448.0 1906.4,1466.7 1906.6,1456.2 1906.8,1466.7 1907.0,1435.7 1907.2,1443.4 1907.4,1456.2 1907.6,1450.5 1907.8,1456.2 1908.0,1453.2 1908.2,1448.0 1908.4,1456.2 1908.6,1441.3 1908.9,1462.9 1909.1,1450.5 1909.3,1453.2 1909.5,1450.5 1909.7,1448.0 1909.9,1453.2 1910.1,1441.3 1910.3,1445.6 1910.5,1448.0 1910.7,1443.4 1910.9,1435.7 1911.1,1448.0 1911.3,1453.2 1911.6,1456.2 1911.8,1448.0 1912.0,1439.3 1912.2,1459.4 1912.4,1456.2 1912.6,1459.4 1912.8,1448.0 1913.0,1448.0 1913.2,1456.2 1913.4,1456.2 1913.6,1459.4 1913.8,1448.0 1914.1,1450.5 1914.3,1448.0 1914.5,1450.5 1914.7,1443.4 1914.9,1445.6 1915.1,1439.3 1915.3,1456.2 1915.5,1448.0 1915.7,1453.2 1915.9,1445.6 1916.1,1450.5 1916.3,1448.0 1916.5,1445.6 1916.8,1453.2 1917.0,1448.0 1917.2,1448.0 1917.4,1450.5 1917.6,1450.5 1917.8,1450.5 1918.0,1435.7 1918.2,1459.4 1918.4,1459.4 1918.6,1448.0 1918.8,1448.0 1919.0,1437.5 1919.3,1441.3 1919.5,1445.6 1919.7,1453.2 1919.9,1459.4 1920.1,1439.3 1920.3,1448.0 1920.5,1448.0 1920.7,1453.2 1920.9,1450.5 1921.1,1459.4 1921.3,1459.4 1921.5,1450.5 1921.7,1450.5 1922.0,1453.2 1922.2,1445.6 1922.4,1450.5 1922.6,1441.3 1922.8,1459.4 1923.0,1445.6 1923.2,1459.4 1923.4,1462.9 1923.6,1450.5 1923.8,1437.5 1924.0,1441.3 1924.2,1443.4 1924.5,1437.5 1924.7,1453.2 1924.9,1459.4 1925.1,1450.5 1925.3,1466.7 1925.5,1453.2 1925.7,1448.0 1925.9,1453.2 1926.1,1462.9 1926.3,1432.3 1926.5,1445.6 1926.7,1462.9 1926.9,1450.5 1927.2,1445.6 1927.4,1453.2 1927.6,1450.5 1927.8,1441.3 1928.0,1445.6 1928.2,1453.2 1928.4,1445.6 1928.6,1443.4 1928.8,1450.5 1929.0,1443.4 1929.2,1437.5 1929.4,1456.2 1929.7,1450.5 1929.9,1453.2 1930.1,1456.2 1930.3,1450.5 1930.5,1453.2 1930.7,1437.5 1930.9,1445.6 1931.1,1437.5 1931.3,1466.7 1931.5,1453.2 1931.7,1462.9 1931.9,1456.2 1932.1,1450.5 1932.4,1459.4 1932.6,1459.4 1932.8,1456.2 1933.0,1439.3 1933.2,1453.2 1933.4,1456.2 1933.6,1456.2 1933.8,1462.9 1934.0,1443.4 1934.2,1448.0 1934.4,1453.2 1934.6,1453.2 1934.8,1448.0 1935.1,1456.2 1935.3,1450.5 1935.5,1462.9 1935.7,1445.6 1935.9,1453.2 1936.1,1462.9 1936.3,1439.3 1936.5,1450.5 1936.7,1448.0 1936.9,1448.0 1937.1,1441.3 1937.3,1466.7 1937.6,1437.5 1937.8,1445.6 1938.0,1443.4 1938.2,1459.4 1938.4,1441.3 1938.6,1466.7 1938.8,1453.2 1939.0,1450.5 1939.2,1459.4 1939.4,1450.5 1939.6,1459.4 1939.8,1448.0 1940.0,1443.4 1940.3,1466.7 1940.5,1448.0 1940.7,1443.4 1940.9,1456.2 1941.1,1466.7 1941.3,1439.3 1941.5,1453.2 1941.7,1432.3 1941.9,1448.0 1942.1,1445.6 1942.3,1462.9 1942.5,1507.0 1942.8,1443.4 1943.0,1453.2 1943.2,1456.2 1943.4,1448.0 1943.6,1437.5 1943.8,1448.0 1944.0,1443.4 1944.2,1445.6 1944.4,1466.7 1944.6,1443.4 1944.8,1443.4 1945.0,1448.0 1945.2,1456.2 1945.5,1434.0 1945.7,1466.7 1945.9,1443.4 1946.1,1453.2 1946.3,1453.2 1946.5,1435.7 1946.7,1445.6 1946.9,1443.4 1947.1,1459.4 1947.3,1462.9 1947.5,1450.5 1947.7,1466.7 1948.0,1453.2 1948.2,1456.2 1948.4,1453.2 1948.6,1456.2 1948.8,1450.5 1949.0,1443.4 1949.2,1456.2 1949.4,1459.4 1949.6,1456.2 1949.8,1462.9 1950.0,1456.2 1950.2,1456.2 1950.4,1453.2 1950.7,1448.0 1950.9,1450.5 1951.1,1453.2 1951.3,1439.3 1951.5,1462.9 1951.7,1441.3 1951.9,1448.0 1952.1,1439.3 1952.3,1450.5 1952.5,1448.0 1952.7,1448.0 1952.9,1462.9 1953.1,1445.6 1953.4,1450.5 1953.6,1450.5 1953.8,1448.0 1954.0,1466.7 1954.2,1453.2 1954.4,1456.2 1954.6,1445.6 1954.8,1466.7 1955.0,1462.9 1955.2,1453.2 1955.4,1445.6 1955.6,1456.2 1955.9,1462.9 1956.1,1453.2 1956.3,1453.2 1956.5,1462.9 1956.7,1456.2 1956.9,1466.7 1957.1,1459.4 1957.3,1466.7 1957.5,1462.9 1957.7,1459.4 1957.9,1462.9 1958.1,1456.2 1958.3,1443.4 1958.6,1459.4 1958.8,1453.2 1959.0,1453.2 1959.2,1456.2 1959.4,1443.4 1959.6,1445.6 1959.8,1459.4 1960.0,1450.5 1960.2,1448.0 1960.4,1445.6 1960.6,1445.6 1960.8,1445.6 1961.1,1445.6 1961.3,1450.5 1961.5,1450.5 1961.7,1439.3 1961.9,1466.7 1962.1,1450.5 1962.3,1437.5" fill="none" stroke="#ff6ab5" stroke-width="1.3" stroke-linejoin="round" marker-start="url(#mp)" marker-mid="url(#mp)" marker-end="url(#mp)"/></g><rect x="1650.8" y="1181.3" width="284.2" height="211" fill="#fff" stroke="none" stroke-width="0"/><polyline points="1650.8,1258.4 1679.7,1260.7 1708.3,1266.5 1736.4,1272 1764.8,1275 1793,1277.1 1821.5,1281.2 1849.9,1288.7 1878.5,1283.9 1906.9,1288 1935.5,1290.7" fill="none" stroke="#2ea4ec" stroke-width="2" stroke-linejoin="round" marker-start="url(#sb)" marker-mid="url(#sb)" marker-end="url(#sb)"/><polyline points="1650.8,1253.3 1679.7,1248.2 1708.3,1261.8 1736.4,1260.7 1764.8,1252.2 1793,1265.5 1821.5,1273.2 1849.9,1275.7 1878.5,1276.7 1906.9,1277.8 1935.5,1278.8" fill="none" stroke="#f763ae" stroke-width="2" stroke-linejoin="round" marker-start="url(#sp)" marker-mid="url(#sp)" marker-end="url(#sp)"/><rect x="1650.8" y="1181.3" width="284.2" height="211" fill="none" stroke="#000" stroke-width="2.6"/><path d="M1650.8 1392.3v3.2M1679.2 1392.3v5.5M1707.6 1392.3v3.2M1736.1 1392.3v5.5M1764.5 1392.3v3.2M1792.9 1392.3v5.5M1821.3 1392.3v3.2M1849.7 1392.3v5.5M1878.2 1392.3v3.2M1906.6 1392.3v5.5M1935 1392.3v3.2M1650.8 1191.5h-3.4M1650.8 1201.7h-3.4M1650.8 1214.5h-3.4M1650.8 1228.9h-3.4M1650.8 1245.1h-3.4M1650.8 1266.4h-3.4M1650.8 1291.9h-3.4M1650.8 1329.3h-3.4" stroke="#000" stroke-width="1.8" fill="none"/><line x1="1648.8" y1="1268.9" x2="1648.8" y2="1290.2" stroke="#000" stroke-width="2.2" stroke-dasharray="1 1.3"/><line x1="1648.8" y1="1331" x2="1648.8" y2="1390.6" stroke="#000" stroke-width="2.2" stroke-dasharray="1 1.3"/><text x="1679.2" y="1421.6" font-size="22.8" text-anchor="middle" textLength="47" lengthAdjust="spacingAndGlyphs">1126</text><text x="1736.1" y="1421.6" font-size="22.8" text-anchor="middle" textLength="47" lengthAdjust="spacingAndGlyphs">1128</text><text x="1792.9" y="1421.6" font-size="22.8" text-anchor="middle" textLength="47" lengthAdjust="spacingAndGlyphs">1130</text><text x="1849.7" y="1421.6" font-size="22.8" text-anchor="middle" textLength="47" lengthAdjust="spacingAndGlyphs">1132</text><text x="1906.6" y="1421.6" font-size="22.8" text-anchor="middle" textLength="47" lengthAdjust="spacingAndGlyphs">1134</text><text x="1685.3" y="1240" font-size="28" textLength="65.7" lengthAdjust="spacingAndGlyphs">SC-2</text><text x="1793" y="1252.8" font-size="28" textLength="110.5" lengthAdjust="spacingAndGlyphs">182.4 ps</text><text x="1693.5" y="1311.1" font-size="28" textLength="110.5" lengthAdjust="spacingAndGlyphs">170.4 ps</text><text x="1685.3" y="1346.4" font-size="28" textLength="63.8" lengthAdjust="spacingAndGlyphs">SC-1</text><rect x="1442.6" y="1160.2" width="519.6" height="386.9" fill="none" stroke="#000" stroke-width="3.1"/><path d="M1442.4 1547.1v7.5M1494.4 1547.1v4M1546.4 1547.1v7.5M1598.4 1547.1v4M1650.4 1547.1v7.5M1702.3 1547.1v4M1754.3 1547.1v7.5M1806.3 1547.1v4M1858.3 1547.1v7.5M1910.3 1547.1v4M1962.3 1547.1v7.5M1442.6 1547.2h-7.5M1442.6 1521.8h-3.6M1442.6 1507h-3.6M1442.6 1496.4h-3.6M1442.6 1488.2h-3.6M1442.6 1481.6h-3.6M1442.6 1475.9h-3.6M1442.6 1471h-3.6M1442.6 1466.7h-3.6M1442.6 1462.9h-7.5M1442.6 1437.5h-3.6M1442.6 1422.6h-3.6M1442.6 1412.1h-3.6M1442.6 1403.9h-3.6M1442.6 1397.2h-3.6M1442.6 1391.6h-3.6M1442.6 1386.7h-3.6M1442.6 1382.4h-3.6M1442.6 1378.5h-7.5M1442.6 1353.1h-3.6M1442.6 1338.3h-3.6M1442.6 1327.7h-3.6M1442.6 1319.5h-3.6M1442.6 1312.9h-3.6M1442.6 1307.2h-3.6M1442.6 1302.3h-3.6M1442.6 1298h-3.6M1442.6 1294.2h-7.5M1442.6 1268.8h-3.6M1442.6 1253.9h-3.6M1442.6 1243.4h-3.6M1442.6 1235.2h-3.6M1442.6 1228.5h-3.6M1442.6 1222.9h-3.6M1442.6 1218h-3.6M1442.6 1213.7h-3.6M1442.6 1209.8h-7.5M1442.6 1184.4h-3.6M1442.6 1169.6h-3.6" stroke="#000" stroke-width="2.2" fill="none"/><text x="1442.4" y="1582.6" font-size="29" text-anchor="middle" textLength="50.3" lengthAdjust="spacingAndGlyphs">500</text><text x="1546.4" y="1582.6" font-size="29" text-anchor="middle" textLength="67.1" lengthAdjust="spacingAndGlyphs">1000</text><text x="1650.4" y="1582.6" font-size="29" text-anchor="middle" textLength="67.1" lengthAdjust="spacingAndGlyphs">1500</text><text x="1754.3" y="1582.6" font-size="29" text-anchor="middle" textLength="67.1" lengthAdjust="spacingAndGlyphs">2000</text><text x="1858.3" y="1582.6" font-size="29" text-anchor="middle" textLength="67.1" lengthAdjust="spacingAndGlyphs">2500</text><text x="1962.3" y="1582.6" font-size="29" text-anchor="middle" textLength="67.1" lengthAdjust="spacingAndGlyphs">3000</text><text x="1386.8" y="1558.4" font-size="28" textLength="28" lengthAdjust="spacingAndGlyphs">10</text><text x="1417.2" y="1545.6" font-size="18" font-weight="normal" stroke="#000" stroke-width="0.4">0</text><text x="1386.8" y="1474.1" font-size="28" textLength="28" lengthAdjust="spacingAndGlyphs">10</text><text x="1417.2" y="1461.3" font-size="18" font-weight="normal" stroke="#000" stroke-width="0.4">1</text><text x="1386.8" y="1389.7" font-size="28" textLength="28" lengthAdjust="spacingAndGlyphs">10</text><text x="1417.2" y="1376.9" font-size="18" font-weight="normal" stroke="#000" stroke-width="0.4">2</text><text x="1386.8" y="1305.4" font-size="28" textLength="28" lengthAdjust="spacingAndGlyphs">10</text><text x="1417.2" y="1292.6" font-size="18" font-weight="normal" stroke="#000" stroke-width="0.4">3</text><text x="1386.8" y="1221" font-size="28" textLength="28" lengthAdjust="spacingAndGlyphs">10</text><text x="1417.2" y="1208.2" font-size="18" font-weight="normal" stroke="#000" stroke-width="0.4">4</text><text font-size="31" textLength="98.2" lengthAdjust="spacingAndGlyphs" transform="translate(1378 1427) rotate(-90)">Counts</text><text x="1439" y="1630.4" font-size="33.5" textLength="506.4" lengthAdjust="spacingAndGlyphs" style="white-space:pre">Channel  number  (13.0 ps/chn)</text><text x="1324.9" y="1211.9" font-size="61" textLength="16.4" lengthAdjust="spacingAndGlyphs">i</text></g>
</svg>
</body></html>
